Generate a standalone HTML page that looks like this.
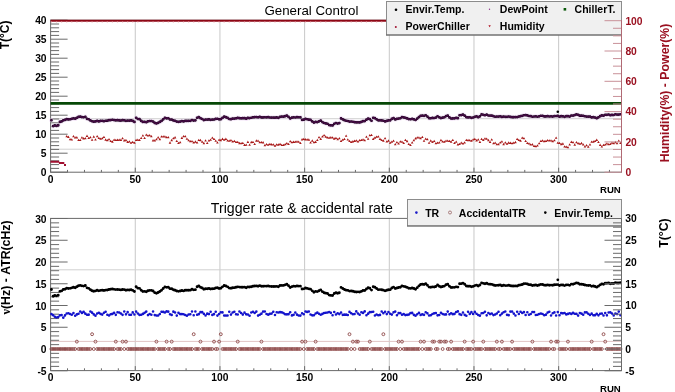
<!DOCTYPE html>
<html><head><meta charset="utf-8"><style>
html,body{margin:0;padding:0;background:#fff;width:675px;height:392px;overflow:hidden}
svg{display:block;will-change:transform}
</style></head><body>
<svg width="675" height="392" viewBox="0 0 675 392">
<rect width="675" height="392" fill="#fff"/>
<line x1="135.28" y1="20.2" x2="135.28" y2="172.2" stroke="#c8c8c8" stroke-width="1"/>
<line x1="219.95" y1="20.2" x2="219.95" y2="172.2" stroke="#c8c8c8" stroke-width="1"/>
<line x1="304.62" y1="20.2" x2="304.62" y2="172.2" stroke="#c8c8c8" stroke-width="1"/>
<line x1="389.3" y1="20.2" x2="389.3" y2="172.2" stroke="#c8c8c8" stroke-width="1"/>
<line x1="473.98" y1="20.2" x2="473.98" y2="172.2" stroke="#c8c8c8" stroke-width="1"/>
<line x1="558.65" y1="20.2" x2="558.65" y2="172.2" stroke="#c8c8c8" stroke-width="1"/>
<line x1="50.6" y1="118.7" x2="621.5" y2="118.7" stroke="#d0d0d0" stroke-width="1"/>
<line x1="50.6" y1="149.2" x2="621.5" y2="149.2" stroke="#d0d0d0" stroke-width="1"/>
<rect x="50.6" y="20.2" width="570.9" height="152" fill="none" stroke="#6a6a6a" stroke-width="1"/>
<path d="M50.6 172.2h17M50.6 168.4h8.5M50.6 164.6h8.5M50.6 160.8h8.5M50.6 157h8.5M50.6 153.2h17M50.6 149.4h8.5M50.6 145.6h8.5M50.6 141.8h8.5M50.6 138h8.5M50.6 134.2h17M50.6 130.4h8.5M50.6 126.6h8.5M50.6 122.8h8.5M50.6 119h8.5M50.6 115.2h17M50.6 111.4h8.5M50.6 107.6h8.5M50.6 103.8h8.5M50.6 100h8.5M50.6 96.2h17M50.6 92.4h8.5M50.6 88.6h8.5M50.6 84.8h8.5M50.6 81h8.5M50.6 77.2h17M50.6 73.4h8.5M50.6 69.6h8.5M50.6 65.8h8.5M50.6 62h8.5M50.6 58.2h17M50.6 54.4h8.5M50.6 50.6h8.5M50.6 46.8h8.5M50.6 43h8.5M50.6 39.2h17M50.6 35.4h8.5M50.6 31.6h8.5M50.6 27.8h8.5M50.6 24h8.5M50.6 20.2h17M50.6 172.2v-4.5M67.53 172.2v-2.3M84.47 172.2v-2.3M101.41 172.2v-2.3M118.34 172.2v-2.3M135.28 172.2v-4.5M152.21 172.2v-2.3M169.15 172.2v-2.3M186.08 172.2v-2.3M203.01 172.2v-2.3M219.95 172.2v-4.5M236.88 172.2v-2.3M253.82 172.2v-2.3M270.75 172.2v-2.3M287.69 172.2v-2.3M304.62 172.2v-4.5M321.56 172.2v-2.3M338.5 172.2v-2.3M355.43 172.2v-2.3M372.37 172.2v-2.3M389.3 172.2v-4.5M406.24 172.2v-2.3M423.17 172.2v-2.3M440.11 172.2v-2.3M457.04 172.2v-2.3M473.98 172.2v-4.5M490.91 172.2v-2.3M507.85 172.2v-2.3M524.78 172.2v-2.3M541.72 172.2v-2.3M558.65 172.2v-4.5M575.59 172.2v-2.3M592.52 172.2v-2.3M609.46 172.2v-2.3" stroke="#6a6a6a" stroke-width="1" fill="none"/>
<line x1="50.6" y1="103.4" x2="621.5" y2="103.4" stroke="#064806" stroke-width="2.8"/>
<line x1="50.6" y1="20.75" x2="621.5" y2="20.75" stroke="#8e0614" stroke-width="2.1"/>
<path d="M50.85 21.6h1.2v0.8h-1.2zM55.93 21.6h1.2v0.8h-1.2zM61.01 21.6h1.2v0.8h-1.2zM66.09 21.6h1.2v0.8h-1.2zM71.17 21.6h1.2v0.8h-1.2zM76.25 21.6h1.2v0.8h-1.2zM81.33 21.6h1.2v0.8h-1.2zM86.41 21.6h1.2v0.8h-1.2zM91.49 21.6h1.2v0.8h-1.2zM96.57 21.6h1.2v0.8h-1.2zM101.65 21.6h1.2v0.8h-1.2zM106.73 21.6h1.2v0.8h-1.2zM111.81 21.6h1.2v0.8h-1.2zM116.89 21.6h1.2v0.8h-1.2zM121.97 21.6h1.2v0.8h-1.2zM127.05 21.6h1.2v0.8h-1.2zM132.13 21.6h1.2v0.8h-1.2zM137.22 21.6h1.2v0.8h-1.2zM142.3 21.6h1.2v0.8h-1.2zM147.38 21.6h1.2v0.8h-1.2zM152.46 21.6h1.2v0.8h-1.2zM157.54 21.6h1.2v0.8h-1.2zM162.62 21.6h1.2v0.8h-1.2zM167.7 21.6h1.2v0.8h-1.2zM172.78 21.6h1.2v0.8h-1.2zM177.86 21.6h1.2v0.8h-1.2zM182.94 21.6h1.2v0.8h-1.2zM188.02 21.6h1.2v0.8h-1.2zM193.1 21.6h1.2v0.8h-1.2zM198.18 21.6h1.2v0.8h-1.2zM203.26 21.6h1.2v0.8h-1.2zM208.34 21.6h1.2v0.8h-1.2zM213.42 21.6h1.2v0.8h-1.2zM218.5 21.6h1.2v0.8h-1.2zM223.58 21.6h1.2v0.8h-1.2zM228.66 21.6h1.2v0.8h-1.2zM233.74 21.6h1.2v0.8h-1.2zM238.83 21.6h1.2v0.8h-1.2zM243.91 21.6h1.2v0.8h-1.2zM248.99 21.6h1.2v0.8h-1.2zM254.07 21.6h1.2v0.8h-1.2zM259.15 21.6h1.2v0.8h-1.2zM264.23 21.6h1.2v0.8h-1.2zM269.31 21.6h1.2v0.8h-1.2zM274.39 21.6h1.2v0.8h-1.2zM279.47 21.6h1.2v0.8h-1.2zM284.55 21.6h1.2v0.8h-1.2zM289.63 21.6h1.2v0.8h-1.2zM294.71 21.6h1.2v0.8h-1.2zM299.79 21.6h1.2v0.8h-1.2zM304.87 21.6h1.2v0.8h-1.2zM309.95 21.6h1.2v0.8h-1.2zM315.03 21.6h1.2v0.8h-1.2zM320.11 21.6h1.2v0.8h-1.2zM325.19 21.6h1.2v0.8h-1.2zM330.27 21.6h1.2v0.8h-1.2zM335.35 21.6h1.2v0.8h-1.2zM340.44 21.6h1.2v0.8h-1.2zM345.52 21.6h1.2v0.8h-1.2zM350.6 21.6h1.2v0.8h-1.2zM355.68 21.6h1.2v0.8h-1.2zM360.76 21.6h1.2v0.8h-1.2zM365.84 21.6h1.2v0.8h-1.2zM370.92 21.6h1.2v0.8h-1.2zM376 21.6h1.2v0.8h-1.2zM381.08 21.6h1.2v0.8h-1.2zM386.16 21.6h1.2v0.8h-1.2zM391.24 21.6h1.2v0.8h-1.2zM396.32 21.6h1.2v0.8h-1.2zM401.4 21.6h1.2v0.8h-1.2zM406.48 21.6h1.2v0.8h-1.2zM411.56 21.6h1.2v0.8h-1.2zM416.64 21.6h1.2v0.8h-1.2zM421.72 21.6h1.2v0.8h-1.2zM426.8 21.6h1.2v0.8h-1.2zM431.88 21.6h1.2v0.8h-1.2zM436.96 21.6h1.2v0.8h-1.2zM442.05 21.6h1.2v0.8h-1.2zM447.13 21.6h1.2v0.8h-1.2zM452.21 21.6h1.2v0.8h-1.2zM457.29 21.6h1.2v0.8h-1.2zM462.37 21.6h1.2v0.8h-1.2zM467.45 21.6h1.2v0.8h-1.2zM472.53 21.6h1.2v0.8h-1.2zM477.61 21.6h1.2v0.8h-1.2zM482.69 21.6h1.2v0.8h-1.2zM487.77 21.6h1.2v0.8h-1.2zM492.85 21.6h1.2v0.8h-1.2zM497.93 21.6h1.2v0.8h-1.2zM503.01 21.6h1.2v0.8h-1.2zM508.09 21.6h1.2v0.8h-1.2zM513.17 21.6h1.2v0.8h-1.2zM518.25 21.6h1.2v0.8h-1.2zM523.33 21.6h1.2v0.8h-1.2zM528.41 21.6h1.2v0.8h-1.2zM533.49 21.6h1.2v0.8h-1.2zM538.57 21.6h1.2v0.8h-1.2zM543.66 21.6h1.2v0.8h-1.2zM548.74 21.6h1.2v0.8h-1.2zM553.82 21.6h1.2v0.8h-1.2zM558.9 21.6h1.2v0.8h-1.2zM563.98 21.6h1.2v0.8h-1.2zM569.06 21.6h1.2v0.8h-1.2zM574.14 21.6h1.2v0.8h-1.2zM579.22 21.6h1.2v0.8h-1.2zM584.3 21.6h1.2v0.8h-1.2zM589.38 21.6h1.2v0.8h-1.2zM594.46 21.6h1.2v0.8h-1.2zM599.54 21.6h1.2v0.8h-1.2zM604.62 21.6h1.2v0.8h-1.2zM609.7 21.6h1.2v0.8h-1.2zM614.78 21.6h1.2v0.8h-1.2zM619.86 21.6h1.2v0.8h-1.2z" fill="#f0a0a8" opacity="0.9"/>
<path d="M50.45 160.7h2v2h-2zM52.14 160.7h2v2h-2zM53.83 160.7h2v2h-2zM55.53 160.7h2v2h-2zM57.22 160.7h2v2h-2zM58.91 162h2v2h-2zM60.61 162h2v2h-2zM62.3 162h2v2h-2zM63.99 164h2v2h-2z" fill="#a01030"/>
<path d="M65.39 137.27h2.6l-1.3-2.3zM67.08 137.9h2.6l-1.3-2.3zM68.78 140.31h2.6l-1.3-2.3zM70.47 140.59h2.6l-1.3-2.3zM72.16 137.28h2.6l-1.3-2.3zM73.86 138.59h2.6l-1.3-2.3zM75.55 138.38h2.6l-1.3-2.3zM77.24 140.98h2.6l-1.3-2.3zM78.94 141.08h2.6l-1.3-2.3zM80.63 138.54h2.6l-1.3-2.3zM82.32 139.39h2.6l-1.3-2.3zM84.02 139.29h2.6l-1.3-2.3zM85.71 136.88h2.6l-1.3-2.3zM87.4 138.96h2.6l-1.3-2.3zM89.1 138.19h2.6l-1.3-2.3zM90.79 140.77h2.6l-1.3-2.3zM92.48 137.67h2.6l-1.3-2.3zM94.18 140.46h2.6l-1.3-2.3zM95.87 137.21h2.6l-1.3-2.3zM97.56 138.94h2.6l-1.3-2.3zM99.26 139.85h2.6l-1.3-2.3zM100.95 139.35h2.6l-1.3-2.3zM102.65 138.04h2.6l-1.3-2.3zM104.34 140.66h2.6l-1.3-2.3zM106.03 141.3h2.6l-1.3-2.3zM107.73 140.35h2.6l-1.3-2.3zM109.42 142.02h2.6l-1.3-2.3zM111.11 142.66h2.6l-1.3-2.3zM112.81 140.7h2.6l-1.3-2.3zM114.5 141.03h2.6l-1.3-2.3zM116.19 140.88h2.6l-1.3-2.3zM117.89 140.72h2.6l-1.3-2.3zM119.58 140.92h2.6l-1.3-2.3zM121.27 139.37h2.6l-1.3-2.3zM122.97 141.38h2.6l-1.3-2.3zM124.66 141.13h2.6l-1.3-2.3zM126.35 142.89h2.6l-1.3-2.3zM128.05 142.58h2.6l-1.3-2.3zM129.74 143.83h2.6l-1.3-2.3zM131.43 142.95h2.6l-1.3-2.3zM133.13 143.84h2.6l-1.3-2.3zM134.82 141.04h2.6l-1.3-2.3zM136.52 140.71h2.6l-1.3-2.3zM138.21 141.06h2.6l-1.3-2.3zM139.9 138.95h2.6l-1.3-2.3zM141.6 136.55h2.6l-1.3-2.3zM143.29 139.06h2.6l-1.3-2.3zM144.98 135.72h2.6l-1.3-2.3zM146.68 136.55h2.6l-1.3-2.3zM148.37 136.33h2.6l-1.3-2.3zM150.06 137.37h2.6l-1.3-2.3zM151.76 141.38h2.6l-1.3-2.3zM153.45 141.59h2.6l-1.3-2.3zM155.14 140.22h2.6l-1.3-2.3zM156.84 138.41h2.6l-1.3-2.3zM158.53 140.16h2.6l-1.3-2.3zM160.22 137.61h2.6l-1.3-2.3zM161.92 137.55h2.6l-1.3-2.3zM163.61 137.6h2.6l-1.3-2.3zM165.3 138.26h2.6l-1.3-2.3zM167 138.26h2.6l-1.3-2.3zM168.69 143.66h2.6l-1.3-2.3zM170.39 141.16h2.6l-1.3-2.3zM172.08 139.31h2.6l-1.3-2.3zM173.77 138.42h2.6l-1.3-2.3zM175.47 141.93h2.6l-1.3-2.3zM177.16 143.94h2.6l-1.3-2.3zM178.85 143.24h2.6l-1.3-2.3zM180.55 138.91h2.6l-1.3-2.3zM182.24 137.35h2.6l-1.3-2.3zM183.93 137.19h2.6l-1.3-2.3zM185.63 139.87h2.6l-1.3-2.3zM187.32 141.22h2.6l-1.3-2.3zM189.01 142.23h2.6l-1.3-2.3zM190.71 142.25h2.6l-1.3-2.3zM192.4 143.56h2.6l-1.3-2.3zM194.09 142.64h2.6l-1.3-2.3zM195.79 143.51h2.6l-1.3-2.3zM197.48 141.02h2.6l-1.3-2.3zM199.17 141.14h2.6l-1.3-2.3zM200.87 142.87h2.6l-1.3-2.3zM202.56 144.14h2.6l-1.3-2.3zM204.26 141.52h2.6l-1.3-2.3zM205.95 143.93h2.6l-1.3-2.3zM207.64 141.57h2.6l-1.3-2.3zM209.34 140.74h2.6l-1.3-2.3zM211.03 138.78h2.6l-1.3-2.3zM212.72 140.12h2.6l-1.3-2.3zM214.42 141.71h2.6l-1.3-2.3zM216.11 143.56h2.6l-1.3-2.3zM217.8 140.83h2.6l-1.3-2.3zM219.5 141.15h2.6l-1.3-2.3zM221.19 139.88h2.6l-1.3-2.3zM222.88 140.81h2.6l-1.3-2.3zM224.58 139.9h2.6l-1.3-2.3zM226.27 141.53h2.6l-1.3-2.3zM227.96 141.87h2.6l-1.3-2.3zM229.66 141.33h2.6l-1.3-2.3zM231.35 142.45h2.6l-1.3-2.3zM233.04 141.97h2.6l-1.3-2.3zM234.74 143.04h2.6l-1.3-2.3zM236.43 143.06h2.6l-1.3-2.3zM238.13 144.16h2.6l-1.3-2.3zM239.82 144.26h2.6l-1.3-2.3zM241.51 143.96h2.6l-1.3-2.3zM243.21 145.89h2.6l-1.3-2.3zM244.9 145.76h2.6l-1.3-2.3zM246.59 142.89h2.6l-1.3-2.3zM248.29 145.69h2.6l-1.3-2.3zM249.98 143.14h2.6l-1.3-2.3zM251.67 143.08h2.6l-1.3-2.3zM253.37 144.99h2.6l-1.3-2.3zM255.06 141.64h2.6l-1.3-2.3zM256.75 141.84h2.6l-1.3-2.3zM258.45 143.26h2.6l-1.3-2.3zM260.14 143.27h2.6l-1.3-2.3zM261.83 143.39h2.6l-1.3-2.3zM263.53 146.36h2.6l-1.3-2.3zM265.22 145.31h2.6l-1.3-2.3zM266.91 145.8h2.6l-1.3-2.3zM268.61 144.96h2.6l-1.3-2.3zM270.3 145.41h2.6l-1.3-2.3zM272 145.62h2.6l-1.3-2.3zM273.69 146.83h2.6l-1.3-2.3zM275.38 145.5h2.6l-1.3-2.3zM277.08 145.63h2.6l-1.3-2.3zM278.77 144.93h2.6l-1.3-2.3zM280.46 146.02h2.6l-1.3-2.3zM282.16 146.11h2.6l-1.3-2.3zM283.85 145.18h2.6l-1.3-2.3zM285.54 144.23h2.6l-1.3-2.3zM287.24 145.12h2.6l-1.3-2.3zM288.93 142.26h2.6l-1.3-2.3zM290.62 143.23h2.6l-1.3-2.3zM292.32 142.89h2.6l-1.3-2.3zM294.01 142.81h2.6l-1.3-2.3zM295.7 142.52h2.6l-1.3-2.3zM297.4 142.74h2.6l-1.3-2.3zM299.09 144.01h2.6l-1.3-2.3zM300.78 140.42h2.6l-1.3-2.3zM302.48 140.04h2.6l-1.3-2.3zM304.17 140.4h2.6l-1.3-2.3zM305.87 140.47h2.6l-1.3-2.3zM307.56 140.64h2.6l-1.3-2.3zM309.25 143.54h2.6l-1.3-2.3zM310.95 141.64h2.6l-1.3-2.3zM312.64 143.35h2.6l-1.3-2.3zM314.33 142.9h2.6l-1.3-2.3zM316.03 141.04h2.6l-1.3-2.3zM317.72 138.33h2.6l-1.3-2.3zM319.41 139.91h2.6l-1.3-2.3zM321.11 137.48h2.6l-1.3-2.3zM322.8 136.18h2.6l-1.3-2.3zM324.49 137.65h2.6l-1.3-2.3zM326.19 138.57h2.6l-1.3-2.3zM327.88 138.7h2.6l-1.3-2.3zM329.57 138.41h2.6l-1.3-2.3zM331.27 138.59h2.6l-1.3-2.3zM332.96 139.66h2.6l-1.3-2.3zM334.65 138.99h2.6l-1.3-2.3zM336.35 140.31h2.6l-1.3-2.3zM338.04 139.21h2.6l-1.3-2.3zM339.74 142.07h2.6l-1.3-2.3zM341.43 140.83h2.6l-1.3-2.3zM343.12 140.11h2.6l-1.3-2.3zM344.82 136.76h2.6l-1.3-2.3zM346.51 140.56h2.6l-1.3-2.3zM348.2 142.07h2.6l-1.3-2.3zM349.9 142.97h2.6l-1.3-2.3zM351.59 142.4h2.6l-1.3-2.3zM353.28 141.9h2.6l-1.3-2.3zM354.98 141.54h2.6l-1.3-2.3zM356.67 142.58h2.6l-1.3-2.3zM358.36 141.3h2.6l-1.3-2.3zM360.06 141.02h2.6l-1.3-2.3zM361.75 140.45h2.6l-1.3-2.3zM363.44 141.21h2.6l-1.3-2.3zM365.14 137.71h2.6l-1.3-2.3zM366.83 139.79h2.6l-1.3-2.3zM368.52 136.27h2.6l-1.3-2.3zM370.22 136h2.6l-1.3-2.3zM371.91 139.9h2.6l-1.3-2.3zM373.61 138.64h2.6l-1.3-2.3zM375.3 137.68h2.6l-1.3-2.3zM376.99 137.53h2.6l-1.3-2.3zM378.69 139.92h2.6l-1.3-2.3zM380.38 141.02h2.6l-1.3-2.3zM382.07 141.66h2.6l-1.3-2.3zM383.77 139.28h2.6l-1.3-2.3zM385.46 142.54h2.6l-1.3-2.3zM387.15 141.63h2.6l-1.3-2.3zM388.85 143.81h2.6l-1.3-2.3zM390.54 142.85h2.6l-1.3-2.3zM392.23 141.72h2.6l-1.3-2.3zM393.93 145.31h2.6l-1.3-2.3zM395.62 143.18h2.6l-1.3-2.3zM397.31 144.48h2.6l-1.3-2.3zM399.01 142.53h2.6l-1.3-2.3zM400.7 142.71h2.6l-1.3-2.3zM402.39 143.99h2.6l-1.3-2.3zM404.09 140.95h2.6l-1.3-2.3zM405.78 142.16h2.6l-1.3-2.3zM407.48 144.96h2.6l-1.3-2.3zM409.17 146.08h2.6l-1.3-2.3zM410.86 143.5h2.6l-1.3-2.3zM412.56 141.24h2.6l-1.3-2.3zM414.25 139.39h2.6l-1.3-2.3zM415.94 138.58h2.6l-1.3-2.3zM417.64 138.49h2.6l-1.3-2.3zM419.33 139.27h2.6l-1.3-2.3zM421.02 137.96h2.6l-1.3-2.3zM422.72 141.82h2.6l-1.3-2.3zM424.41 139.76h2.6l-1.3-2.3zM426.1 140.28h2.6l-1.3-2.3zM427.8 143.87h2.6l-1.3-2.3zM429.49 141.67h2.6l-1.3-2.3zM431.18 142.93h2.6l-1.3-2.3zM432.88 142.07h2.6l-1.3-2.3zM434.57 144.25h2.6l-1.3-2.3zM436.26 143.8h2.6l-1.3-2.3zM437.96 143.57h2.6l-1.3-2.3zM439.65 141.13h2.6l-1.3-2.3zM441.35 142.47h2.6l-1.3-2.3zM443.04 142.7h2.6l-1.3-2.3zM444.73 141.81h2.6l-1.3-2.3zM446.43 141.76h2.6l-1.3-2.3zM448.12 141.98h2.6l-1.3-2.3zM449.81 142.67h2.6l-1.3-2.3zM451.51 140.96h2.6l-1.3-2.3zM453.2 144.12h2.6l-1.3-2.3zM454.89 142.72h2.6l-1.3-2.3zM456.59 145.41h2.6l-1.3-2.3zM458.28 145.01h2.6l-1.3-2.3zM459.97 143.73h2.6l-1.3-2.3zM461.67 144.61h2.6l-1.3-2.3zM463.36 143.57h2.6l-1.3-2.3zM465.05 141.08h2.6l-1.3-2.3zM466.75 141.15h2.6l-1.3-2.3zM468.44 141.22h2.6l-1.3-2.3zM470.13 141.7h2.6l-1.3-2.3zM471.83 140.43h2.6l-1.3-2.3zM473.52 140.12h2.6l-1.3-2.3zM475.22 141.4h2.6l-1.3-2.3zM476.91 140.55h2.6l-1.3-2.3zM478.6 142.9h2.6l-1.3-2.3zM480.3 140.1h2.6l-1.3-2.3zM481.99 140.96h2.6l-1.3-2.3zM483.68 139.61h2.6l-1.3-2.3zM485.38 139.82h2.6l-1.3-2.3zM487.07 141.15h2.6l-1.3-2.3zM488.76 142.91h2.6l-1.3-2.3zM490.46 140.43h2.6l-1.3-2.3zM492.15 144.32h2.6l-1.3-2.3zM493.84 143.87h2.6l-1.3-2.3zM495.54 145.21h2.6l-1.3-2.3zM497.23 145.36h2.6l-1.3-2.3zM498.92 143.56h2.6l-1.3-2.3zM500.62 142.53h2.6l-1.3-2.3zM502.31 145.13h2.6l-1.3-2.3zM504 143.5h2.6l-1.3-2.3zM505.7 144.73h2.6l-1.3-2.3zM507.39 143.63h2.6l-1.3-2.3zM509.09 143.92h2.6l-1.3-2.3zM510.78 144.29h2.6l-1.3-2.3zM512.47 143.83h2.6l-1.3-2.3zM514.17 143.16h2.6l-1.3-2.3zM515.86 140.02h2.6l-1.3-2.3zM517.55 141.09h2.6l-1.3-2.3zM519.25 141.65h2.6l-1.3-2.3zM520.94 138.8h2.6l-1.3-2.3zM522.63 139.2h2.6l-1.3-2.3zM524.33 142.02h2.6l-1.3-2.3zM526.02 143.94h2.6l-1.3-2.3zM527.71 144.47h2.6l-1.3-2.3zM529.41 145.6h2.6l-1.3-2.3zM531.1 145.39h2.6l-1.3-2.3zM532.79 147.08h2.6l-1.3-2.3zM534.49 147.25h2.6l-1.3-2.3zM536.18 146.46h2.6l-1.3-2.3zM537.87 144.23h2.6l-1.3-2.3zM539.57 141.97h2.6l-1.3-2.3zM541.26 141.45h2.6l-1.3-2.3zM542.96 142.18h2.6l-1.3-2.3zM544.65 141.93h2.6l-1.3-2.3zM546.34 141.27h2.6l-1.3-2.3zM548.04 141.58h2.6l-1.3-2.3zM549.73 141.49h2.6l-1.3-2.3zM551.42 142.29h2.6l-1.3-2.3zM553.12 141.23h2.6l-1.3-2.3zM554.81 138.84h2.6l-1.3-2.3zM556.5 143.76h2.6l-1.3-2.3zM558.2 144.06h2.6l-1.3-2.3zM559.89 145.15h2.6l-1.3-2.3zM561.58 144.67h2.6l-1.3-2.3zM563.28 147.54h2.6l-1.3-2.3zM564.97 147.73h2.6l-1.3-2.3zM566.66 148.22h2.6l-1.3-2.3zM568.36 145.46h2.6l-1.3-2.3zM570.05 142.88h2.6l-1.3-2.3zM571.74 143.37h2.6l-1.3-2.3zM573.44 145.65h2.6l-1.3-2.3zM575.13 143.26h2.6l-1.3-2.3zM576.83 144.2h2.6l-1.3-2.3zM578.52 144.71h2.6l-1.3-2.3zM580.21 144.16h2.6l-1.3-2.3zM581.91 145.47h2.6l-1.3-2.3zM583.6 147.47h2.6l-1.3-2.3zM585.29 146.31h2.6l-1.3-2.3zM586.99 147.81h2.6l-1.3-2.3zM588.68 145.59h2.6l-1.3-2.3zM590.37 142.87h2.6l-1.3-2.3zM592.07 142.66h2.6l-1.3-2.3zM593.76 141.94h2.6l-1.3-2.3zM595.45 140.89h2.6l-1.3-2.3zM597.15 143.12h2.6l-1.3-2.3zM598.84 145.89h2.6l-1.3-2.3zM600.53 147.51h2.6l-1.3-2.3zM602.23 146.12h2.6l-1.3-2.3zM603.92 145.51h2.6l-1.3-2.3zM605.61 144.52h2.6l-1.3-2.3zM607.31 145.36h2.6l-1.3-2.3zM609 144.99h2.6l-1.3-2.3zM610.7 143.81h2.6l-1.3-2.3zM612.39 144.24h2.6l-1.3-2.3zM614.08 143.15h2.6l-1.3-2.3zM615.78 144.36h2.6l-1.3-2.3zM617.47 141.73h2.6l-1.3-2.3zM619.16 144.03h2.6l-1.3-2.3z" fill="#a81818"/>
<path d="M49.15 120.26a2.3 2.3 0 1 0 4.6 0a2.3 2.3 0 1 0 -4.6 0zM50.84 126.12a2.3 2.3 0 1 0 4.6 0a2.3 2.3 0 1 0 -4.6 0zM52.53 125.46a2.3 2.3 0 1 0 4.6 0a2.3 2.3 0 1 0 -4.6 0zM54.23 125.79a2.3 2.3 0 1 0 4.6 0a2.3 2.3 0 1 0 -4.6 0zM55.92 125.17a2.3 2.3 0 1 0 4.6 0a2.3 2.3 0 1 0 -4.6 0zM57.61 121.89a2.3 2.3 0 1 0 4.6 0a2.3 2.3 0 1 0 -4.6 0zM59.31 121.43a2.3 2.3 0 1 0 4.6 0a2.3 2.3 0 1 0 -4.6 0zM61 120.28a2.3 2.3 0 1 0 4.6 0a2.3 2.3 0 1 0 -4.6 0zM62.69 119.97a2.3 2.3 0 1 0 4.6 0a2.3 2.3 0 1 0 -4.6 0zM64.39 119.19a2.3 2.3 0 1 0 4.6 0a2.3 2.3 0 1 0 -4.6 0zM66.08 119.39a2.3 2.3 0 1 0 4.6 0a2.3 2.3 0 1 0 -4.6 0zM67.78 119.24a2.3 2.3 0 1 0 4.6 0a2.3 2.3 0 1 0 -4.6 0zM69.47 118.8a2.3 2.3 0 1 0 4.6 0a2.3 2.3 0 1 0 -4.6 0zM71.16 118.3a2.3 2.3 0 1 0 4.6 0a2.3 2.3 0 1 0 -4.6 0zM72.86 118.65a2.3 2.3 0 1 0 4.6 0a2.3 2.3 0 1 0 -4.6 0zM74.55 117.83a2.3 2.3 0 1 0 4.6 0a2.3 2.3 0 1 0 -4.6 0zM76.24 116.89a2.3 2.3 0 1 0 4.6 0a2.3 2.3 0 1 0 -4.6 0zM77.94 116.65a2.3 2.3 0 1 0 4.6 0a2.3 2.3 0 1 0 -4.6 0zM79.63 117.03a2.3 2.3 0 1 0 4.6 0a2.3 2.3 0 1 0 -4.6 0zM81.32 117.25a2.3 2.3 0 1 0 4.6 0a2.3 2.3 0 1 0 -4.6 0zM83.02 116.78a2.3 2.3 0 1 0 4.6 0a2.3 2.3 0 1 0 -4.6 0zM84.71 118.8a2.3 2.3 0 1 0 4.6 0a2.3 2.3 0 1 0 -4.6 0zM86.4 119.24a2.3 2.3 0 1 0 4.6 0a2.3 2.3 0 1 0 -4.6 0zM88.1 120.47a2.3 2.3 0 1 0 4.6 0a2.3 2.3 0 1 0 -4.6 0zM89.79 121.26a2.3 2.3 0 1 0 4.6 0a2.3 2.3 0 1 0 -4.6 0zM91.48 121.72a2.3 2.3 0 1 0 4.6 0a2.3 2.3 0 1 0 -4.6 0zM93.18 121.47a2.3 2.3 0 1 0 4.6 0a2.3 2.3 0 1 0 -4.6 0zM94.87 120.92a2.3 2.3 0 1 0 4.6 0a2.3 2.3 0 1 0 -4.6 0zM96.56 121.41a2.3 2.3 0 1 0 4.6 0a2.3 2.3 0 1 0 -4.6 0zM98.26 120.96a2.3 2.3 0 1 0 4.6 0a2.3 2.3 0 1 0 -4.6 0zM99.95 120.87a2.3 2.3 0 1 0 4.6 0a2.3 2.3 0 1 0 -4.6 0zM101.65 121.12a2.3 2.3 0 1 0 4.6 0a2.3 2.3 0 1 0 -4.6 0zM103.34 120.77a2.3 2.3 0 1 0 4.6 0a2.3 2.3 0 1 0 -4.6 0zM105.03 120.71a2.3 2.3 0 1 0 4.6 0a2.3 2.3 0 1 0 -4.6 0zM106.73 120.21a2.3 2.3 0 1 0 4.6 0a2.3 2.3 0 1 0 -4.6 0zM108.42 120.06a2.3 2.3 0 1 0 4.6 0a2.3 2.3 0 1 0 -4.6 0zM110.11 119.74a2.3 2.3 0 1 0 4.6 0a2.3 2.3 0 1 0 -4.6 0zM111.81 120.08a2.3 2.3 0 1 0 4.6 0a2.3 2.3 0 1 0 -4.6 0zM113.5 120.3a2.3 2.3 0 1 0 4.6 0a2.3 2.3 0 1 0 -4.6 0zM115.19 120.17a2.3 2.3 0 1 0 4.6 0a2.3 2.3 0 1 0 -4.6 0zM116.89 120.38a2.3 2.3 0 1 0 4.6 0a2.3 2.3 0 1 0 -4.6 0zM118.58 120.58a2.3 2.3 0 1 0 4.6 0a2.3 2.3 0 1 0 -4.6 0zM120.27 120.19a2.3 2.3 0 1 0 4.6 0a2.3 2.3 0 1 0 -4.6 0zM121.97 120.34a2.3 2.3 0 1 0 4.6 0a2.3 2.3 0 1 0 -4.6 0zM123.66 120.82a2.3 2.3 0 1 0 4.6 0a2.3 2.3 0 1 0 -4.6 0zM125.35 120.58a2.3 2.3 0 1 0 4.6 0a2.3 2.3 0 1 0 -4.6 0zM127.05 120.69a2.3 2.3 0 1 0 4.6 0a2.3 2.3 0 1 0 -4.6 0zM128.74 120.43a2.3 2.3 0 1 0 4.6 0a2.3 2.3 0 1 0 -4.6 0zM130.43 120.96a2.3 2.3 0 1 0 4.6 0a2.3 2.3 0 1 0 -4.6 0zM132.13 121.96a2.3 2.3 0 1 0 4.6 0a2.3 2.3 0 1 0 -4.6 0zM133.82 117.77a2.3 2.3 0 1 0 4.6 0a2.3 2.3 0 1 0 -4.6 0zM135.52 119.02a2.3 2.3 0 1 0 4.6 0a2.3 2.3 0 1 0 -4.6 0zM137.21 119.22a2.3 2.3 0 1 0 4.6 0a2.3 2.3 0 1 0 -4.6 0zM138.9 120.91a2.3 2.3 0 1 0 4.6 0a2.3 2.3 0 1 0 -4.6 0zM140.6 121.93a2.3 2.3 0 1 0 4.6 0a2.3 2.3 0 1 0 -4.6 0zM142.29 121.85a2.3 2.3 0 1 0 4.6 0a2.3 2.3 0 1 0 -4.6 0zM143.98 122.13a2.3 2.3 0 1 0 4.6 0a2.3 2.3 0 1 0 -4.6 0zM145.68 121.31a2.3 2.3 0 1 0 4.6 0a2.3 2.3 0 1 0 -4.6 0zM147.37 120.98a2.3 2.3 0 1 0 4.6 0a2.3 2.3 0 1 0 -4.6 0zM149.06 121.02a2.3 2.3 0 1 0 4.6 0a2.3 2.3 0 1 0 -4.6 0zM150.76 121.59a2.3 2.3 0 1 0 4.6 0a2.3 2.3 0 1 0 -4.6 0zM152.45 122.94a2.3 2.3 0 1 0 4.6 0a2.3 2.3 0 1 0 -4.6 0zM154.14 123.44a2.3 2.3 0 1 0 4.6 0a2.3 2.3 0 1 0 -4.6 0zM155.84 122.82a2.3 2.3 0 1 0 4.6 0a2.3 2.3 0 1 0 -4.6 0zM157.53 121.97a2.3 2.3 0 1 0 4.6 0a2.3 2.3 0 1 0 -4.6 0zM159.22 120.89a2.3 2.3 0 1 0 4.6 0a2.3 2.3 0 1 0 -4.6 0zM160.92 119.3a2.3 2.3 0 1 0 4.6 0a2.3 2.3 0 1 0 -4.6 0zM162.61 117.96a2.3 2.3 0 1 0 4.6 0a2.3 2.3 0 1 0 -4.6 0zM164.3 118.32a2.3 2.3 0 1 0 4.6 0a2.3 2.3 0 1 0 -4.6 0zM166 118.27a2.3 2.3 0 1 0 4.6 0a2.3 2.3 0 1 0 -4.6 0zM167.69 119.48a2.3 2.3 0 1 0 4.6 0a2.3 2.3 0 1 0 -4.6 0zM169.39 119.56a2.3 2.3 0 1 0 4.6 0a2.3 2.3 0 1 0 -4.6 0zM171.08 120.38a2.3 2.3 0 1 0 4.6 0a2.3 2.3 0 1 0 -4.6 0zM172.77 120.84a2.3 2.3 0 1 0 4.6 0a2.3 2.3 0 1 0 -4.6 0zM174.47 121.56a2.3 2.3 0 1 0 4.6 0a2.3 2.3 0 1 0 -4.6 0zM176.16 121.84a2.3 2.3 0 1 0 4.6 0a2.3 2.3 0 1 0 -4.6 0zM177.85 121.53a2.3 2.3 0 1 0 4.6 0a2.3 2.3 0 1 0 -4.6 0zM179.55 121.06a2.3 2.3 0 1 0 4.6 0a2.3 2.3 0 1 0 -4.6 0zM181.24 121.43a2.3 2.3 0 1 0 4.6 0a2.3 2.3 0 1 0 -4.6 0zM182.93 120.82a2.3 2.3 0 1 0 4.6 0a2.3 2.3 0 1 0 -4.6 0zM184.63 120.89a2.3 2.3 0 1 0 4.6 0a2.3 2.3 0 1 0 -4.6 0zM186.32 120.84a2.3 2.3 0 1 0 4.6 0a2.3 2.3 0 1 0 -4.6 0zM188.01 120.8a2.3 2.3 0 1 0 4.6 0a2.3 2.3 0 1 0 -4.6 0zM189.71 120.06a2.3 2.3 0 1 0 4.6 0a2.3 2.3 0 1 0 -4.6 0zM191.4 120.54a2.3 2.3 0 1 0 4.6 0a2.3 2.3 0 1 0 -4.6 0zM193.09 120.34a2.3 2.3 0 1 0 4.6 0a2.3 2.3 0 1 0 -4.6 0zM194.79 117.75a2.3 2.3 0 1 0 4.6 0a2.3 2.3 0 1 0 -4.6 0zM196.48 117.21a2.3 2.3 0 1 0 4.6 0a2.3 2.3 0 1 0 -4.6 0zM198.17 118.21a2.3 2.3 0 1 0 4.6 0a2.3 2.3 0 1 0 -4.6 0zM199.87 118.98a2.3 2.3 0 1 0 4.6 0a2.3 2.3 0 1 0 -4.6 0zM201.56 120.04a2.3 2.3 0 1 0 4.6 0a2.3 2.3 0 1 0 -4.6 0zM203.26 119.61a2.3 2.3 0 1 0 4.6 0a2.3 2.3 0 1 0 -4.6 0zM204.95 119.55a2.3 2.3 0 1 0 4.6 0a2.3 2.3 0 1 0 -4.6 0zM206.64 119.38a2.3 2.3 0 1 0 4.6 0a2.3 2.3 0 1 0 -4.6 0zM208.34 119.79a2.3 2.3 0 1 0 4.6 0a2.3 2.3 0 1 0 -4.6 0zM210.03 119.55a2.3 2.3 0 1 0 4.6 0a2.3 2.3 0 1 0 -4.6 0zM211.72 119.49a2.3 2.3 0 1 0 4.6 0a2.3 2.3 0 1 0 -4.6 0zM213.42 118.91a2.3 2.3 0 1 0 4.6 0a2.3 2.3 0 1 0 -4.6 0zM215.11 118.74a2.3 2.3 0 1 0 4.6 0a2.3 2.3 0 1 0 -4.6 0zM216.8 119.37a2.3 2.3 0 1 0 4.6 0a2.3 2.3 0 1 0 -4.6 0zM218.5 119.15a2.3 2.3 0 1 0 4.6 0a2.3 2.3 0 1 0 -4.6 0zM220.19 117.91a2.3 2.3 0 1 0 4.6 0a2.3 2.3 0 1 0 -4.6 0zM221.88 116.72a2.3 2.3 0 1 0 4.6 0a2.3 2.3 0 1 0 -4.6 0zM223.58 117.19a2.3 2.3 0 1 0 4.6 0a2.3 2.3 0 1 0 -4.6 0zM225.27 117.92a2.3 2.3 0 1 0 4.6 0a2.3 2.3 0 1 0 -4.6 0zM226.96 119.01a2.3 2.3 0 1 0 4.6 0a2.3 2.3 0 1 0 -4.6 0zM228.66 119.14a2.3 2.3 0 1 0 4.6 0a2.3 2.3 0 1 0 -4.6 0zM230.35 118.66a2.3 2.3 0 1 0 4.6 0a2.3 2.3 0 1 0 -4.6 0zM232.04 118.6a2.3 2.3 0 1 0 4.6 0a2.3 2.3 0 1 0 -4.6 0zM233.74 118.31a2.3 2.3 0 1 0 4.6 0a2.3 2.3 0 1 0 -4.6 0zM235.43 117.89a2.3 2.3 0 1 0 4.6 0a2.3 2.3 0 1 0 -4.6 0zM237.13 118.13a2.3 2.3 0 1 0 4.6 0a2.3 2.3 0 1 0 -4.6 0zM238.82 118.29a2.3 2.3 0 1 0 4.6 0a2.3 2.3 0 1 0 -4.6 0zM240.51 118.19a2.3 2.3 0 1 0 4.6 0a2.3 2.3 0 1 0 -4.6 0zM242.21 118.14a2.3 2.3 0 1 0 4.6 0a2.3 2.3 0 1 0 -4.6 0zM243.9 118.71a2.3 2.3 0 1 0 4.6 0a2.3 2.3 0 1 0 -4.6 0zM245.59 117.94a2.3 2.3 0 1 0 4.6 0a2.3 2.3 0 1 0 -4.6 0zM247.29 118.04a2.3 2.3 0 1 0 4.6 0a2.3 2.3 0 1 0 -4.6 0zM248.98 117.76a2.3 2.3 0 1 0 4.6 0a2.3 2.3 0 1 0 -4.6 0zM250.67 117.33a2.3 2.3 0 1 0 4.6 0a2.3 2.3 0 1 0 -4.6 0zM252.37 117.2a2.3 2.3 0 1 0 4.6 0a2.3 2.3 0 1 0 -4.6 0zM254.06 117.09a2.3 2.3 0 1 0 4.6 0a2.3 2.3 0 1 0 -4.6 0zM255.75 117.36a2.3 2.3 0 1 0 4.6 0a2.3 2.3 0 1 0 -4.6 0zM257.45 116.88a2.3 2.3 0 1 0 4.6 0a2.3 2.3 0 1 0 -4.6 0zM259.14 117.4a2.3 2.3 0 1 0 4.6 0a2.3 2.3 0 1 0 -4.6 0zM260.83 117.39a2.3 2.3 0 1 0 4.6 0a2.3 2.3 0 1 0 -4.6 0zM262.53 117.27a2.3 2.3 0 1 0 4.6 0a2.3 2.3 0 1 0 -4.6 0zM264.22 117.31a2.3 2.3 0 1 0 4.6 0a2.3 2.3 0 1 0 -4.6 0zM265.91 117.15a2.3 2.3 0 1 0 4.6 0a2.3 2.3 0 1 0 -4.6 0zM267.61 117.48a2.3 2.3 0 1 0 4.6 0a2.3 2.3 0 1 0 -4.6 0zM269.3 117.6a2.3 2.3 0 1 0 4.6 0a2.3 2.3 0 1 0 -4.6 0zM271 117.54a2.3 2.3 0 1 0 4.6 0a2.3 2.3 0 1 0 -4.6 0zM272.69 117.66a2.3 2.3 0 1 0 4.6 0a2.3 2.3 0 1 0 -4.6 0zM274.38 117.47a2.3 2.3 0 1 0 4.6 0a2.3 2.3 0 1 0 -4.6 0zM276.08 117.82a2.3 2.3 0 1 0 4.6 0a2.3 2.3 0 1 0 -4.6 0zM277.77 116.78a2.3 2.3 0 1 0 4.6 0a2.3 2.3 0 1 0 -4.6 0zM279.46 116.62a2.3 2.3 0 1 0 4.6 0a2.3 2.3 0 1 0 -4.6 0zM281.16 116.64a2.3 2.3 0 1 0 4.6 0a2.3 2.3 0 1 0 -4.6 0zM282.85 116.14a2.3 2.3 0 1 0 4.6 0a2.3 2.3 0 1 0 -4.6 0zM284.54 115.65a2.3 2.3 0 1 0 4.6 0a2.3 2.3 0 1 0 -4.6 0zM286.24 116.93a2.3 2.3 0 1 0 4.6 0a2.3 2.3 0 1 0 -4.6 0zM287.93 118.51a2.3 2.3 0 1 0 4.6 0a2.3 2.3 0 1 0 -4.6 0zM289.62 117.72a2.3 2.3 0 1 0 4.6 0a2.3 2.3 0 1 0 -4.6 0zM291.32 117.29a2.3 2.3 0 1 0 4.6 0a2.3 2.3 0 1 0 -4.6 0zM293.01 117.48a2.3 2.3 0 1 0 4.6 0a2.3 2.3 0 1 0 -4.6 0zM294.7 117.17a2.3 2.3 0 1 0 4.6 0a2.3 2.3 0 1 0 -4.6 0zM296.4 117.24a2.3 2.3 0 1 0 4.6 0a2.3 2.3 0 1 0 -4.6 0zM298.09 117.29a2.3 2.3 0 1 0 4.6 0a2.3 2.3 0 1 0 -4.6 0zM299.78 119.83a2.3 2.3 0 1 0 4.6 0a2.3 2.3 0 1 0 -4.6 0zM301.48 119.66a2.3 2.3 0 1 0 4.6 0a2.3 2.3 0 1 0 -4.6 0zM303.17 118.9a2.3 2.3 0 1 0 4.6 0a2.3 2.3 0 1 0 -4.6 0zM304.87 119.26a2.3 2.3 0 1 0 4.6 0a2.3 2.3 0 1 0 -4.6 0zM306.56 119.66a2.3 2.3 0 1 0 4.6 0a2.3 2.3 0 1 0 -4.6 0zM308.25 119.91a2.3 2.3 0 1 0 4.6 0a2.3 2.3 0 1 0 -4.6 0zM309.95 121.4a2.3 2.3 0 1 0 4.6 0a2.3 2.3 0 1 0 -4.6 0zM311.64 122.56a2.3 2.3 0 1 0 4.6 0a2.3 2.3 0 1 0 -4.6 0zM313.33 121.89a2.3 2.3 0 1 0 4.6 0a2.3 2.3 0 1 0 -4.6 0zM315.03 122.05a2.3 2.3 0 1 0 4.6 0a2.3 2.3 0 1 0 -4.6 0zM316.72 121.28a2.3 2.3 0 1 0 4.6 0a2.3 2.3 0 1 0 -4.6 0zM318.41 120.57a2.3 2.3 0 1 0 4.6 0a2.3 2.3 0 1 0 -4.6 0zM320.11 122.11a2.3 2.3 0 1 0 4.6 0a2.3 2.3 0 1 0 -4.6 0zM321.8 123.02a2.3 2.3 0 1 0 4.6 0a2.3 2.3 0 1 0 -4.6 0zM323.49 123.42a2.3 2.3 0 1 0 4.6 0a2.3 2.3 0 1 0 -4.6 0zM325.19 123.74a2.3 2.3 0 1 0 4.6 0a2.3 2.3 0 1 0 -4.6 0zM326.88 125.12a2.3 2.3 0 1 0 4.6 0a2.3 2.3 0 1 0 -4.6 0zM328.57 125.36a2.3 2.3 0 1 0 4.6 0a2.3 2.3 0 1 0 -4.6 0zM330.27 125.47a2.3 2.3 0 1 0 4.6 0a2.3 2.3 0 1 0 -4.6 0zM331.96 123.78a2.3 2.3 0 1 0 4.6 0a2.3 2.3 0 1 0 -4.6 0zM333.65 123.02a2.3 2.3 0 1 0 4.6 0a2.3 2.3 0 1 0 -4.6 0zM335.35 123.55a2.3 2.3 0 1 0 4.6 0a2.3 2.3 0 1 0 -4.6 0zM337.04 123.03a2.3 2.3 0 1 0 4.6 0a2.3 2.3 0 1 0 -4.6 0zM338.74 118.38a2.3 2.3 0 1 0 4.6 0a2.3 2.3 0 1 0 -4.6 0zM340.43 119.34a2.3 2.3 0 1 0 4.6 0a2.3 2.3 0 1 0 -4.6 0zM342.12 120.23a2.3 2.3 0 1 0 4.6 0a2.3 2.3 0 1 0 -4.6 0zM343.82 120.77a2.3 2.3 0 1 0 4.6 0a2.3 2.3 0 1 0 -4.6 0zM345.51 120.99a2.3 2.3 0 1 0 4.6 0a2.3 2.3 0 1 0 -4.6 0zM347.2 121.6a2.3 2.3 0 1 0 4.6 0a2.3 2.3 0 1 0 -4.6 0zM348.9 121.48a2.3 2.3 0 1 0 4.6 0a2.3 2.3 0 1 0 -4.6 0zM350.59 121.77a2.3 2.3 0 1 0 4.6 0a2.3 2.3 0 1 0 -4.6 0zM352.28 122.21a2.3 2.3 0 1 0 4.6 0a2.3 2.3 0 1 0 -4.6 0zM353.98 122.36a2.3 2.3 0 1 0 4.6 0a2.3 2.3 0 1 0 -4.6 0zM355.67 122.28a2.3 2.3 0 1 0 4.6 0a2.3 2.3 0 1 0 -4.6 0zM357.36 122.44a2.3 2.3 0 1 0 4.6 0a2.3 2.3 0 1 0 -4.6 0zM359.06 121.9a2.3 2.3 0 1 0 4.6 0a2.3 2.3 0 1 0 -4.6 0zM360.75 121.16a2.3 2.3 0 1 0 4.6 0a2.3 2.3 0 1 0 -4.6 0zM362.44 121.12a2.3 2.3 0 1 0 4.6 0a2.3 2.3 0 1 0 -4.6 0zM364.14 119.72a2.3 2.3 0 1 0 4.6 0a2.3 2.3 0 1 0 -4.6 0zM365.83 118.64a2.3 2.3 0 1 0 4.6 0a2.3 2.3 0 1 0 -4.6 0zM367.52 119.15a2.3 2.3 0 1 0 4.6 0a2.3 2.3 0 1 0 -4.6 0zM369.22 120.76a2.3 2.3 0 1 0 4.6 0a2.3 2.3 0 1 0 -4.6 0zM370.91 117.83a2.3 2.3 0 1 0 4.6 0a2.3 2.3 0 1 0 -4.6 0zM372.61 118.2a2.3 2.3 0 1 0 4.6 0a2.3 2.3 0 1 0 -4.6 0zM374.3 119.3a2.3 2.3 0 1 0 4.6 0a2.3 2.3 0 1 0 -4.6 0zM375.99 120.36a2.3 2.3 0 1 0 4.6 0a2.3 2.3 0 1 0 -4.6 0zM377.69 120.31a2.3 2.3 0 1 0 4.6 0a2.3 2.3 0 1 0 -4.6 0zM379.38 120.39a2.3 2.3 0 1 0 4.6 0a2.3 2.3 0 1 0 -4.6 0zM381.07 120.77a2.3 2.3 0 1 0 4.6 0a2.3 2.3 0 1 0 -4.6 0zM382.77 121.41a2.3 2.3 0 1 0 4.6 0a2.3 2.3 0 1 0 -4.6 0zM384.46 120.9a2.3 2.3 0 1 0 4.6 0a2.3 2.3 0 1 0 -4.6 0zM386.15 120.42a2.3 2.3 0 1 0 4.6 0a2.3 2.3 0 1 0 -4.6 0zM387.85 120.33a2.3 2.3 0 1 0 4.6 0a2.3 2.3 0 1 0 -4.6 0zM389.54 118.92a2.3 2.3 0 1 0 4.6 0a2.3 2.3 0 1 0 -4.6 0zM391.23 118.11a2.3 2.3 0 1 0 4.6 0a2.3 2.3 0 1 0 -4.6 0zM392.93 119.4a2.3 2.3 0 1 0 4.6 0a2.3 2.3 0 1 0 -4.6 0zM394.62 118.86a2.3 2.3 0 1 0 4.6 0a2.3 2.3 0 1 0 -4.6 0zM396.31 118.53a2.3 2.3 0 1 0 4.6 0a2.3 2.3 0 1 0 -4.6 0zM398.01 118.24a2.3 2.3 0 1 0 4.6 0a2.3 2.3 0 1 0 -4.6 0zM399.7 117.11a2.3 2.3 0 1 0 4.6 0a2.3 2.3 0 1 0 -4.6 0zM401.39 117.45a2.3 2.3 0 1 0 4.6 0a2.3 2.3 0 1 0 -4.6 0zM403.09 117.87a2.3 2.3 0 1 0 4.6 0a2.3 2.3 0 1 0 -4.6 0zM404.78 118.41a2.3 2.3 0 1 0 4.6 0a2.3 2.3 0 1 0 -4.6 0zM406.48 119.1a2.3 2.3 0 1 0 4.6 0a2.3 2.3 0 1 0 -4.6 0zM408.17 119.27a2.3 2.3 0 1 0 4.6 0a2.3 2.3 0 1 0 -4.6 0zM409.86 118.94a2.3 2.3 0 1 0 4.6 0a2.3 2.3 0 1 0 -4.6 0zM411.56 119.32a2.3 2.3 0 1 0 4.6 0a2.3 2.3 0 1 0 -4.6 0zM413.25 120a2.3 2.3 0 1 0 4.6 0a2.3 2.3 0 1 0 -4.6 0zM414.94 118.59a2.3 2.3 0 1 0 4.6 0a2.3 2.3 0 1 0 -4.6 0zM416.64 117.06a2.3 2.3 0 1 0 4.6 0a2.3 2.3 0 1 0 -4.6 0zM418.33 115.89a2.3 2.3 0 1 0 4.6 0a2.3 2.3 0 1 0 -4.6 0zM420.02 115.59a2.3 2.3 0 1 0 4.6 0a2.3 2.3 0 1 0 -4.6 0zM421.72 115.81a2.3 2.3 0 1 0 4.6 0a2.3 2.3 0 1 0 -4.6 0zM423.41 115.26a2.3 2.3 0 1 0 4.6 0a2.3 2.3 0 1 0 -4.6 0zM425.1 116.57a2.3 2.3 0 1 0 4.6 0a2.3 2.3 0 1 0 -4.6 0zM426.8 118.14a2.3 2.3 0 1 0 4.6 0a2.3 2.3 0 1 0 -4.6 0zM428.49 118.26a2.3 2.3 0 1 0 4.6 0a2.3 2.3 0 1 0 -4.6 0zM430.18 117.93a2.3 2.3 0 1 0 4.6 0a2.3 2.3 0 1 0 -4.6 0zM431.88 117.98a2.3 2.3 0 1 0 4.6 0a2.3 2.3 0 1 0 -4.6 0zM433.57 117.6a2.3 2.3 0 1 0 4.6 0a2.3 2.3 0 1 0 -4.6 0zM435.26 116.24a2.3 2.3 0 1 0 4.6 0a2.3 2.3 0 1 0 -4.6 0zM436.96 117.33a2.3 2.3 0 1 0 4.6 0a2.3 2.3 0 1 0 -4.6 0zM438.65 118.06a2.3 2.3 0 1 0 4.6 0a2.3 2.3 0 1 0 -4.6 0zM440.35 117.64a2.3 2.3 0 1 0 4.6 0a2.3 2.3 0 1 0 -4.6 0zM442.04 117.26a2.3 2.3 0 1 0 4.6 0a2.3 2.3 0 1 0 -4.6 0zM443.73 116.03a2.3 2.3 0 1 0 4.6 0a2.3 2.3 0 1 0 -4.6 0zM445.43 115.64a2.3 2.3 0 1 0 4.6 0a2.3 2.3 0 1 0 -4.6 0zM447.12 117.42a2.3 2.3 0 1 0 4.6 0a2.3 2.3 0 1 0 -4.6 0zM448.81 118.52a2.3 2.3 0 1 0 4.6 0a2.3 2.3 0 1 0 -4.6 0zM450.51 118.39a2.3 2.3 0 1 0 4.6 0a2.3 2.3 0 1 0 -4.6 0zM452.2 118.34a2.3 2.3 0 1 0 4.6 0a2.3 2.3 0 1 0 -4.6 0zM453.89 117.93a2.3 2.3 0 1 0 4.6 0a2.3 2.3 0 1 0 -4.6 0zM455.59 118.13a2.3 2.3 0 1 0 4.6 0a2.3 2.3 0 1 0 -4.6 0zM457.28 115.26a2.3 2.3 0 1 0 4.6 0a2.3 2.3 0 1 0 -4.6 0zM458.97 115.12a2.3 2.3 0 1 0 4.6 0a2.3 2.3 0 1 0 -4.6 0zM460.67 114.64a2.3 2.3 0 1 0 4.6 0a2.3 2.3 0 1 0 -4.6 0zM462.36 115.68a2.3 2.3 0 1 0 4.6 0a2.3 2.3 0 1 0 -4.6 0zM464.05 117.2a2.3 2.3 0 1 0 4.6 0a2.3 2.3 0 1 0 -4.6 0zM465.75 117.43a2.3 2.3 0 1 0 4.6 0a2.3 2.3 0 1 0 -4.6 0zM467.44 117.27a2.3 2.3 0 1 0 4.6 0a2.3 2.3 0 1 0 -4.6 0zM469.13 117.84a2.3 2.3 0 1 0 4.6 0a2.3 2.3 0 1 0 -4.6 0zM470.83 117.51a2.3 2.3 0 1 0 4.6 0a2.3 2.3 0 1 0 -4.6 0zM472.52 116.82a2.3 2.3 0 1 0 4.6 0a2.3 2.3 0 1 0 -4.6 0zM474.22 116.37a2.3 2.3 0 1 0 4.6 0a2.3 2.3 0 1 0 -4.6 0zM475.91 117.19a2.3 2.3 0 1 0 4.6 0a2.3 2.3 0 1 0 -4.6 0zM477.6 116.29a2.3 2.3 0 1 0 4.6 0a2.3 2.3 0 1 0 -4.6 0zM479.3 114.4a2.3 2.3 0 1 0 4.6 0a2.3 2.3 0 1 0 -4.6 0zM480.99 114.85a2.3 2.3 0 1 0 4.6 0a2.3 2.3 0 1 0 -4.6 0zM482.68 115.23a2.3 2.3 0 1 0 4.6 0a2.3 2.3 0 1 0 -4.6 0zM484.38 114.72a2.3 2.3 0 1 0 4.6 0a2.3 2.3 0 1 0 -4.6 0zM486.07 115.51a2.3 2.3 0 1 0 4.6 0a2.3 2.3 0 1 0 -4.6 0zM487.76 115.59a2.3 2.3 0 1 0 4.6 0a2.3 2.3 0 1 0 -4.6 0zM489.46 115.72a2.3 2.3 0 1 0 4.6 0a2.3 2.3 0 1 0 -4.6 0zM491.15 116.22a2.3 2.3 0 1 0 4.6 0a2.3 2.3 0 1 0 -4.6 0zM492.84 116.76a2.3 2.3 0 1 0 4.6 0a2.3 2.3 0 1 0 -4.6 0zM494.54 116.58a2.3 2.3 0 1 0 4.6 0a2.3 2.3 0 1 0 -4.6 0zM496.23 116.55a2.3 2.3 0 1 0 4.6 0a2.3 2.3 0 1 0 -4.6 0zM497.92 116.34a2.3 2.3 0 1 0 4.6 0a2.3 2.3 0 1 0 -4.6 0zM499.62 116.96a2.3 2.3 0 1 0 4.6 0a2.3 2.3 0 1 0 -4.6 0zM501.31 116.55a2.3 2.3 0 1 0 4.6 0a2.3 2.3 0 1 0 -4.6 0zM503 116.83a2.3 2.3 0 1 0 4.6 0a2.3 2.3 0 1 0 -4.6 0zM504.7 116.8a2.3 2.3 0 1 0 4.6 0a2.3 2.3 0 1 0 -4.6 0zM506.39 116.48a2.3 2.3 0 1 0 4.6 0a2.3 2.3 0 1 0 -4.6 0zM508.09 116.96a2.3 2.3 0 1 0 4.6 0a2.3 2.3 0 1 0 -4.6 0zM509.78 117.15a2.3 2.3 0 1 0 4.6 0a2.3 2.3 0 1 0 -4.6 0zM511.47 117.2a2.3 2.3 0 1 0 4.6 0a2.3 2.3 0 1 0 -4.6 0zM513.17 117.09a2.3 2.3 0 1 0 4.6 0a2.3 2.3 0 1 0 -4.6 0zM514.86 117.1a2.3 2.3 0 1 0 4.6 0a2.3 2.3 0 1 0 -4.6 0zM516.55 116.54a2.3 2.3 0 1 0 4.6 0a2.3 2.3 0 1 0 -4.6 0zM518.25 116.22a2.3 2.3 0 1 0 4.6 0a2.3 2.3 0 1 0 -4.6 0zM519.94 115.81a2.3 2.3 0 1 0 4.6 0a2.3 2.3 0 1 0 -4.6 0zM521.63 115.23a2.3 2.3 0 1 0 4.6 0a2.3 2.3 0 1 0 -4.6 0zM523.33 115.05a2.3 2.3 0 1 0 4.6 0a2.3 2.3 0 1 0 -4.6 0zM525.02 115.45a2.3 2.3 0 1 0 4.6 0a2.3 2.3 0 1 0 -4.6 0zM526.71 115.98a2.3 2.3 0 1 0 4.6 0a2.3 2.3 0 1 0 -4.6 0zM528.41 116.04a2.3 2.3 0 1 0 4.6 0a2.3 2.3 0 1 0 -4.6 0zM530.1 116.73a2.3 2.3 0 1 0 4.6 0a2.3 2.3 0 1 0 -4.6 0zM531.79 116.52a2.3 2.3 0 1 0 4.6 0a2.3 2.3 0 1 0 -4.6 0zM533.49 116.28a2.3 2.3 0 1 0 4.6 0a2.3 2.3 0 1 0 -4.6 0zM535.18 116.74a2.3 2.3 0 1 0 4.6 0a2.3 2.3 0 1 0 -4.6 0zM536.87 116.29a2.3 2.3 0 1 0 4.6 0a2.3 2.3 0 1 0 -4.6 0zM538.57 115.77a2.3 2.3 0 1 0 4.6 0a2.3 2.3 0 1 0 -4.6 0zM540.26 115.79a2.3 2.3 0 1 0 4.6 0a2.3 2.3 0 1 0 -4.6 0zM541.96 116.43a2.3 2.3 0 1 0 4.6 0a2.3 2.3 0 1 0 -4.6 0zM543.65 116.45a2.3 2.3 0 1 0 4.6 0a2.3 2.3 0 1 0 -4.6 0zM545.34 116.15a2.3 2.3 0 1 0 4.6 0a2.3 2.3 0 1 0 -4.6 0zM547.04 116.49a2.3 2.3 0 1 0 4.6 0a2.3 2.3 0 1 0 -4.6 0zM548.73 116.36a2.3 2.3 0 1 0 4.6 0a2.3 2.3 0 1 0 -4.6 0zM550.42 116.56a2.3 2.3 0 1 0 4.6 0a2.3 2.3 0 1 0 -4.6 0zM552.12 116.06a2.3 2.3 0 1 0 4.6 0a2.3 2.3 0 1 0 -4.6 0zM553.81 116a2.3 2.3 0 1 0 4.6 0a2.3 2.3 0 1 0 -4.6 0zM555.5 115.95a2.3 2.3 0 1 0 4.6 0a2.3 2.3 0 1 0 -4.6 0zM557.2 116.67a2.3 2.3 0 1 0 4.6 0a2.3 2.3 0 1 0 -4.6 0zM558.89 116.2a2.3 2.3 0 1 0 4.6 0a2.3 2.3 0 1 0 -4.6 0zM560.58 116.3a2.3 2.3 0 1 0 4.6 0a2.3 2.3 0 1 0 -4.6 0zM562.28 116.82a2.3 2.3 0 1 0 4.6 0a2.3 2.3 0 1 0 -4.6 0zM563.97 116.19a2.3 2.3 0 1 0 4.6 0a2.3 2.3 0 1 0 -4.6 0zM565.66 116.15a2.3 2.3 0 1 0 4.6 0a2.3 2.3 0 1 0 -4.6 0zM567.36 116.61a2.3 2.3 0 1 0 4.6 0a2.3 2.3 0 1 0 -4.6 0zM569.05 115.52a2.3 2.3 0 1 0 4.6 0a2.3 2.3 0 1 0 -4.6 0zM570.74 115.59a2.3 2.3 0 1 0 4.6 0a2.3 2.3 0 1 0 -4.6 0zM572.44 115.08a2.3 2.3 0 1 0 4.6 0a2.3 2.3 0 1 0 -4.6 0zM574.13 114.44a2.3 2.3 0 1 0 4.6 0a2.3 2.3 0 1 0 -4.6 0zM575.83 114.82a2.3 2.3 0 1 0 4.6 0a2.3 2.3 0 1 0 -4.6 0zM577.52 115.67a2.3 2.3 0 1 0 4.6 0a2.3 2.3 0 1 0 -4.6 0zM579.21 115.67a2.3 2.3 0 1 0 4.6 0a2.3 2.3 0 1 0 -4.6 0zM580.91 115.83a2.3 2.3 0 1 0 4.6 0a2.3 2.3 0 1 0 -4.6 0zM582.6 116.23a2.3 2.3 0 1 0 4.6 0a2.3 2.3 0 1 0 -4.6 0zM584.29 116.6a2.3 2.3 0 1 0 4.6 0a2.3 2.3 0 1 0 -4.6 0zM585.99 116.72a2.3 2.3 0 1 0 4.6 0a2.3 2.3 0 1 0 -4.6 0zM587.68 116.59a2.3 2.3 0 1 0 4.6 0a2.3 2.3 0 1 0 -4.6 0zM589.37 117.47a2.3 2.3 0 1 0 4.6 0a2.3 2.3 0 1 0 -4.6 0zM591.07 117.22a2.3 2.3 0 1 0 4.6 0a2.3 2.3 0 1 0 -4.6 0zM592.76 117.57a2.3 2.3 0 1 0 4.6 0a2.3 2.3 0 1 0 -4.6 0zM594.45 118.19a2.3 2.3 0 1 0 4.6 0a2.3 2.3 0 1 0 -4.6 0zM596.15 117.28a2.3 2.3 0 1 0 4.6 0a2.3 2.3 0 1 0 -4.6 0zM597.84 116.17a2.3 2.3 0 1 0 4.6 0a2.3 2.3 0 1 0 -4.6 0zM599.53 115.42a2.3 2.3 0 1 0 4.6 0a2.3 2.3 0 1 0 -4.6 0zM601.23 115.69a2.3 2.3 0 1 0 4.6 0a2.3 2.3 0 1 0 -4.6 0zM602.92 114.73a2.3 2.3 0 1 0 4.6 0a2.3 2.3 0 1 0 -4.6 0zM604.61 114.8a2.3 2.3 0 1 0 4.6 0a2.3 2.3 0 1 0 -4.6 0zM606.31 114.52a2.3 2.3 0 1 0 4.6 0a2.3 2.3 0 1 0 -4.6 0zM608 115.19a2.3 2.3 0 1 0 4.6 0a2.3 2.3 0 1 0 -4.6 0zM609.7 114.93a2.3 2.3 0 1 0 4.6 0a2.3 2.3 0 1 0 -4.6 0zM611.39 115.02a2.3 2.3 0 1 0 4.6 0a2.3 2.3 0 1 0 -4.6 0zM613.08 114.23a2.3 2.3 0 1 0 4.6 0a2.3 2.3 0 1 0 -4.6 0zM614.78 114.58a2.3 2.3 0 1 0 4.6 0a2.3 2.3 0 1 0 -4.6 0zM616.47 114.59a2.3 2.3 0 1 0 4.6 0a2.3 2.3 0 1 0 -4.6 0zM618.16 114.27a2.3 2.3 0 1 0 4.6 0a2.3 2.3 0 1 0 -4.6 0z" fill="#e8c8f0" opacity="0.5"/>
<path d="M50.1 120.26a1.35 1.35 0 1 0 2.7 0a1.35 1.35 0 1 0 -2.7 0zM51.79 126.12a1.35 1.35 0 1 0 2.7 0a1.35 1.35 0 1 0 -2.7 0zM53.48 125.46a1.35 1.35 0 1 0 2.7 0a1.35 1.35 0 1 0 -2.7 0zM55.18 125.79a1.35 1.35 0 1 0 2.7 0a1.35 1.35 0 1 0 -2.7 0zM56.87 125.17a1.35 1.35 0 1 0 2.7 0a1.35 1.35 0 1 0 -2.7 0zM58.56 121.89a1.35 1.35 0 1 0 2.7 0a1.35 1.35 0 1 0 -2.7 0zM60.26 121.43a1.35 1.35 0 1 0 2.7 0a1.35 1.35 0 1 0 -2.7 0zM61.95 120.28a1.35 1.35 0 1 0 2.7 0a1.35 1.35 0 1 0 -2.7 0zM63.64 119.97a1.35 1.35 0 1 0 2.7 0a1.35 1.35 0 1 0 -2.7 0zM65.34 119.19a1.35 1.35 0 1 0 2.7 0a1.35 1.35 0 1 0 -2.7 0zM67.03 119.39a1.35 1.35 0 1 0 2.7 0a1.35 1.35 0 1 0 -2.7 0zM68.73 119.24a1.35 1.35 0 1 0 2.7 0a1.35 1.35 0 1 0 -2.7 0zM70.42 118.8a1.35 1.35 0 1 0 2.7 0a1.35 1.35 0 1 0 -2.7 0zM72.11 118.3a1.35 1.35 0 1 0 2.7 0a1.35 1.35 0 1 0 -2.7 0zM73.81 118.65a1.35 1.35 0 1 0 2.7 0a1.35 1.35 0 1 0 -2.7 0zM75.5 117.83a1.35 1.35 0 1 0 2.7 0a1.35 1.35 0 1 0 -2.7 0zM77.19 116.89a1.35 1.35 0 1 0 2.7 0a1.35 1.35 0 1 0 -2.7 0zM78.89 116.65a1.35 1.35 0 1 0 2.7 0a1.35 1.35 0 1 0 -2.7 0zM80.58 117.03a1.35 1.35 0 1 0 2.7 0a1.35 1.35 0 1 0 -2.7 0zM82.27 117.25a1.35 1.35 0 1 0 2.7 0a1.35 1.35 0 1 0 -2.7 0zM83.97 116.78a1.35 1.35 0 1 0 2.7 0a1.35 1.35 0 1 0 -2.7 0zM85.66 118.8a1.35 1.35 0 1 0 2.7 0a1.35 1.35 0 1 0 -2.7 0zM87.35 119.24a1.35 1.35 0 1 0 2.7 0a1.35 1.35 0 1 0 -2.7 0zM89.05 120.47a1.35 1.35 0 1 0 2.7 0a1.35 1.35 0 1 0 -2.7 0zM90.74 121.26a1.35 1.35 0 1 0 2.7 0a1.35 1.35 0 1 0 -2.7 0zM92.43 121.72a1.35 1.35 0 1 0 2.7 0a1.35 1.35 0 1 0 -2.7 0zM94.13 121.47a1.35 1.35 0 1 0 2.7 0a1.35 1.35 0 1 0 -2.7 0zM95.82 120.92a1.35 1.35 0 1 0 2.7 0a1.35 1.35 0 1 0 -2.7 0zM97.51 121.41a1.35 1.35 0 1 0 2.7 0a1.35 1.35 0 1 0 -2.7 0zM99.21 120.96a1.35 1.35 0 1 0 2.7 0a1.35 1.35 0 1 0 -2.7 0zM100.9 120.87a1.35 1.35 0 1 0 2.7 0a1.35 1.35 0 1 0 -2.7 0zM102.6 121.12a1.35 1.35 0 1 0 2.7 0a1.35 1.35 0 1 0 -2.7 0zM104.29 120.77a1.35 1.35 0 1 0 2.7 0a1.35 1.35 0 1 0 -2.7 0zM105.98 120.71a1.35 1.35 0 1 0 2.7 0a1.35 1.35 0 1 0 -2.7 0zM107.68 120.21a1.35 1.35 0 1 0 2.7 0a1.35 1.35 0 1 0 -2.7 0zM109.37 120.06a1.35 1.35 0 1 0 2.7 0a1.35 1.35 0 1 0 -2.7 0zM111.06 119.74a1.35 1.35 0 1 0 2.7 0a1.35 1.35 0 1 0 -2.7 0zM112.76 120.08a1.35 1.35 0 1 0 2.7 0a1.35 1.35 0 1 0 -2.7 0zM114.45 120.3a1.35 1.35 0 1 0 2.7 0a1.35 1.35 0 1 0 -2.7 0zM116.14 120.17a1.35 1.35 0 1 0 2.7 0a1.35 1.35 0 1 0 -2.7 0zM117.84 120.38a1.35 1.35 0 1 0 2.7 0a1.35 1.35 0 1 0 -2.7 0zM119.53 120.58a1.35 1.35 0 1 0 2.7 0a1.35 1.35 0 1 0 -2.7 0zM121.22 120.19a1.35 1.35 0 1 0 2.7 0a1.35 1.35 0 1 0 -2.7 0zM122.92 120.34a1.35 1.35 0 1 0 2.7 0a1.35 1.35 0 1 0 -2.7 0zM124.61 120.82a1.35 1.35 0 1 0 2.7 0a1.35 1.35 0 1 0 -2.7 0zM126.3 120.58a1.35 1.35 0 1 0 2.7 0a1.35 1.35 0 1 0 -2.7 0zM128 120.69a1.35 1.35 0 1 0 2.7 0a1.35 1.35 0 1 0 -2.7 0zM129.69 120.43a1.35 1.35 0 1 0 2.7 0a1.35 1.35 0 1 0 -2.7 0zM131.38 120.96a1.35 1.35 0 1 0 2.7 0a1.35 1.35 0 1 0 -2.7 0zM133.08 121.96a1.35 1.35 0 1 0 2.7 0a1.35 1.35 0 1 0 -2.7 0zM134.77 117.77a1.35 1.35 0 1 0 2.7 0a1.35 1.35 0 1 0 -2.7 0zM136.47 119.02a1.35 1.35 0 1 0 2.7 0a1.35 1.35 0 1 0 -2.7 0zM138.16 119.22a1.35 1.35 0 1 0 2.7 0a1.35 1.35 0 1 0 -2.7 0zM139.85 120.91a1.35 1.35 0 1 0 2.7 0a1.35 1.35 0 1 0 -2.7 0zM141.55 121.93a1.35 1.35 0 1 0 2.7 0a1.35 1.35 0 1 0 -2.7 0zM143.24 121.85a1.35 1.35 0 1 0 2.7 0a1.35 1.35 0 1 0 -2.7 0zM144.93 122.13a1.35 1.35 0 1 0 2.7 0a1.35 1.35 0 1 0 -2.7 0zM146.63 121.31a1.35 1.35 0 1 0 2.7 0a1.35 1.35 0 1 0 -2.7 0zM148.32 120.98a1.35 1.35 0 1 0 2.7 0a1.35 1.35 0 1 0 -2.7 0zM150.01 121.02a1.35 1.35 0 1 0 2.7 0a1.35 1.35 0 1 0 -2.7 0zM151.71 121.59a1.35 1.35 0 1 0 2.7 0a1.35 1.35 0 1 0 -2.7 0zM153.4 122.94a1.35 1.35 0 1 0 2.7 0a1.35 1.35 0 1 0 -2.7 0zM155.09 123.44a1.35 1.35 0 1 0 2.7 0a1.35 1.35 0 1 0 -2.7 0zM156.79 122.82a1.35 1.35 0 1 0 2.7 0a1.35 1.35 0 1 0 -2.7 0zM158.48 121.97a1.35 1.35 0 1 0 2.7 0a1.35 1.35 0 1 0 -2.7 0zM160.17 120.89a1.35 1.35 0 1 0 2.7 0a1.35 1.35 0 1 0 -2.7 0zM161.87 119.3a1.35 1.35 0 1 0 2.7 0a1.35 1.35 0 1 0 -2.7 0zM163.56 117.96a1.35 1.35 0 1 0 2.7 0a1.35 1.35 0 1 0 -2.7 0zM165.25 118.32a1.35 1.35 0 1 0 2.7 0a1.35 1.35 0 1 0 -2.7 0zM166.95 118.27a1.35 1.35 0 1 0 2.7 0a1.35 1.35 0 1 0 -2.7 0zM168.64 119.48a1.35 1.35 0 1 0 2.7 0a1.35 1.35 0 1 0 -2.7 0zM170.34 119.56a1.35 1.35 0 1 0 2.7 0a1.35 1.35 0 1 0 -2.7 0zM172.03 120.38a1.35 1.35 0 1 0 2.7 0a1.35 1.35 0 1 0 -2.7 0zM173.72 120.84a1.35 1.35 0 1 0 2.7 0a1.35 1.35 0 1 0 -2.7 0zM175.42 121.56a1.35 1.35 0 1 0 2.7 0a1.35 1.35 0 1 0 -2.7 0zM177.11 121.84a1.35 1.35 0 1 0 2.7 0a1.35 1.35 0 1 0 -2.7 0zM178.8 121.53a1.35 1.35 0 1 0 2.7 0a1.35 1.35 0 1 0 -2.7 0zM180.5 121.06a1.35 1.35 0 1 0 2.7 0a1.35 1.35 0 1 0 -2.7 0zM182.19 121.43a1.35 1.35 0 1 0 2.7 0a1.35 1.35 0 1 0 -2.7 0zM183.88 120.82a1.35 1.35 0 1 0 2.7 0a1.35 1.35 0 1 0 -2.7 0zM185.58 120.89a1.35 1.35 0 1 0 2.7 0a1.35 1.35 0 1 0 -2.7 0zM187.27 120.84a1.35 1.35 0 1 0 2.7 0a1.35 1.35 0 1 0 -2.7 0zM188.96 120.8a1.35 1.35 0 1 0 2.7 0a1.35 1.35 0 1 0 -2.7 0zM190.66 120.06a1.35 1.35 0 1 0 2.7 0a1.35 1.35 0 1 0 -2.7 0zM192.35 120.54a1.35 1.35 0 1 0 2.7 0a1.35 1.35 0 1 0 -2.7 0zM194.04 120.34a1.35 1.35 0 1 0 2.7 0a1.35 1.35 0 1 0 -2.7 0zM195.74 117.75a1.35 1.35 0 1 0 2.7 0a1.35 1.35 0 1 0 -2.7 0zM197.43 117.21a1.35 1.35 0 1 0 2.7 0a1.35 1.35 0 1 0 -2.7 0zM199.12 118.21a1.35 1.35 0 1 0 2.7 0a1.35 1.35 0 1 0 -2.7 0zM200.82 118.98a1.35 1.35 0 1 0 2.7 0a1.35 1.35 0 1 0 -2.7 0zM202.51 120.04a1.35 1.35 0 1 0 2.7 0a1.35 1.35 0 1 0 -2.7 0zM204.21 119.61a1.35 1.35 0 1 0 2.7 0a1.35 1.35 0 1 0 -2.7 0zM205.9 119.55a1.35 1.35 0 1 0 2.7 0a1.35 1.35 0 1 0 -2.7 0zM207.59 119.38a1.35 1.35 0 1 0 2.7 0a1.35 1.35 0 1 0 -2.7 0zM209.29 119.79a1.35 1.35 0 1 0 2.7 0a1.35 1.35 0 1 0 -2.7 0zM210.98 119.55a1.35 1.35 0 1 0 2.7 0a1.35 1.35 0 1 0 -2.7 0zM212.67 119.49a1.35 1.35 0 1 0 2.7 0a1.35 1.35 0 1 0 -2.7 0zM214.37 118.91a1.35 1.35 0 1 0 2.7 0a1.35 1.35 0 1 0 -2.7 0zM216.06 118.74a1.35 1.35 0 1 0 2.7 0a1.35 1.35 0 1 0 -2.7 0zM217.75 119.37a1.35 1.35 0 1 0 2.7 0a1.35 1.35 0 1 0 -2.7 0zM219.45 119.15a1.35 1.35 0 1 0 2.7 0a1.35 1.35 0 1 0 -2.7 0zM221.14 117.91a1.35 1.35 0 1 0 2.7 0a1.35 1.35 0 1 0 -2.7 0zM222.83 116.72a1.35 1.35 0 1 0 2.7 0a1.35 1.35 0 1 0 -2.7 0zM224.53 117.19a1.35 1.35 0 1 0 2.7 0a1.35 1.35 0 1 0 -2.7 0zM226.22 117.92a1.35 1.35 0 1 0 2.7 0a1.35 1.35 0 1 0 -2.7 0zM227.91 119.01a1.35 1.35 0 1 0 2.7 0a1.35 1.35 0 1 0 -2.7 0zM229.61 119.14a1.35 1.35 0 1 0 2.7 0a1.35 1.35 0 1 0 -2.7 0zM231.3 118.66a1.35 1.35 0 1 0 2.7 0a1.35 1.35 0 1 0 -2.7 0zM232.99 118.6a1.35 1.35 0 1 0 2.7 0a1.35 1.35 0 1 0 -2.7 0zM234.69 118.31a1.35 1.35 0 1 0 2.7 0a1.35 1.35 0 1 0 -2.7 0zM236.38 117.89a1.35 1.35 0 1 0 2.7 0a1.35 1.35 0 1 0 -2.7 0zM238.08 118.13a1.35 1.35 0 1 0 2.7 0a1.35 1.35 0 1 0 -2.7 0zM239.77 118.29a1.35 1.35 0 1 0 2.7 0a1.35 1.35 0 1 0 -2.7 0zM241.46 118.19a1.35 1.35 0 1 0 2.7 0a1.35 1.35 0 1 0 -2.7 0zM243.16 118.14a1.35 1.35 0 1 0 2.7 0a1.35 1.35 0 1 0 -2.7 0zM244.85 118.71a1.35 1.35 0 1 0 2.7 0a1.35 1.35 0 1 0 -2.7 0zM246.54 117.94a1.35 1.35 0 1 0 2.7 0a1.35 1.35 0 1 0 -2.7 0zM248.24 118.04a1.35 1.35 0 1 0 2.7 0a1.35 1.35 0 1 0 -2.7 0zM249.93 117.76a1.35 1.35 0 1 0 2.7 0a1.35 1.35 0 1 0 -2.7 0zM251.62 117.33a1.35 1.35 0 1 0 2.7 0a1.35 1.35 0 1 0 -2.7 0zM253.32 117.2a1.35 1.35 0 1 0 2.7 0a1.35 1.35 0 1 0 -2.7 0zM255.01 117.09a1.35 1.35 0 1 0 2.7 0a1.35 1.35 0 1 0 -2.7 0zM256.7 117.36a1.35 1.35 0 1 0 2.7 0a1.35 1.35 0 1 0 -2.7 0zM258.4 116.88a1.35 1.35 0 1 0 2.7 0a1.35 1.35 0 1 0 -2.7 0zM260.09 117.4a1.35 1.35 0 1 0 2.7 0a1.35 1.35 0 1 0 -2.7 0zM261.78 117.39a1.35 1.35 0 1 0 2.7 0a1.35 1.35 0 1 0 -2.7 0zM263.48 117.27a1.35 1.35 0 1 0 2.7 0a1.35 1.35 0 1 0 -2.7 0zM265.17 117.31a1.35 1.35 0 1 0 2.7 0a1.35 1.35 0 1 0 -2.7 0zM266.86 117.15a1.35 1.35 0 1 0 2.7 0a1.35 1.35 0 1 0 -2.7 0zM268.56 117.48a1.35 1.35 0 1 0 2.7 0a1.35 1.35 0 1 0 -2.7 0zM270.25 117.6a1.35 1.35 0 1 0 2.7 0a1.35 1.35 0 1 0 -2.7 0zM271.95 117.54a1.35 1.35 0 1 0 2.7 0a1.35 1.35 0 1 0 -2.7 0zM273.64 117.66a1.35 1.35 0 1 0 2.7 0a1.35 1.35 0 1 0 -2.7 0zM275.33 117.47a1.35 1.35 0 1 0 2.7 0a1.35 1.35 0 1 0 -2.7 0zM277.03 117.82a1.35 1.35 0 1 0 2.7 0a1.35 1.35 0 1 0 -2.7 0zM278.72 116.78a1.35 1.35 0 1 0 2.7 0a1.35 1.35 0 1 0 -2.7 0zM280.41 116.62a1.35 1.35 0 1 0 2.7 0a1.35 1.35 0 1 0 -2.7 0zM282.11 116.64a1.35 1.35 0 1 0 2.7 0a1.35 1.35 0 1 0 -2.7 0zM283.8 116.14a1.35 1.35 0 1 0 2.7 0a1.35 1.35 0 1 0 -2.7 0zM285.49 115.65a1.35 1.35 0 1 0 2.7 0a1.35 1.35 0 1 0 -2.7 0zM287.19 116.93a1.35 1.35 0 1 0 2.7 0a1.35 1.35 0 1 0 -2.7 0zM288.88 118.51a1.35 1.35 0 1 0 2.7 0a1.35 1.35 0 1 0 -2.7 0zM290.57 117.72a1.35 1.35 0 1 0 2.7 0a1.35 1.35 0 1 0 -2.7 0zM292.27 117.29a1.35 1.35 0 1 0 2.7 0a1.35 1.35 0 1 0 -2.7 0zM293.96 117.48a1.35 1.35 0 1 0 2.7 0a1.35 1.35 0 1 0 -2.7 0zM295.65 117.17a1.35 1.35 0 1 0 2.7 0a1.35 1.35 0 1 0 -2.7 0zM297.35 117.24a1.35 1.35 0 1 0 2.7 0a1.35 1.35 0 1 0 -2.7 0zM299.04 117.29a1.35 1.35 0 1 0 2.7 0a1.35 1.35 0 1 0 -2.7 0zM300.73 119.83a1.35 1.35 0 1 0 2.7 0a1.35 1.35 0 1 0 -2.7 0zM302.43 119.66a1.35 1.35 0 1 0 2.7 0a1.35 1.35 0 1 0 -2.7 0zM304.12 118.9a1.35 1.35 0 1 0 2.7 0a1.35 1.35 0 1 0 -2.7 0zM305.82 119.26a1.35 1.35 0 1 0 2.7 0a1.35 1.35 0 1 0 -2.7 0zM307.51 119.66a1.35 1.35 0 1 0 2.7 0a1.35 1.35 0 1 0 -2.7 0zM309.2 119.91a1.35 1.35 0 1 0 2.7 0a1.35 1.35 0 1 0 -2.7 0zM310.9 121.4a1.35 1.35 0 1 0 2.7 0a1.35 1.35 0 1 0 -2.7 0zM312.59 122.56a1.35 1.35 0 1 0 2.7 0a1.35 1.35 0 1 0 -2.7 0zM314.28 121.89a1.35 1.35 0 1 0 2.7 0a1.35 1.35 0 1 0 -2.7 0zM315.98 122.05a1.35 1.35 0 1 0 2.7 0a1.35 1.35 0 1 0 -2.7 0zM317.67 121.28a1.35 1.35 0 1 0 2.7 0a1.35 1.35 0 1 0 -2.7 0zM319.36 120.57a1.35 1.35 0 1 0 2.7 0a1.35 1.35 0 1 0 -2.7 0zM321.06 122.11a1.35 1.35 0 1 0 2.7 0a1.35 1.35 0 1 0 -2.7 0zM322.75 123.02a1.35 1.35 0 1 0 2.7 0a1.35 1.35 0 1 0 -2.7 0zM324.44 123.42a1.35 1.35 0 1 0 2.7 0a1.35 1.35 0 1 0 -2.7 0zM326.14 123.74a1.35 1.35 0 1 0 2.7 0a1.35 1.35 0 1 0 -2.7 0zM327.83 125.12a1.35 1.35 0 1 0 2.7 0a1.35 1.35 0 1 0 -2.7 0zM329.52 125.36a1.35 1.35 0 1 0 2.7 0a1.35 1.35 0 1 0 -2.7 0zM331.22 125.47a1.35 1.35 0 1 0 2.7 0a1.35 1.35 0 1 0 -2.7 0zM332.91 123.78a1.35 1.35 0 1 0 2.7 0a1.35 1.35 0 1 0 -2.7 0zM334.6 123.02a1.35 1.35 0 1 0 2.7 0a1.35 1.35 0 1 0 -2.7 0zM336.3 123.55a1.35 1.35 0 1 0 2.7 0a1.35 1.35 0 1 0 -2.7 0zM337.99 123.03a1.35 1.35 0 1 0 2.7 0a1.35 1.35 0 1 0 -2.7 0zM339.69 118.38a1.35 1.35 0 1 0 2.7 0a1.35 1.35 0 1 0 -2.7 0zM341.38 119.34a1.35 1.35 0 1 0 2.7 0a1.35 1.35 0 1 0 -2.7 0zM343.07 120.23a1.35 1.35 0 1 0 2.7 0a1.35 1.35 0 1 0 -2.7 0zM344.77 120.77a1.35 1.35 0 1 0 2.7 0a1.35 1.35 0 1 0 -2.7 0zM346.46 120.99a1.35 1.35 0 1 0 2.7 0a1.35 1.35 0 1 0 -2.7 0zM348.15 121.6a1.35 1.35 0 1 0 2.7 0a1.35 1.35 0 1 0 -2.7 0zM349.85 121.48a1.35 1.35 0 1 0 2.7 0a1.35 1.35 0 1 0 -2.7 0zM351.54 121.77a1.35 1.35 0 1 0 2.7 0a1.35 1.35 0 1 0 -2.7 0zM353.23 122.21a1.35 1.35 0 1 0 2.7 0a1.35 1.35 0 1 0 -2.7 0zM354.93 122.36a1.35 1.35 0 1 0 2.7 0a1.35 1.35 0 1 0 -2.7 0zM356.62 122.28a1.35 1.35 0 1 0 2.7 0a1.35 1.35 0 1 0 -2.7 0zM358.31 122.44a1.35 1.35 0 1 0 2.7 0a1.35 1.35 0 1 0 -2.7 0zM360.01 121.9a1.35 1.35 0 1 0 2.7 0a1.35 1.35 0 1 0 -2.7 0zM361.7 121.16a1.35 1.35 0 1 0 2.7 0a1.35 1.35 0 1 0 -2.7 0zM363.39 121.12a1.35 1.35 0 1 0 2.7 0a1.35 1.35 0 1 0 -2.7 0zM365.09 119.72a1.35 1.35 0 1 0 2.7 0a1.35 1.35 0 1 0 -2.7 0zM366.78 118.64a1.35 1.35 0 1 0 2.7 0a1.35 1.35 0 1 0 -2.7 0zM368.47 119.15a1.35 1.35 0 1 0 2.7 0a1.35 1.35 0 1 0 -2.7 0zM370.17 120.76a1.35 1.35 0 1 0 2.7 0a1.35 1.35 0 1 0 -2.7 0zM371.86 117.83a1.35 1.35 0 1 0 2.7 0a1.35 1.35 0 1 0 -2.7 0zM373.56 118.2a1.35 1.35 0 1 0 2.7 0a1.35 1.35 0 1 0 -2.7 0zM375.25 119.3a1.35 1.35 0 1 0 2.7 0a1.35 1.35 0 1 0 -2.7 0zM376.94 120.36a1.35 1.35 0 1 0 2.7 0a1.35 1.35 0 1 0 -2.7 0zM378.64 120.31a1.35 1.35 0 1 0 2.7 0a1.35 1.35 0 1 0 -2.7 0zM380.33 120.39a1.35 1.35 0 1 0 2.7 0a1.35 1.35 0 1 0 -2.7 0zM382.02 120.77a1.35 1.35 0 1 0 2.7 0a1.35 1.35 0 1 0 -2.7 0zM383.72 121.41a1.35 1.35 0 1 0 2.7 0a1.35 1.35 0 1 0 -2.7 0zM385.41 120.9a1.35 1.35 0 1 0 2.7 0a1.35 1.35 0 1 0 -2.7 0zM387.1 120.42a1.35 1.35 0 1 0 2.7 0a1.35 1.35 0 1 0 -2.7 0zM388.8 120.33a1.35 1.35 0 1 0 2.7 0a1.35 1.35 0 1 0 -2.7 0zM390.49 118.92a1.35 1.35 0 1 0 2.7 0a1.35 1.35 0 1 0 -2.7 0zM392.18 118.11a1.35 1.35 0 1 0 2.7 0a1.35 1.35 0 1 0 -2.7 0zM393.88 119.4a1.35 1.35 0 1 0 2.7 0a1.35 1.35 0 1 0 -2.7 0zM395.57 118.86a1.35 1.35 0 1 0 2.7 0a1.35 1.35 0 1 0 -2.7 0zM397.26 118.53a1.35 1.35 0 1 0 2.7 0a1.35 1.35 0 1 0 -2.7 0zM398.96 118.24a1.35 1.35 0 1 0 2.7 0a1.35 1.35 0 1 0 -2.7 0zM400.65 117.11a1.35 1.35 0 1 0 2.7 0a1.35 1.35 0 1 0 -2.7 0zM402.34 117.45a1.35 1.35 0 1 0 2.7 0a1.35 1.35 0 1 0 -2.7 0zM404.04 117.87a1.35 1.35 0 1 0 2.7 0a1.35 1.35 0 1 0 -2.7 0zM405.73 118.41a1.35 1.35 0 1 0 2.7 0a1.35 1.35 0 1 0 -2.7 0zM407.43 119.1a1.35 1.35 0 1 0 2.7 0a1.35 1.35 0 1 0 -2.7 0zM409.12 119.27a1.35 1.35 0 1 0 2.7 0a1.35 1.35 0 1 0 -2.7 0zM410.81 118.94a1.35 1.35 0 1 0 2.7 0a1.35 1.35 0 1 0 -2.7 0zM412.51 119.32a1.35 1.35 0 1 0 2.7 0a1.35 1.35 0 1 0 -2.7 0zM414.2 120a1.35 1.35 0 1 0 2.7 0a1.35 1.35 0 1 0 -2.7 0zM415.89 118.59a1.35 1.35 0 1 0 2.7 0a1.35 1.35 0 1 0 -2.7 0zM417.59 117.06a1.35 1.35 0 1 0 2.7 0a1.35 1.35 0 1 0 -2.7 0zM419.28 115.89a1.35 1.35 0 1 0 2.7 0a1.35 1.35 0 1 0 -2.7 0zM420.97 115.59a1.35 1.35 0 1 0 2.7 0a1.35 1.35 0 1 0 -2.7 0zM422.67 115.81a1.35 1.35 0 1 0 2.7 0a1.35 1.35 0 1 0 -2.7 0zM424.36 115.26a1.35 1.35 0 1 0 2.7 0a1.35 1.35 0 1 0 -2.7 0zM426.05 116.57a1.35 1.35 0 1 0 2.7 0a1.35 1.35 0 1 0 -2.7 0zM427.75 118.14a1.35 1.35 0 1 0 2.7 0a1.35 1.35 0 1 0 -2.7 0zM429.44 118.26a1.35 1.35 0 1 0 2.7 0a1.35 1.35 0 1 0 -2.7 0zM431.13 117.93a1.35 1.35 0 1 0 2.7 0a1.35 1.35 0 1 0 -2.7 0zM432.83 117.98a1.35 1.35 0 1 0 2.7 0a1.35 1.35 0 1 0 -2.7 0zM434.52 117.6a1.35 1.35 0 1 0 2.7 0a1.35 1.35 0 1 0 -2.7 0zM436.21 116.24a1.35 1.35 0 1 0 2.7 0a1.35 1.35 0 1 0 -2.7 0zM437.91 117.33a1.35 1.35 0 1 0 2.7 0a1.35 1.35 0 1 0 -2.7 0zM439.6 118.06a1.35 1.35 0 1 0 2.7 0a1.35 1.35 0 1 0 -2.7 0zM441.3 117.64a1.35 1.35 0 1 0 2.7 0a1.35 1.35 0 1 0 -2.7 0zM442.99 117.26a1.35 1.35 0 1 0 2.7 0a1.35 1.35 0 1 0 -2.7 0zM444.68 116.03a1.35 1.35 0 1 0 2.7 0a1.35 1.35 0 1 0 -2.7 0zM446.38 115.64a1.35 1.35 0 1 0 2.7 0a1.35 1.35 0 1 0 -2.7 0zM448.07 117.42a1.35 1.35 0 1 0 2.7 0a1.35 1.35 0 1 0 -2.7 0zM449.76 118.52a1.35 1.35 0 1 0 2.7 0a1.35 1.35 0 1 0 -2.7 0zM451.46 118.39a1.35 1.35 0 1 0 2.7 0a1.35 1.35 0 1 0 -2.7 0zM453.15 118.34a1.35 1.35 0 1 0 2.7 0a1.35 1.35 0 1 0 -2.7 0zM454.84 117.93a1.35 1.35 0 1 0 2.7 0a1.35 1.35 0 1 0 -2.7 0zM456.54 118.13a1.35 1.35 0 1 0 2.7 0a1.35 1.35 0 1 0 -2.7 0zM458.23 115.26a1.35 1.35 0 1 0 2.7 0a1.35 1.35 0 1 0 -2.7 0zM459.92 115.12a1.35 1.35 0 1 0 2.7 0a1.35 1.35 0 1 0 -2.7 0zM461.62 114.64a1.35 1.35 0 1 0 2.7 0a1.35 1.35 0 1 0 -2.7 0zM463.31 115.68a1.35 1.35 0 1 0 2.7 0a1.35 1.35 0 1 0 -2.7 0zM465 117.2a1.35 1.35 0 1 0 2.7 0a1.35 1.35 0 1 0 -2.7 0zM466.7 117.43a1.35 1.35 0 1 0 2.7 0a1.35 1.35 0 1 0 -2.7 0zM468.39 117.27a1.35 1.35 0 1 0 2.7 0a1.35 1.35 0 1 0 -2.7 0zM470.08 117.84a1.35 1.35 0 1 0 2.7 0a1.35 1.35 0 1 0 -2.7 0zM471.78 117.51a1.35 1.35 0 1 0 2.7 0a1.35 1.35 0 1 0 -2.7 0zM473.47 116.82a1.35 1.35 0 1 0 2.7 0a1.35 1.35 0 1 0 -2.7 0zM475.17 116.37a1.35 1.35 0 1 0 2.7 0a1.35 1.35 0 1 0 -2.7 0zM476.86 117.19a1.35 1.35 0 1 0 2.7 0a1.35 1.35 0 1 0 -2.7 0zM478.55 116.29a1.35 1.35 0 1 0 2.7 0a1.35 1.35 0 1 0 -2.7 0zM480.25 114.4a1.35 1.35 0 1 0 2.7 0a1.35 1.35 0 1 0 -2.7 0zM481.94 114.85a1.35 1.35 0 1 0 2.7 0a1.35 1.35 0 1 0 -2.7 0zM483.63 115.23a1.35 1.35 0 1 0 2.7 0a1.35 1.35 0 1 0 -2.7 0zM485.33 114.72a1.35 1.35 0 1 0 2.7 0a1.35 1.35 0 1 0 -2.7 0zM487.02 115.51a1.35 1.35 0 1 0 2.7 0a1.35 1.35 0 1 0 -2.7 0zM488.71 115.59a1.35 1.35 0 1 0 2.7 0a1.35 1.35 0 1 0 -2.7 0zM490.41 115.72a1.35 1.35 0 1 0 2.7 0a1.35 1.35 0 1 0 -2.7 0zM492.1 116.22a1.35 1.35 0 1 0 2.7 0a1.35 1.35 0 1 0 -2.7 0zM493.79 116.76a1.35 1.35 0 1 0 2.7 0a1.35 1.35 0 1 0 -2.7 0zM495.49 116.58a1.35 1.35 0 1 0 2.7 0a1.35 1.35 0 1 0 -2.7 0zM497.18 116.55a1.35 1.35 0 1 0 2.7 0a1.35 1.35 0 1 0 -2.7 0zM498.87 116.34a1.35 1.35 0 1 0 2.7 0a1.35 1.35 0 1 0 -2.7 0zM500.57 116.96a1.35 1.35 0 1 0 2.7 0a1.35 1.35 0 1 0 -2.7 0zM502.26 116.55a1.35 1.35 0 1 0 2.7 0a1.35 1.35 0 1 0 -2.7 0zM503.95 116.83a1.35 1.35 0 1 0 2.7 0a1.35 1.35 0 1 0 -2.7 0zM505.65 116.8a1.35 1.35 0 1 0 2.7 0a1.35 1.35 0 1 0 -2.7 0zM507.34 116.48a1.35 1.35 0 1 0 2.7 0a1.35 1.35 0 1 0 -2.7 0zM509.04 116.96a1.35 1.35 0 1 0 2.7 0a1.35 1.35 0 1 0 -2.7 0zM510.73 117.15a1.35 1.35 0 1 0 2.7 0a1.35 1.35 0 1 0 -2.7 0zM512.42 117.2a1.35 1.35 0 1 0 2.7 0a1.35 1.35 0 1 0 -2.7 0zM514.12 117.09a1.35 1.35 0 1 0 2.7 0a1.35 1.35 0 1 0 -2.7 0zM515.81 117.1a1.35 1.35 0 1 0 2.7 0a1.35 1.35 0 1 0 -2.7 0zM517.5 116.54a1.35 1.35 0 1 0 2.7 0a1.35 1.35 0 1 0 -2.7 0zM519.2 116.22a1.35 1.35 0 1 0 2.7 0a1.35 1.35 0 1 0 -2.7 0zM520.89 115.81a1.35 1.35 0 1 0 2.7 0a1.35 1.35 0 1 0 -2.7 0zM522.58 115.23a1.35 1.35 0 1 0 2.7 0a1.35 1.35 0 1 0 -2.7 0zM524.28 115.05a1.35 1.35 0 1 0 2.7 0a1.35 1.35 0 1 0 -2.7 0zM525.97 115.45a1.35 1.35 0 1 0 2.7 0a1.35 1.35 0 1 0 -2.7 0zM527.66 115.98a1.35 1.35 0 1 0 2.7 0a1.35 1.35 0 1 0 -2.7 0zM529.36 116.04a1.35 1.35 0 1 0 2.7 0a1.35 1.35 0 1 0 -2.7 0zM531.05 116.73a1.35 1.35 0 1 0 2.7 0a1.35 1.35 0 1 0 -2.7 0zM532.74 116.52a1.35 1.35 0 1 0 2.7 0a1.35 1.35 0 1 0 -2.7 0zM534.44 116.28a1.35 1.35 0 1 0 2.7 0a1.35 1.35 0 1 0 -2.7 0zM536.13 116.74a1.35 1.35 0 1 0 2.7 0a1.35 1.35 0 1 0 -2.7 0zM537.82 116.29a1.35 1.35 0 1 0 2.7 0a1.35 1.35 0 1 0 -2.7 0zM539.52 115.77a1.35 1.35 0 1 0 2.7 0a1.35 1.35 0 1 0 -2.7 0zM541.21 115.79a1.35 1.35 0 1 0 2.7 0a1.35 1.35 0 1 0 -2.7 0zM542.91 116.43a1.35 1.35 0 1 0 2.7 0a1.35 1.35 0 1 0 -2.7 0zM544.6 116.45a1.35 1.35 0 1 0 2.7 0a1.35 1.35 0 1 0 -2.7 0zM546.29 116.15a1.35 1.35 0 1 0 2.7 0a1.35 1.35 0 1 0 -2.7 0zM547.99 116.49a1.35 1.35 0 1 0 2.7 0a1.35 1.35 0 1 0 -2.7 0zM549.68 116.36a1.35 1.35 0 1 0 2.7 0a1.35 1.35 0 1 0 -2.7 0zM551.37 116.56a1.35 1.35 0 1 0 2.7 0a1.35 1.35 0 1 0 -2.7 0zM553.07 116.06a1.35 1.35 0 1 0 2.7 0a1.35 1.35 0 1 0 -2.7 0zM554.76 116a1.35 1.35 0 1 0 2.7 0a1.35 1.35 0 1 0 -2.7 0zM556.45 115.95a1.35 1.35 0 1 0 2.7 0a1.35 1.35 0 1 0 -2.7 0zM558.15 116.67a1.35 1.35 0 1 0 2.7 0a1.35 1.35 0 1 0 -2.7 0zM559.84 116.2a1.35 1.35 0 1 0 2.7 0a1.35 1.35 0 1 0 -2.7 0zM561.53 116.3a1.35 1.35 0 1 0 2.7 0a1.35 1.35 0 1 0 -2.7 0zM563.23 116.82a1.35 1.35 0 1 0 2.7 0a1.35 1.35 0 1 0 -2.7 0zM564.92 116.19a1.35 1.35 0 1 0 2.7 0a1.35 1.35 0 1 0 -2.7 0zM566.61 116.15a1.35 1.35 0 1 0 2.7 0a1.35 1.35 0 1 0 -2.7 0zM568.31 116.61a1.35 1.35 0 1 0 2.7 0a1.35 1.35 0 1 0 -2.7 0zM570 115.52a1.35 1.35 0 1 0 2.7 0a1.35 1.35 0 1 0 -2.7 0zM571.69 115.59a1.35 1.35 0 1 0 2.7 0a1.35 1.35 0 1 0 -2.7 0zM573.39 115.08a1.35 1.35 0 1 0 2.7 0a1.35 1.35 0 1 0 -2.7 0zM575.08 114.44a1.35 1.35 0 1 0 2.7 0a1.35 1.35 0 1 0 -2.7 0zM576.78 114.82a1.35 1.35 0 1 0 2.7 0a1.35 1.35 0 1 0 -2.7 0zM578.47 115.67a1.35 1.35 0 1 0 2.7 0a1.35 1.35 0 1 0 -2.7 0zM580.16 115.67a1.35 1.35 0 1 0 2.7 0a1.35 1.35 0 1 0 -2.7 0zM581.86 115.83a1.35 1.35 0 1 0 2.7 0a1.35 1.35 0 1 0 -2.7 0zM583.55 116.23a1.35 1.35 0 1 0 2.7 0a1.35 1.35 0 1 0 -2.7 0zM585.24 116.6a1.35 1.35 0 1 0 2.7 0a1.35 1.35 0 1 0 -2.7 0zM586.94 116.72a1.35 1.35 0 1 0 2.7 0a1.35 1.35 0 1 0 -2.7 0zM588.63 116.59a1.35 1.35 0 1 0 2.7 0a1.35 1.35 0 1 0 -2.7 0zM590.32 117.47a1.35 1.35 0 1 0 2.7 0a1.35 1.35 0 1 0 -2.7 0zM592.02 117.22a1.35 1.35 0 1 0 2.7 0a1.35 1.35 0 1 0 -2.7 0zM593.71 117.57a1.35 1.35 0 1 0 2.7 0a1.35 1.35 0 1 0 -2.7 0zM595.4 118.19a1.35 1.35 0 1 0 2.7 0a1.35 1.35 0 1 0 -2.7 0zM597.1 117.28a1.35 1.35 0 1 0 2.7 0a1.35 1.35 0 1 0 -2.7 0zM598.79 116.17a1.35 1.35 0 1 0 2.7 0a1.35 1.35 0 1 0 -2.7 0zM600.48 115.42a1.35 1.35 0 1 0 2.7 0a1.35 1.35 0 1 0 -2.7 0zM602.18 115.69a1.35 1.35 0 1 0 2.7 0a1.35 1.35 0 1 0 -2.7 0zM603.87 114.73a1.35 1.35 0 1 0 2.7 0a1.35 1.35 0 1 0 -2.7 0zM605.56 114.8a1.35 1.35 0 1 0 2.7 0a1.35 1.35 0 1 0 -2.7 0zM607.26 114.52a1.35 1.35 0 1 0 2.7 0a1.35 1.35 0 1 0 -2.7 0zM608.95 115.19a1.35 1.35 0 1 0 2.7 0a1.35 1.35 0 1 0 -2.7 0zM610.65 114.93a1.35 1.35 0 1 0 2.7 0a1.35 1.35 0 1 0 -2.7 0zM612.34 115.02a1.35 1.35 0 1 0 2.7 0a1.35 1.35 0 1 0 -2.7 0zM614.03 114.23a1.35 1.35 0 1 0 2.7 0a1.35 1.35 0 1 0 -2.7 0zM615.73 114.58a1.35 1.35 0 1 0 2.7 0a1.35 1.35 0 1 0 -2.7 0zM617.42 114.59a1.35 1.35 0 1 0 2.7 0a1.35 1.35 0 1 0 -2.7 0zM619.11 114.27a1.35 1.35 0 1 0 2.7 0a1.35 1.35 0 1 0 -2.7 0z" fill="#000"/>
<path d="M50.35 120.26a1.1 1.1 0 1 0 2.2 0a1.1 1.1 0 1 0 -2.2 0zM52.04 126.12a1.1 1.1 0 1 0 2.2 0a1.1 1.1 0 1 0 -2.2 0zM53.73 125.46a1.1 1.1 0 1 0 2.2 0a1.1 1.1 0 1 0 -2.2 0zM55.43 125.79a1.1 1.1 0 1 0 2.2 0a1.1 1.1 0 1 0 -2.2 0zM57.12 125.17a1.1 1.1 0 1 0 2.2 0a1.1 1.1 0 1 0 -2.2 0zM58.81 121.89a1.1 1.1 0 1 0 2.2 0a1.1 1.1 0 1 0 -2.2 0zM60.51 121.43a1.1 1.1 0 1 0 2.2 0a1.1 1.1 0 1 0 -2.2 0zM62.2 120.28a1.1 1.1 0 1 0 2.2 0a1.1 1.1 0 1 0 -2.2 0zM63.89 119.97a1.1 1.1 0 1 0 2.2 0a1.1 1.1 0 1 0 -2.2 0zM65.59 119.19a1.1 1.1 0 1 0 2.2 0a1.1 1.1 0 1 0 -2.2 0zM67.28 119.39a1.1 1.1 0 1 0 2.2 0a1.1 1.1 0 1 0 -2.2 0zM68.98 119.24a1.1 1.1 0 1 0 2.2 0a1.1 1.1 0 1 0 -2.2 0zM70.67 118.8a1.1 1.1 0 1 0 2.2 0a1.1 1.1 0 1 0 -2.2 0zM72.36 118.3a1.1 1.1 0 1 0 2.2 0a1.1 1.1 0 1 0 -2.2 0zM74.06 118.65a1.1 1.1 0 1 0 2.2 0a1.1 1.1 0 1 0 -2.2 0zM75.75 117.83a1.1 1.1 0 1 0 2.2 0a1.1 1.1 0 1 0 -2.2 0zM77.44 116.89a1.1 1.1 0 1 0 2.2 0a1.1 1.1 0 1 0 -2.2 0zM79.14 116.65a1.1 1.1 0 1 0 2.2 0a1.1 1.1 0 1 0 -2.2 0zM80.83 117.03a1.1 1.1 0 1 0 2.2 0a1.1 1.1 0 1 0 -2.2 0zM82.52 117.25a1.1 1.1 0 1 0 2.2 0a1.1 1.1 0 1 0 -2.2 0zM84.22 116.78a1.1 1.1 0 1 0 2.2 0a1.1 1.1 0 1 0 -2.2 0zM85.91 118.8a1.1 1.1 0 1 0 2.2 0a1.1 1.1 0 1 0 -2.2 0zM87.6 119.24a1.1 1.1 0 1 0 2.2 0a1.1 1.1 0 1 0 -2.2 0zM89.3 120.47a1.1 1.1 0 1 0 2.2 0a1.1 1.1 0 1 0 -2.2 0zM90.99 121.26a1.1 1.1 0 1 0 2.2 0a1.1 1.1 0 1 0 -2.2 0zM92.68 121.72a1.1 1.1 0 1 0 2.2 0a1.1 1.1 0 1 0 -2.2 0zM94.38 121.47a1.1 1.1 0 1 0 2.2 0a1.1 1.1 0 1 0 -2.2 0zM96.07 120.92a1.1 1.1 0 1 0 2.2 0a1.1 1.1 0 1 0 -2.2 0zM97.76 121.41a1.1 1.1 0 1 0 2.2 0a1.1 1.1 0 1 0 -2.2 0zM99.46 120.96a1.1 1.1 0 1 0 2.2 0a1.1 1.1 0 1 0 -2.2 0zM101.15 120.87a1.1 1.1 0 1 0 2.2 0a1.1 1.1 0 1 0 -2.2 0zM102.85 121.12a1.1 1.1 0 1 0 2.2 0a1.1 1.1 0 1 0 -2.2 0zM104.54 120.77a1.1 1.1 0 1 0 2.2 0a1.1 1.1 0 1 0 -2.2 0zM106.23 120.71a1.1 1.1 0 1 0 2.2 0a1.1 1.1 0 1 0 -2.2 0zM107.93 120.21a1.1 1.1 0 1 0 2.2 0a1.1 1.1 0 1 0 -2.2 0zM109.62 120.06a1.1 1.1 0 1 0 2.2 0a1.1 1.1 0 1 0 -2.2 0zM111.31 119.74a1.1 1.1 0 1 0 2.2 0a1.1 1.1 0 1 0 -2.2 0zM113.01 120.08a1.1 1.1 0 1 0 2.2 0a1.1 1.1 0 1 0 -2.2 0zM114.7 120.3a1.1 1.1 0 1 0 2.2 0a1.1 1.1 0 1 0 -2.2 0zM116.39 120.17a1.1 1.1 0 1 0 2.2 0a1.1 1.1 0 1 0 -2.2 0zM118.09 120.38a1.1 1.1 0 1 0 2.2 0a1.1 1.1 0 1 0 -2.2 0zM119.78 120.58a1.1 1.1 0 1 0 2.2 0a1.1 1.1 0 1 0 -2.2 0zM121.47 120.19a1.1 1.1 0 1 0 2.2 0a1.1 1.1 0 1 0 -2.2 0zM123.17 120.34a1.1 1.1 0 1 0 2.2 0a1.1 1.1 0 1 0 -2.2 0zM124.86 120.82a1.1 1.1 0 1 0 2.2 0a1.1 1.1 0 1 0 -2.2 0zM126.55 120.58a1.1 1.1 0 1 0 2.2 0a1.1 1.1 0 1 0 -2.2 0zM128.25 120.69a1.1 1.1 0 1 0 2.2 0a1.1 1.1 0 1 0 -2.2 0zM129.94 120.43a1.1 1.1 0 1 0 2.2 0a1.1 1.1 0 1 0 -2.2 0zM131.63 120.96a1.1 1.1 0 1 0 2.2 0a1.1 1.1 0 1 0 -2.2 0zM133.33 121.96a1.1 1.1 0 1 0 2.2 0a1.1 1.1 0 1 0 -2.2 0zM135.02 117.77a1.1 1.1 0 1 0 2.2 0a1.1 1.1 0 1 0 -2.2 0zM136.72 119.02a1.1 1.1 0 1 0 2.2 0a1.1 1.1 0 1 0 -2.2 0zM138.41 119.22a1.1 1.1 0 1 0 2.2 0a1.1 1.1 0 1 0 -2.2 0zM140.1 120.91a1.1 1.1 0 1 0 2.2 0a1.1 1.1 0 1 0 -2.2 0zM141.8 121.93a1.1 1.1 0 1 0 2.2 0a1.1 1.1 0 1 0 -2.2 0zM143.49 121.85a1.1 1.1 0 1 0 2.2 0a1.1 1.1 0 1 0 -2.2 0zM145.18 122.13a1.1 1.1 0 1 0 2.2 0a1.1 1.1 0 1 0 -2.2 0zM146.88 121.31a1.1 1.1 0 1 0 2.2 0a1.1 1.1 0 1 0 -2.2 0zM148.57 120.98a1.1 1.1 0 1 0 2.2 0a1.1 1.1 0 1 0 -2.2 0zM150.26 121.02a1.1 1.1 0 1 0 2.2 0a1.1 1.1 0 1 0 -2.2 0zM151.96 121.59a1.1 1.1 0 1 0 2.2 0a1.1 1.1 0 1 0 -2.2 0zM153.65 122.94a1.1 1.1 0 1 0 2.2 0a1.1 1.1 0 1 0 -2.2 0zM155.34 123.44a1.1 1.1 0 1 0 2.2 0a1.1 1.1 0 1 0 -2.2 0zM157.04 122.82a1.1 1.1 0 1 0 2.2 0a1.1 1.1 0 1 0 -2.2 0zM158.73 121.97a1.1 1.1 0 1 0 2.2 0a1.1 1.1 0 1 0 -2.2 0zM160.42 120.89a1.1 1.1 0 1 0 2.2 0a1.1 1.1 0 1 0 -2.2 0zM162.12 119.3a1.1 1.1 0 1 0 2.2 0a1.1 1.1 0 1 0 -2.2 0zM163.81 117.96a1.1 1.1 0 1 0 2.2 0a1.1 1.1 0 1 0 -2.2 0zM165.5 118.32a1.1 1.1 0 1 0 2.2 0a1.1 1.1 0 1 0 -2.2 0zM167.2 118.27a1.1 1.1 0 1 0 2.2 0a1.1 1.1 0 1 0 -2.2 0zM168.89 119.48a1.1 1.1 0 1 0 2.2 0a1.1 1.1 0 1 0 -2.2 0zM170.59 119.56a1.1 1.1 0 1 0 2.2 0a1.1 1.1 0 1 0 -2.2 0zM172.28 120.38a1.1 1.1 0 1 0 2.2 0a1.1 1.1 0 1 0 -2.2 0zM173.97 120.84a1.1 1.1 0 1 0 2.2 0a1.1 1.1 0 1 0 -2.2 0zM175.67 121.56a1.1 1.1 0 1 0 2.2 0a1.1 1.1 0 1 0 -2.2 0zM177.36 121.84a1.1 1.1 0 1 0 2.2 0a1.1 1.1 0 1 0 -2.2 0zM179.05 121.53a1.1 1.1 0 1 0 2.2 0a1.1 1.1 0 1 0 -2.2 0zM180.75 121.06a1.1 1.1 0 1 0 2.2 0a1.1 1.1 0 1 0 -2.2 0zM182.44 121.43a1.1 1.1 0 1 0 2.2 0a1.1 1.1 0 1 0 -2.2 0zM184.13 120.82a1.1 1.1 0 1 0 2.2 0a1.1 1.1 0 1 0 -2.2 0zM185.83 120.89a1.1 1.1 0 1 0 2.2 0a1.1 1.1 0 1 0 -2.2 0zM187.52 120.84a1.1 1.1 0 1 0 2.2 0a1.1 1.1 0 1 0 -2.2 0zM189.21 120.8a1.1 1.1 0 1 0 2.2 0a1.1 1.1 0 1 0 -2.2 0zM190.91 120.06a1.1 1.1 0 1 0 2.2 0a1.1 1.1 0 1 0 -2.2 0zM192.6 120.54a1.1 1.1 0 1 0 2.2 0a1.1 1.1 0 1 0 -2.2 0zM194.29 120.34a1.1 1.1 0 1 0 2.2 0a1.1 1.1 0 1 0 -2.2 0zM195.99 117.75a1.1 1.1 0 1 0 2.2 0a1.1 1.1 0 1 0 -2.2 0zM197.68 117.21a1.1 1.1 0 1 0 2.2 0a1.1 1.1 0 1 0 -2.2 0zM199.37 118.21a1.1 1.1 0 1 0 2.2 0a1.1 1.1 0 1 0 -2.2 0zM201.07 118.98a1.1 1.1 0 1 0 2.2 0a1.1 1.1 0 1 0 -2.2 0zM202.76 120.04a1.1 1.1 0 1 0 2.2 0a1.1 1.1 0 1 0 -2.2 0zM204.46 119.61a1.1 1.1 0 1 0 2.2 0a1.1 1.1 0 1 0 -2.2 0zM206.15 119.55a1.1 1.1 0 1 0 2.2 0a1.1 1.1 0 1 0 -2.2 0zM207.84 119.38a1.1 1.1 0 1 0 2.2 0a1.1 1.1 0 1 0 -2.2 0zM209.54 119.79a1.1 1.1 0 1 0 2.2 0a1.1 1.1 0 1 0 -2.2 0zM211.23 119.55a1.1 1.1 0 1 0 2.2 0a1.1 1.1 0 1 0 -2.2 0zM212.92 119.49a1.1 1.1 0 1 0 2.2 0a1.1 1.1 0 1 0 -2.2 0zM214.62 118.91a1.1 1.1 0 1 0 2.2 0a1.1 1.1 0 1 0 -2.2 0zM216.31 118.74a1.1 1.1 0 1 0 2.2 0a1.1 1.1 0 1 0 -2.2 0zM218 119.37a1.1 1.1 0 1 0 2.2 0a1.1 1.1 0 1 0 -2.2 0zM219.7 119.15a1.1 1.1 0 1 0 2.2 0a1.1 1.1 0 1 0 -2.2 0zM221.39 117.91a1.1 1.1 0 1 0 2.2 0a1.1 1.1 0 1 0 -2.2 0zM223.08 116.72a1.1 1.1 0 1 0 2.2 0a1.1 1.1 0 1 0 -2.2 0zM224.78 117.19a1.1 1.1 0 1 0 2.2 0a1.1 1.1 0 1 0 -2.2 0zM226.47 117.92a1.1 1.1 0 1 0 2.2 0a1.1 1.1 0 1 0 -2.2 0zM228.16 119.01a1.1 1.1 0 1 0 2.2 0a1.1 1.1 0 1 0 -2.2 0zM229.86 119.14a1.1 1.1 0 1 0 2.2 0a1.1 1.1 0 1 0 -2.2 0zM231.55 118.66a1.1 1.1 0 1 0 2.2 0a1.1 1.1 0 1 0 -2.2 0zM233.24 118.6a1.1 1.1 0 1 0 2.2 0a1.1 1.1 0 1 0 -2.2 0zM234.94 118.31a1.1 1.1 0 1 0 2.2 0a1.1 1.1 0 1 0 -2.2 0zM236.63 117.89a1.1 1.1 0 1 0 2.2 0a1.1 1.1 0 1 0 -2.2 0zM238.33 118.13a1.1 1.1 0 1 0 2.2 0a1.1 1.1 0 1 0 -2.2 0zM240.02 118.29a1.1 1.1 0 1 0 2.2 0a1.1 1.1 0 1 0 -2.2 0zM241.71 118.19a1.1 1.1 0 1 0 2.2 0a1.1 1.1 0 1 0 -2.2 0zM243.41 118.14a1.1 1.1 0 1 0 2.2 0a1.1 1.1 0 1 0 -2.2 0zM245.1 118.71a1.1 1.1 0 1 0 2.2 0a1.1 1.1 0 1 0 -2.2 0zM246.79 117.94a1.1 1.1 0 1 0 2.2 0a1.1 1.1 0 1 0 -2.2 0zM248.49 118.04a1.1 1.1 0 1 0 2.2 0a1.1 1.1 0 1 0 -2.2 0zM250.18 117.76a1.1 1.1 0 1 0 2.2 0a1.1 1.1 0 1 0 -2.2 0zM251.87 117.33a1.1 1.1 0 1 0 2.2 0a1.1 1.1 0 1 0 -2.2 0zM253.57 117.2a1.1 1.1 0 1 0 2.2 0a1.1 1.1 0 1 0 -2.2 0zM255.26 117.09a1.1 1.1 0 1 0 2.2 0a1.1 1.1 0 1 0 -2.2 0zM256.95 117.36a1.1 1.1 0 1 0 2.2 0a1.1 1.1 0 1 0 -2.2 0zM258.65 116.88a1.1 1.1 0 1 0 2.2 0a1.1 1.1 0 1 0 -2.2 0zM260.34 117.4a1.1 1.1 0 1 0 2.2 0a1.1 1.1 0 1 0 -2.2 0zM262.03 117.39a1.1 1.1 0 1 0 2.2 0a1.1 1.1 0 1 0 -2.2 0zM263.73 117.27a1.1 1.1 0 1 0 2.2 0a1.1 1.1 0 1 0 -2.2 0zM265.42 117.31a1.1 1.1 0 1 0 2.2 0a1.1 1.1 0 1 0 -2.2 0zM267.11 117.15a1.1 1.1 0 1 0 2.2 0a1.1 1.1 0 1 0 -2.2 0zM268.81 117.48a1.1 1.1 0 1 0 2.2 0a1.1 1.1 0 1 0 -2.2 0zM270.5 117.6a1.1 1.1 0 1 0 2.2 0a1.1 1.1 0 1 0 -2.2 0zM272.2 117.54a1.1 1.1 0 1 0 2.2 0a1.1 1.1 0 1 0 -2.2 0zM273.89 117.66a1.1 1.1 0 1 0 2.2 0a1.1 1.1 0 1 0 -2.2 0zM275.58 117.47a1.1 1.1 0 1 0 2.2 0a1.1 1.1 0 1 0 -2.2 0zM277.28 117.82a1.1 1.1 0 1 0 2.2 0a1.1 1.1 0 1 0 -2.2 0zM278.97 116.78a1.1 1.1 0 1 0 2.2 0a1.1 1.1 0 1 0 -2.2 0zM280.66 116.62a1.1 1.1 0 1 0 2.2 0a1.1 1.1 0 1 0 -2.2 0zM282.36 116.64a1.1 1.1 0 1 0 2.2 0a1.1 1.1 0 1 0 -2.2 0zM284.05 116.14a1.1 1.1 0 1 0 2.2 0a1.1 1.1 0 1 0 -2.2 0zM285.74 115.65a1.1 1.1 0 1 0 2.2 0a1.1 1.1 0 1 0 -2.2 0zM287.44 116.93a1.1 1.1 0 1 0 2.2 0a1.1 1.1 0 1 0 -2.2 0zM289.13 118.51a1.1 1.1 0 1 0 2.2 0a1.1 1.1 0 1 0 -2.2 0zM290.82 117.72a1.1 1.1 0 1 0 2.2 0a1.1 1.1 0 1 0 -2.2 0zM292.52 117.29a1.1 1.1 0 1 0 2.2 0a1.1 1.1 0 1 0 -2.2 0zM294.21 117.48a1.1 1.1 0 1 0 2.2 0a1.1 1.1 0 1 0 -2.2 0zM295.9 117.17a1.1 1.1 0 1 0 2.2 0a1.1 1.1 0 1 0 -2.2 0zM297.6 117.24a1.1 1.1 0 1 0 2.2 0a1.1 1.1 0 1 0 -2.2 0zM299.29 117.29a1.1 1.1 0 1 0 2.2 0a1.1 1.1 0 1 0 -2.2 0zM300.98 119.83a1.1 1.1 0 1 0 2.2 0a1.1 1.1 0 1 0 -2.2 0zM302.68 119.66a1.1 1.1 0 1 0 2.2 0a1.1 1.1 0 1 0 -2.2 0zM304.37 118.9a1.1 1.1 0 1 0 2.2 0a1.1 1.1 0 1 0 -2.2 0zM306.07 119.26a1.1 1.1 0 1 0 2.2 0a1.1 1.1 0 1 0 -2.2 0zM307.76 119.66a1.1 1.1 0 1 0 2.2 0a1.1 1.1 0 1 0 -2.2 0zM309.45 119.91a1.1 1.1 0 1 0 2.2 0a1.1 1.1 0 1 0 -2.2 0zM311.15 121.4a1.1 1.1 0 1 0 2.2 0a1.1 1.1 0 1 0 -2.2 0zM312.84 122.56a1.1 1.1 0 1 0 2.2 0a1.1 1.1 0 1 0 -2.2 0zM314.53 121.89a1.1 1.1 0 1 0 2.2 0a1.1 1.1 0 1 0 -2.2 0zM316.23 122.05a1.1 1.1 0 1 0 2.2 0a1.1 1.1 0 1 0 -2.2 0zM317.92 121.28a1.1 1.1 0 1 0 2.2 0a1.1 1.1 0 1 0 -2.2 0zM319.61 120.57a1.1 1.1 0 1 0 2.2 0a1.1 1.1 0 1 0 -2.2 0zM321.31 122.11a1.1 1.1 0 1 0 2.2 0a1.1 1.1 0 1 0 -2.2 0zM323 123.02a1.1 1.1 0 1 0 2.2 0a1.1 1.1 0 1 0 -2.2 0zM324.69 123.42a1.1 1.1 0 1 0 2.2 0a1.1 1.1 0 1 0 -2.2 0zM326.39 123.74a1.1 1.1 0 1 0 2.2 0a1.1 1.1 0 1 0 -2.2 0zM328.08 125.12a1.1 1.1 0 1 0 2.2 0a1.1 1.1 0 1 0 -2.2 0zM329.77 125.36a1.1 1.1 0 1 0 2.2 0a1.1 1.1 0 1 0 -2.2 0zM331.47 125.47a1.1 1.1 0 1 0 2.2 0a1.1 1.1 0 1 0 -2.2 0zM333.16 123.78a1.1 1.1 0 1 0 2.2 0a1.1 1.1 0 1 0 -2.2 0zM334.85 123.02a1.1 1.1 0 1 0 2.2 0a1.1 1.1 0 1 0 -2.2 0zM336.55 123.55a1.1 1.1 0 1 0 2.2 0a1.1 1.1 0 1 0 -2.2 0zM338.24 123.03a1.1 1.1 0 1 0 2.2 0a1.1 1.1 0 1 0 -2.2 0zM339.94 118.38a1.1 1.1 0 1 0 2.2 0a1.1 1.1 0 1 0 -2.2 0zM341.63 119.34a1.1 1.1 0 1 0 2.2 0a1.1 1.1 0 1 0 -2.2 0zM343.32 120.23a1.1 1.1 0 1 0 2.2 0a1.1 1.1 0 1 0 -2.2 0zM345.02 120.77a1.1 1.1 0 1 0 2.2 0a1.1 1.1 0 1 0 -2.2 0zM346.71 120.99a1.1 1.1 0 1 0 2.2 0a1.1 1.1 0 1 0 -2.2 0zM348.4 121.6a1.1 1.1 0 1 0 2.2 0a1.1 1.1 0 1 0 -2.2 0zM350.1 121.48a1.1 1.1 0 1 0 2.2 0a1.1 1.1 0 1 0 -2.2 0zM351.79 121.77a1.1 1.1 0 1 0 2.2 0a1.1 1.1 0 1 0 -2.2 0zM353.48 122.21a1.1 1.1 0 1 0 2.2 0a1.1 1.1 0 1 0 -2.2 0zM355.18 122.36a1.1 1.1 0 1 0 2.2 0a1.1 1.1 0 1 0 -2.2 0zM356.87 122.28a1.1 1.1 0 1 0 2.2 0a1.1 1.1 0 1 0 -2.2 0zM358.56 122.44a1.1 1.1 0 1 0 2.2 0a1.1 1.1 0 1 0 -2.2 0zM360.26 121.9a1.1 1.1 0 1 0 2.2 0a1.1 1.1 0 1 0 -2.2 0zM361.95 121.16a1.1 1.1 0 1 0 2.2 0a1.1 1.1 0 1 0 -2.2 0zM363.64 121.12a1.1 1.1 0 1 0 2.2 0a1.1 1.1 0 1 0 -2.2 0zM365.34 119.72a1.1 1.1 0 1 0 2.2 0a1.1 1.1 0 1 0 -2.2 0zM367.03 118.64a1.1 1.1 0 1 0 2.2 0a1.1 1.1 0 1 0 -2.2 0zM368.72 119.15a1.1 1.1 0 1 0 2.2 0a1.1 1.1 0 1 0 -2.2 0zM370.42 120.76a1.1 1.1 0 1 0 2.2 0a1.1 1.1 0 1 0 -2.2 0zM372.11 117.83a1.1 1.1 0 1 0 2.2 0a1.1 1.1 0 1 0 -2.2 0zM373.81 118.2a1.1 1.1 0 1 0 2.2 0a1.1 1.1 0 1 0 -2.2 0zM375.5 119.3a1.1 1.1 0 1 0 2.2 0a1.1 1.1 0 1 0 -2.2 0zM377.19 120.36a1.1 1.1 0 1 0 2.2 0a1.1 1.1 0 1 0 -2.2 0zM378.89 120.31a1.1 1.1 0 1 0 2.2 0a1.1 1.1 0 1 0 -2.2 0zM380.58 120.39a1.1 1.1 0 1 0 2.2 0a1.1 1.1 0 1 0 -2.2 0zM382.27 120.77a1.1 1.1 0 1 0 2.2 0a1.1 1.1 0 1 0 -2.2 0zM383.97 121.41a1.1 1.1 0 1 0 2.2 0a1.1 1.1 0 1 0 -2.2 0zM385.66 120.9a1.1 1.1 0 1 0 2.2 0a1.1 1.1 0 1 0 -2.2 0zM387.35 120.42a1.1 1.1 0 1 0 2.2 0a1.1 1.1 0 1 0 -2.2 0zM389.05 120.33a1.1 1.1 0 1 0 2.2 0a1.1 1.1 0 1 0 -2.2 0zM390.74 118.92a1.1 1.1 0 1 0 2.2 0a1.1 1.1 0 1 0 -2.2 0zM392.43 118.11a1.1 1.1 0 1 0 2.2 0a1.1 1.1 0 1 0 -2.2 0zM394.13 119.4a1.1 1.1 0 1 0 2.2 0a1.1 1.1 0 1 0 -2.2 0zM395.82 118.86a1.1 1.1 0 1 0 2.2 0a1.1 1.1 0 1 0 -2.2 0zM397.51 118.53a1.1 1.1 0 1 0 2.2 0a1.1 1.1 0 1 0 -2.2 0zM399.21 118.24a1.1 1.1 0 1 0 2.2 0a1.1 1.1 0 1 0 -2.2 0zM400.9 117.11a1.1 1.1 0 1 0 2.2 0a1.1 1.1 0 1 0 -2.2 0zM402.59 117.45a1.1 1.1 0 1 0 2.2 0a1.1 1.1 0 1 0 -2.2 0zM404.29 117.87a1.1 1.1 0 1 0 2.2 0a1.1 1.1 0 1 0 -2.2 0zM405.98 118.41a1.1 1.1 0 1 0 2.2 0a1.1 1.1 0 1 0 -2.2 0zM407.68 119.1a1.1 1.1 0 1 0 2.2 0a1.1 1.1 0 1 0 -2.2 0zM409.37 119.27a1.1 1.1 0 1 0 2.2 0a1.1 1.1 0 1 0 -2.2 0zM411.06 118.94a1.1 1.1 0 1 0 2.2 0a1.1 1.1 0 1 0 -2.2 0zM412.76 119.32a1.1 1.1 0 1 0 2.2 0a1.1 1.1 0 1 0 -2.2 0zM414.45 120a1.1 1.1 0 1 0 2.2 0a1.1 1.1 0 1 0 -2.2 0zM416.14 118.59a1.1 1.1 0 1 0 2.2 0a1.1 1.1 0 1 0 -2.2 0zM417.84 117.06a1.1 1.1 0 1 0 2.2 0a1.1 1.1 0 1 0 -2.2 0zM419.53 115.89a1.1 1.1 0 1 0 2.2 0a1.1 1.1 0 1 0 -2.2 0zM421.22 115.59a1.1 1.1 0 1 0 2.2 0a1.1 1.1 0 1 0 -2.2 0zM422.92 115.81a1.1 1.1 0 1 0 2.2 0a1.1 1.1 0 1 0 -2.2 0zM424.61 115.26a1.1 1.1 0 1 0 2.2 0a1.1 1.1 0 1 0 -2.2 0zM426.3 116.57a1.1 1.1 0 1 0 2.2 0a1.1 1.1 0 1 0 -2.2 0zM428 118.14a1.1 1.1 0 1 0 2.2 0a1.1 1.1 0 1 0 -2.2 0zM429.69 118.26a1.1 1.1 0 1 0 2.2 0a1.1 1.1 0 1 0 -2.2 0zM431.38 117.93a1.1 1.1 0 1 0 2.2 0a1.1 1.1 0 1 0 -2.2 0zM433.08 117.98a1.1 1.1 0 1 0 2.2 0a1.1 1.1 0 1 0 -2.2 0zM434.77 117.6a1.1 1.1 0 1 0 2.2 0a1.1 1.1 0 1 0 -2.2 0zM436.46 116.24a1.1 1.1 0 1 0 2.2 0a1.1 1.1 0 1 0 -2.2 0zM438.16 117.33a1.1 1.1 0 1 0 2.2 0a1.1 1.1 0 1 0 -2.2 0zM439.85 118.06a1.1 1.1 0 1 0 2.2 0a1.1 1.1 0 1 0 -2.2 0zM441.55 117.64a1.1 1.1 0 1 0 2.2 0a1.1 1.1 0 1 0 -2.2 0zM443.24 117.26a1.1 1.1 0 1 0 2.2 0a1.1 1.1 0 1 0 -2.2 0zM444.93 116.03a1.1 1.1 0 1 0 2.2 0a1.1 1.1 0 1 0 -2.2 0zM446.63 115.64a1.1 1.1 0 1 0 2.2 0a1.1 1.1 0 1 0 -2.2 0zM448.32 117.42a1.1 1.1 0 1 0 2.2 0a1.1 1.1 0 1 0 -2.2 0zM450.01 118.52a1.1 1.1 0 1 0 2.2 0a1.1 1.1 0 1 0 -2.2 0zM451.71 118.39a1.1 1.1 0 1 0 2.2 0a1.1 1.1 0 1 0 -2.2 0zM453.4 118.34a1.1 1.1 0 1 0 2.2 0a1.1 1.1 0 1 0 -2.2 0zM455.09 117.93a1.1 1.1 0 1 0 2.2 0a1.1 1.1 0 1 0 -2.2 0zM456.79 118.13a1.1 1.1 0 1 0 2.2 0a1.1 1.1 0 1 0 -2.2 0zM458.48 115.26a1.1 1.1 0 1 0 2.2 0a1.1 1.1 0 1 0 -2.2 0zM460.17 115.12a1.1 1.1 0 1 0 2.2 0a1.1 1.1 0 1 0 -2.2 0zM461.87 114.64a1.1 1.1 0 1 0 2.2 0a1.1 1.1 0 1 0 -2.2 0zM463.56 115.68a1.1 1.1 0 1 0 2.2 0a1.1 1.1 0 1 0 -2.2 0zM465.25 117.2a1.1 1.1 0 1 0 2.2 0a1.1 1.1 0 1 0 -2.2 0zM466.95 117.43a1.1 1.1 0 1 0 2.2 0a1.1 1.1 0 1 0 -2.2 0zM468.64 117.27a1.1 1.1 0 1 0 2.2 0a1.1 1.1 0 1 0 -2.2 0zM470.33 117.84a1.1 1.1 0 1 0 2.2 0a1.1 1.1 0 1 0 -2.2 0zM472.03 117.51a1.1 1.1 0 1 0 2.2 0a1.1 1.1 0 1 0 -2.2 0zM473.72 116.82a1.1 1.1 0 1 0 2.2 0a1.1 1.1 0 1 0 -2.2 0zM475.42 116.37a1.1 1.1 0 1 0 2.2 0a1.1 1.1 0 1 0 -2.2 0zM477.11 117.19a1.1 1.1 0 1 0 2.2 0a1.1 1.1 0 1 0 -2.2 0zM478.8 116.29a1.1 1.1 0 1 0 2.2 0a1.1 1.1 0 1 0 -2.2 0zM480.5 114.4a1.1 1.1 0 1 0 2.2 0a1.1 1.1 0 1 0 -2.2 0zM482.19 114.85a1.1 1.1 0 1 0 2.2 0a1.1 1.1 0 1 0 -2.2 0zM483.88 115.23a1.1 1.1 0 1 0 2.2 0a1.1 1.1 0 1 0 -2.2 0zM485.58 114.72a1.1 1.1 0 1 0 2.2 0a1.1 1.1 0 1 0 -2.2 0zM487.27 115.51a1.1 1.1 0 1 0 2.2 0a1.1 1.1 0 1 0 -2.2 0zM488.96 115.59a1.1 1.1 0 1 0 2.2 0a1.1 1.1 0 1 0 -2.2 0zM490.66 115.72a1.1 1.1 0 1 0 2.2 0a1.1 1.1 0 1 0 -2.2 0zM492.35 116.22a1.1 1.1 0 1 0 2.2 0a1.1 1.1 0 1 0 -2.2 0zM494.04 116.76a1.1 1.1 0 1 0 2.2 0a1.1 1.1 0 1 0 -2.2 0zM495.74 116.58a1.1 1.1 0 1 0 2.2 0a1.1 1.1 0 1 0 -2.2 0zM497.43 116.55a1.1 1.1 0 1 0 2.2 0a1.1 1.1 0 1 0 -2.2 0zM499.12 116.34a1.1 1.1 0 1 0 2.2 0a1.1 1.1 0 1 0 -2.2 0zM500.82 116.96a1.1 1.1 0 1 0 2.2 0a1.1 1.1 0 1 0 -2.2 0zM502.51 116.55a1.1 1.1 0 1 0 2.2 0a1.1 1.1 0 1 0 -2.2 0zM504.2 116.83a1.1 1.1 0 1 0 2.2 0a1.1 1.1 0 1 0 -2.2 0zM505.9 116.8a1.1 1.1 0 1 0 2.2 0a1.1 1.1 0 1 0 -2.2 0zM507.59 116.48a1.1 1.1 0 1 0 2.2 0a1.1 1.1 0 1 0 -2.2 0zM509.29 116.96a1.1 1.1 0 1 0 2.2 0a1.1 1.1 0 1 0 -2.2 0zM510.98 117.15a1.1 1.1 0 1 0 2.2 0a1.1 1.1 0 1 0 -2.2 0zM512.67 117.2a1.1 1.1 0 1 0 2.2 0a1.1 1.1 0 1 0 -2.2 0zM514.37 117.09a1.1 1.1 0 1 0 2.2 0a1.1 1.1 0 1 0 -2.2 0zM516.06 117.1a1.1 1.1 0 1 0 2.2 0a1.1 1.1 0 1 0 -2.2 0zM517.75 116.54a1.1 1.1 0 1 0 2.2 0a1.1 1.1 0 1 0 -2.2 0zM519.45 116.22a1.1 1.1 0 1 0 2.2 0a1.1 1.1 0 1 0 -2.2 0zM521.14 115.81a1.1 1.1 0 1 0 2.2 0a1.1 1.1 0 1 0 -2.2 0zM522.83 115.23a1.1 1.1 0 1 0 2.2 0a1.1 1.1 0 1 0 -2.2 0zM524.53 115.05a1.1 1.1 0 1 0 2.2 0a1.1 1.1 0 1 0 -2.2 0zM526.22 115.45a1.1 1.1 0 1 0 2.2 0a1.1 1.1 0 1 0 -2.2 0zM527.91 115.98a1.1 1.1 0 1 0 2.2 0a1.1 1.1 0 1 0 -2.2 0zM529.61 116.04a1.1 1.1 0 1 0 2.2 0a1.1 1.1 0 1 0 -2.2 0zM531.3 116.73a1.1 1.1 0 1 0 2.2 0a1.1 1.1 0 1 0 -2.2 0zM532.99 116.52a1.1 1.1 0 1 0 2.2 0a1.1 1.1 0 1 0 -2.2 0zM534.69 116.28a1.1 1.1 0 1 0 2.2 0a1.1 1.1 0 1 0 -2.2 0zM536.38 116.74a1.1 1.1 0 1 0 2.2 0a1.1 1.1 0 1 0 -2.2 0zM538.07 116.29a1.1 1.1 0 1 0 2.2 0a1.1 1.1 0 1 0 -2.2 0zM539.77 115.77a1.1 1.1 0 1 0 2.2 0a1.1 1.1 0 1 0 -2.2 0zM541.46 115.79a1.1 1.1 0 1 0 2.2 0a1.1 1.1 0 1 0 -2.2 0zM543.16 116.43a1.1 1.1 0 1 0 2.2 0a1.1 1.1 0 1 0 -2.2 0zM544.85 116.45a1.1 1.1 0 1 0 2.2 0a1.1 1.1 0 1 0 -2.2 0zM546.54 116.15a1.1 1.1 0 1 0 2.2 0a1.1 1.1 0 1 0 -2.2 0zM548.24 116.49a1.1 1.1 0 1 0 2.2 0a1.1 1.1 0 1 0 -2.2 0zM549.93 116.36a1.1 1.1 0 1 0 2.2 0a1.1 1.1 0 1 0 -2.2 0zM551.62 116.56a1.1 1.1 0 1 0 2.2 0a1.1 1.1 0 1 0 -2.2 0zM553.32 116.06a1.1 1.1 0 1 0 2.2 0a1.1 1.1 0 1 0 -2.2 0zM555.01 116a1.1 1.1 0 1 0 2.2 0a1.1 1.1 0 1 0 -2.2 0zM556.7 115.95a1.1 1.1 0 1 0 2.2 0a1.1 1.1 0 1 0 -2.2 0zM558.4 116.67a1.1 1.1 0 1 0 2.2 0a1.1 1.1 0 1 0 -2.2 0zM560.09 116.2a1.1 1.1 0 1 0 2.2 0a1.1 1.1 0 1 0 -2.2 0zM561.78 116.3a1.1 1.1 0 1 0 2.2 0a1.1 1.1 0 1 0 -2.2 0zM563.48 116.82a1.1 1.1 0 1 0 2.2 0a1.1 1.1 0 1 0 -2.2 0zM565.17 116.19a1.1 1.1 0 1 0 2.2 0a1.1 1.1 0 1 0 -2.2 0zM566.86 116.15a1.1 1.1 0 1 0 2.2 0a1.1 1.1 0 1 0 -2.2 0zM568.56 116.61a1.1 1.1 0 1 0 2.2 0a1.1 1.1 0 1 0 -2.2 0zM570.25 115.52a1.1 1.1 0 1 0 2.2 0a1.1 1.1 0 1 0 -2.2 0zM571.94 115.59a1.1 1.1 0 1 0 2.2 0a1.1 1.1 0 1 0 -2.2 0zM573.64 115.08a1.1 1.1 0 1 0 2.2 0a1.1 1.1 0 1 0 -2.2 0zM575.33 114.44a1.1 1.1 0 1 0 2.2 0a1.1 1.1 0 1 0 -2.2 0zM577.03 114.82a1.1 1.1 0 1 0 2.2 0a1.1 1.1 0 1 0 -2.2 0zM578.72 115.67a1.1 1.1 0 1 0 2.2 0a1.1 1.1 0 1 0 -2.2 0zM580.41 115.67a1.1 1.1 0 1 0 2.2 0a1.1 1.1 0 1 0 -2.2 0zM582.11 115.83a1.1 1.1 0 1 0 2.2 0a1.1 1.1 0 1 0 -2.2 0zM583.8 116.23a1.1 1.1 0 1 0 2.2 0a1.1 1.1 0 1 0 -2.2 0zM585.49 116.6a1.1 1.1 0 1 0 2.2 0a1.1 1.1 0 1 0 -2.2 0zM587.19 116.72a1.1 1.1 0 1 0 2.2 0a1.1 1.1 0 1 0 -2.2 0zM588.88 116.59a1.1 1.1 0 1 0 2.2 0a1.1 1.1 0 1 0 -2.2 0zM590.57 117.47a1.1 1.1 0 1 0 2.2 0a1.1 1.1 0 1 0 -2.2 0zM592.27 117.22a1.1 1.1 0 1 0 2.2 0a1.1 1.1 0 1 0 -2.2 0zM593.96 117.57a1.1 1.1 0 1 0 2.2 0a1.1 1.1 0 1 0 -2.2 0zM595.65 118.19a1.1 1.1 0 1 0 2.2 0a1.1 1.1 0 1 0 -2.2 0zM597.35 117.28a1.1 1.1 0 1 0 2.2 0a1.1 1.1 0 1 0 -2.2 0zM599.04 116.17a1.1 1.1 0 1 0 2.2 0a1.1 1.1 0 1 0 -2.2 0zM600.73 115.42a1.1 1.1 0 1 0 2.2 0a1.1 1.1 0 1 0 -2.2 0zM602.43 115.69a1.1 1.1 0 1 0 2.2 0a1.1 1.1 0 1 0 -2.2 0zM604.12 114.73a1.1 1.1 0 1 0 2.2 0a1.1 1.1 0 1 0 -2.2 0zM605.81 114.8a1.1 1.1 0 1 0 2.2 0a1.1 1.1 0 1 0 -2.2 0zM607.51 114.52a1.1 1.1 0 1 0 2.2 0a1.1 1.1 0 1 0 -2.2 0zM609.2 115.19a1.1 1.1 0 1 0 2.2 0a1.1 1.1 0 1 0 -2.2 0zM610.9 114.93a1.1 1.1 0 1 0 2.2 0a1.1 1.1 0 1 0 -2.2 0zM612.59 115.02a1.1 1.1 0 1 0 2.2 0a1.1 1.1 0 1 0 -2.2 0zM614.28 114.23a1.1 1.1 0 1 0 2.2 0a1.1 1.1 0 1 0 -2.2 0zM615.98 114.58a1.1 1.1 0 1 0 2.2 0a1.1 1.1 0 1 0 -2.2 0zM617.67 114.59a1.1 1.1 0 1 0 2.2 0a1.1 1.1 0 1 0 -2.2 0zM619.36 114.27a1.1 1.1 0 1 0 2.2 0a1.1 1.1 0 1 0 -2.2 0z" fill="#7a107a" opacity="0.55"/>
<circle cx="557.8" cy="111.8" r="1.3" fill="#000"/>
<line x1="135.28" y1="218.4" x2="135.28" y2="370.6" stroke="#c8c8c8" stroke-width="1"/>
<line x1="219.95" y1="218.4" x2="219.95" y2="370.6" stroke="#c8c8c8" stroke-width="1"/>
<line x1="304.62" y1="218.4" x2="304.62" y2="370.6" stroke="#c8c8c8" stroke-width="1"/>
<line x1="389.3" y1="218.4" x2="389.3" y2="370.6" stroke="#c8c8c8" stroke-width="1"/>
<line x1="473.98" y1="218.4" x2="473.98" y2="370.6" stroke="#c8c8c8" stroke-width="1"/>
<line x1="558.65" y1="218.4" x2="558.65" y2="370.6" stroke="#c8c8c8" stroke-width="1"/>
<line x1="50.6" y1="269.8" x2="621.5" y2="269.8" stroke="#d0d0d0" stroke-width="1"/>
<line x1="50.6" y1="341.4" x2="621.5" y2="341.4" stroke="#e0c4c4" stroke-width="1"/>
<rect x="50.6" y="218.4" width="570.9" height="152.2" fill="none" stroke="#6a6a6a" stroke-width="1"/>
<path d="M50.6 370.75h17M50.6 366.4h8.5M50.6 362.05h8.5M50.6 357.7h8.5M50.6 353.35h8.5M50.6 349h17M50.6 344.65h8.5M50.6 340.3h8.5M50.6 335.95h8.5M50.6 331.6h8.5M50.6 327.25h17M50.6 322.9h8.5M50.6 318.55h8.5M50.6 314.2h8.5M50.6 309.85h8.5M50.6 305.5h17M50.6 301.15h8.5M50.6 296.8h8.5M50.6 292.45h8.5M50.6 288.1h8.5M50.6 283.75h17M50.6 279.4h8.5M50.6 275.05h8.5M50.6 270.7h8.5M50.6 266.35h8.5M50.6 262h17M50.6 257.65h8.5M50.6 253.3h8.5M50.6 248.95h8.5M50.6 244.6h8.5M50.6 240.25h17M50.6 235.9h8.5M50.6 231.55h8.5M50.6 227.2h8.5M50.6 222.85h8.5M50.6 218.5h17M50.6 370.6v-4.5M67.53 370.6v-2.3M84.47 370.6v-2.3M101.41 370.6v-2.3M118.34 370.6v-2.3M135.28 370.6v-4.5M152.21 370.6v-2.3M169.15 370.6v-2.3M186.08 370.6v-2.3M203.01 370.6v-2.3M219.95 370.6v-4.5M236.88 370.6v-2.3M253.82 370.6v-2.3M270.75 370.6v-2.3M287.69 370.6v-2.3M304.62 370.6v-4.5M321.56 370.6v-2.3M338.5 370.6v-2.3M355.43 370.6v-2.3M372.37 370.6v-2.3M389.3 370.6v-4.5M406.24 370.6v-2.3M423.17 370.6v-2.3M440.11 370.6v-2.3M457.04 370.6v-2.3M473.98 370.6v-4.5M490.91 370.6v-2.3M507.85 370.6v-2.3M524.78 370.6v-2.3M541.72 370.6v-2.3M558.65 370.6v-4.5M575.59 370.6v-2.3M592.52 370.6v-2.3M609.46 370.6v-2.3" stroke="#6a6a6a" stroke-width="1" fill="none"/>
<path d="M50 349a1.45 1.45 0 1 0 2.9 0a1.45 1.45 0 1 0 -2.9 0zM51.69 349a1.45 1.45 0 1 0 2.9 0a1.45 1.45 0 1 0 -2.9 0zM53.38 349a1.45 1.45 0 1 0 2.9 0a1.45 1.45 0 1 0 -2.9 0zM55.08 349a1.45 1.45 0 1 0 2.9 0a1.45 1.45 0 1 0 -2.9 0zM56.77 349a1.45 1.45 0 1 0 2.9 0a1.45 1.45 0 1 0 -2.9 0zM58.46 349a1.45 1.45 0 1 0 2.9 0a1.45 1.45 0 1 0 -2.9 0zM60.16 349a1.45 1.45 0 1 0 2.9 0a1.45 1.45 0 1 0 -2.9 0zM61.85 349a1.45 1.45 0 1 0 2.9 0a1.45 1.45 0 1 0 -2.9 0zM63.54 349a1.45 1.45 0 1 0 2.9 0a1.45 1.45 0 1 0 -2.9 0zM65.24 349a1.45 1.45 0 1 0 2.9 0a1.45 1.45 0 1 0 -2.9 0zM66.93 349a1.45 1.45 0 1 0 2.9 0a1.45 1.45 0 1 0 -2.9 0zM68.63 349a1.45 1.45 0 1 0 2.9 0a1.45 1.45 0 1 0 -2.9 0zM70.32 349a1.45 1.45 0 1 0 2.9 0a1.45 1.45 0 1 0 -2.9 0zM72.01 349a1.45 1.45 0 1 0 2.9 0a1.45 1.45 0 1 0 -2.9 0zM73.71 349a1.45 1.45 0 1 0 2.9 0a1.45 1.45 0 1 0 -2.9 0zM75.4 341.61a1.45 1.45 0 1 0 2.9 0a1.45 1.45 0 1 0 -2.9 0zM77.09 349a1.45 1.45 0 1 0 2.9 0a1.45 1.45 0 1 0 -2.9 0zM78.79 349a1.45 1.45 0 1 0 2.9 0a1.45 1.45 0 1 0 -2.9 0zM80.48 349a1.45 1.45 0 1 0 2.9 0a1.45 1.45 0 1 0 -2.9 0zM82.17 349a1.45 1.45 0 1 0 2.9 0a1.45 1.45 0 1 0 -2.9 0zM83.87 349a1.45 1.45 0 1 0 2.9 0a1.45 1.45 0 1 0 -2.9 0zM85.56 349a1.45 1.45 0 1 0 2.9 0a1.45 1.45 0 1 0 -2.9 0zM87.25 349a1.45 1.45 0 1 0 2.9 0a1.45 1.45 0 1 0 -2.9 0zM88.95 349a1.45 1.45 0 1 0 2.9 0a1.45 1.45 0 1 0 -2.9 0zM90.64 334.21a1.45 1.45 0 1 0 2.9 0a1.45 1.45 0 1 0 -2.9 0zM92.33 349a1.45 1.45 0 1 0 2.9 0a1.45 1.45 0 1 0 -2.9 0zM94.03 341.61a1.45 1.45 0 1 0 2.9 0a1.45 1.45 0 1 0 -2.9 0zM95.72 349a1.45 1.45 0 1 0 2.9 0a1.45 1.45 0 1 0 -2.9 0zM97.41 349a1.45 1.45 0 1 0 2.9 0a1.45 1.45 0 1 0 -2.9 0zM99.11 349a1.45 1.45 0 1 0 2.9 0a1.45 1.45 0 1 0 -2.9 0zM100.8 349a1.45 1.45 0 1 0 2.9 0a1.45 1.45 0 1 0 -2.9 0zM102.5 349a1.45 1.45 0 1 0 2.9 0a1.45 1.45 0 1 0 -2.9 0zM104.19 349a1.45 1.45 0 1 0 2.9 0a1.45 1.45 0 1 0 -2.9 0zM105.88 349a1.45 1.45 0 1 0 2.9 0a1.45 1.45 0 1 0 -2.9 0zM107.58 349a1.45 1.45 0 1 0 2.9 0a1.45 1.45 0 1 0 -2.9 0zM109.27 349a1.45 1.45 0 1 0 2.9 0a1.45 1.45 0 1 0 -2.9 0zM110.96 349a1.45 1.45 0 1 0 2.9 0a1.45 1.45 0 1 0 -2.9 0zM112.66 349a1.45 1.45 0 1 0 2.9 0a1.45 1.45 0 1 0 -2.9 0zM114.35 341.61a1.45 1.45 0 1 0 2.9 0a1.45 1.45 0 1 0 -2.9 0zM116.04 349a1.45 1.45 0 1 0 2.9 0a1.45 1.45 0 1 0 -2.9 0zM117.74 349a1.45 1.45 0 1 0 2.9 0a1.45 1.45 0 1 0 -2.9 0zM119.43 349a1.45 1.45 0 1 0 2.9 0a1.45 1.45 0 1 0 -2.9 0zM121.12 341.61a1.45 1.45 0 1 0 2.9 0a1.45 1.45 0 1 0 -2.9 0zM122.82 349a1.45 1.45 0 1 0 2.9 0a1.45 1.45 0 1 0 -2.9 0zM124.51 341.61a1.45 1.45 0 1 0 2.9 0a1.45 1.45 0 1 0 -2.9 0zM126.2 349a1.45 1.45 0 1 0 2.9 0a1.45 1.45 0 1 0 -2.9 0zM127.9 349a1.45 1.45 0 1 0 2.9 0a1.45 1.45 0 1 0 -2.9 0zM129.59 349a1.45 1.45 0 1 0 2.9 0a1.45 1.45 0 1 0 -2.9 0zM131.28 349a1.45 1.45 0 1 0 2.9 0a1.45 1.45 0 1 0 -2.9 0zM132.98 349a1.45 1.45 0 1 0 2.9 0a1.45 1.45 0 1 0 -2.9 0zM134.67 349a1.45 1.45 0 1 0 2.9 0a1.45 1.45 0 1 0 -2.9 0zM136.37 349a1.45 1.45 0 1 0 2.9 0a1.45 1.45 0 1 0 -2.9 0zM138.06 349a1.45 1.45 0 1 0 2.9 0a1.45 1.45 0 1 0 -2.9 0zM139.75 349a1.45 1.45 0 1 0 2.9 0a1.45 1.45 0 1 0 -2.9 0zM141.45 349a1.45 1.45 0 1 0 2.9 0a1.45 1.45 0 1 0 -2.9 0zM143.14 349a1.45 1.45 0 1 0 2.9 0a1.45 1.45 0 1 0 -2.9 0zM144.83 349a1.45 1.45 0 1 0 2.9 0a1.45 1.45 0 1 0 -2.9 0zM146.53 349a1.45 1.45 0 1 0 2.9 0a1.45 1.45 0 1 0 -2.9 0zM148.22 349a1.45 1.45 0 1 0 2.9 0a1.45 1.45 0 1 0 -2.9 0zM149.91 349a1.45 1.45 0 1 0 2.9 0a1.45 1.45 0 1 0 -2.9 0zM151.61 349a1.45 1.45 0 1 0 2.9 0a1.45 1.45 0 1 0 -2.9 0zM153.3 349a1.45 1.45 0 1 0 2.9 0a1.45 1.45 0 1 0 -2.9 0zM154.99 341.61a1.45 1.45 0 1 0 2.9 0a1.45 1.45 0 1 0 -2.9 0zM156.69 349a1.45 1.45 0 1 0 2.9 0a1.45 1.45 0 1 0 -2.9 0zM158.38 349a1.45 1.45 0 1 0 2.9 0a1.45 1.45 0 1 0 -2.9 0zM160.07 349a1.45 1.45 0 1 0 2.9 0a1.45 1.45 0 1 0 -2.9 0zM161.77 349a1.45 1.45 0 1 0 2.9 0a1.45 1.45 0 1 0 -2.9 0zM163.46 349a1.45 1.45 0 1 0 2.9 0a1.45 1.45 0 1 0 -2.9 0zM165.15 341.61a1.45 1.45 0 1 0 2.9 0a1.45 1.45 0 1 0 -2.9 0zM166.85 349a1.45 1.45 0 1 0 2.9 0a1.45 1.45 0 1 0 -2.9 0zM168.54 349a1.45 1.45 0 1 0 2.9 0a1.45 1.45 0 1 0 -2.9 0zM170.24 341.61a1.45 1.45 0 1 0 2.9 0a1.45 1.45 0 1 0 -2.9 0zM171.93 349a1.45 1.45 0 1 0 2.9 0a1.45 1.45 0 1 0 -2.9 0zM173.62 349a1.45 1.45 0 1 0 2.9 0a1.45 1.45 0 1 0 -2.9 0zM175.32 349a1.45 1.45 0 1 0 2.9 0a1.45 1.45 0 1 0 -2.9 0zM177.01 349a1.45 1.45 0 1 0 2.9 0a1.45 1.45 0 1 0 -2.9 0zM178.7 349a1.45 1.45 0 1 0 2.9 0a1.45 1.45 0 1 0 -2.9 0zM180.4 349a1.45 1.45 0 1 0 2.9 0a1.45 1.45 0 1 0 -2.9 0zM182.09 349a1.45 1.45 0 1 0 2.9 0a1.45 1.45 0 1 0 -2.9 0zM183.78 349a1.45 1.45 0 1 0 2.9 0a1.45 1.45 0 1 0 -2.9 0zM185.48 349a1.45 1.45 0 1 0 2.9 0a1.45 1.45 0 1 0 -2.9 0zM187.17 349a1.45 1.45 0 1 0 2.9 0a1.45 1.45 0 1 0 -2.9 0zM188.86 349a1.45 1.45 0 1 0 2.9 0a1.45 1.45 0 1 0 -2.9 0zM190.56 349a1.45 1.45 0 1 0 2.9 0a1.45 1.45 0 1 0 -2.9 0zM192.25 334.21a1.45 1.45 0 1 0 2.9 0a1.45 1.45 0 1 0 -2.9 0zM193.94 349a1.45 1.45 0 1 0 2.9 0a1.45 1.45 0 1 0 -2.9 0zM195.64 349a1.45 1.45 0 1 0 2.9 0a1.45 1.45 0 1 0 -2.9 0zM197.33 349a1.45 1.45 0 1 0 2.9 0a1.45 1.45 0 1 0 -2.9 0zM199.02 341.61a1.45 1.45 0 1 0 2.9 0a1.45 1.45 0 1 0 -2.9 0zM200.72 349a1.45 1.45 0 1 0 2.9 0a1.45 1.45 0 1 0 -2.9 0zM202.41 349a1.45 1.45 0 1 0 2.9 0a1.45 1.45 0 1 0 -2.9 0zM204.11 349a1.45 1.45 0 1 0 2.9 0a1.45 1.45 0 1 0 -2.9 0zM205.8 349a1.45 1.45 0 1 0 2.9 0a1.45 1.45 0 1 0 -2.9 0zM207.49 349a1.45 1.45 0 1 0 2.9 0a1.45 1.45 0 1 0 -2.9 0zM209.19 349a1.45 1.45 0 1 0 2.9 0a1.45 1.45 0 1 0 -2.9 0zM210.88 349a1.45 1.45 0 1 0 2.9 0a1.45 1.45 0 1 0 -2.9 0zM212.57 341.61a1.45 1.45 0 1 0 2.9 0a1.45 1.45 0 1 0 -2.9 0zM214.27 349a1.45 1.45 0 1 0 2.9 0a1.45 1.45 0 1 0 -2.9 0zM215.96 349a1.45 1.45 0 1 0 2.9 0a1.45 1.45 0 1 0 -2.9 0zM217.65 341.61a1.45 1.45 0 1 0 2.9 0a1.45 1.45 0 1 0 -2.9 0zM219.35 334.21a1.45 1.45 0 1 0 2.9 0a1.45 1.45 0 1 0 -2.9 0zM221.04 349a1.45 1.45 0 1 0 2.9 0a1.45 1.45 0 1 0 -2.9 0zM222.73 349a1.45 1.45 0 1 0 2.9 0a1.45 1.45 0 1 0 -2.9 0zM224.43 349a1.45 1.45 0 1 0 2.9 0a1.45 1.45 0 1 0 -2.9 0zM226.12 349a1.45 1.45 0 1 0 2.9 0a1.45 1.45 0 1 0 -2.9 0zM227.81 349a1.45 1.45 0 1 0 2.9 0a1.45 1.45 0 1 0 -2.9 0zM229.51 349a1.45 1.45 0 1 0 2.9 0a1.45 1.45 0 1 0 -2.9 0zM231.2 349a1.45 1.45 0 1 0 2.9 0a1.45 1.45 0 1 0 -2.9 0zM232.89 349a1.45 1.45 0 1 0 2.9 0a1.45 1.45 0 1 0 -2.9 0zM234.59 349a1.45 1.45 0 1 0 2.9 0a1.45 1.45 0 1 0 -2.9 0zM236.28 341.61a1.45 1.45 0 1 0 2.9 0a1.45 1.45 0 1 0 -2.9 0zM237.98 349a1.45 1.45 0 1 0 2.9 0a1.45 1.45 0 1 0 -2.9 0zM239.67 349a1.45 1.45 0 1 0 2.9 0a1.45 1.45 0 1 0 -2.9 0zM241.36 349a1.45 1.45 0 1 0 2.9 0a1.45 1.45 0 1 0 -2.9 0zM243.06 349a1.45 1.45 0 1 0 2.9 0a1.45 1.45 0 1 0 -2.9 0zM244.75 349a1.45 1.45 0 1 0 2.9 0a1.45 1.45 0 1 0 -2.9 0zM246.44 349a1.45 1.45 0 1 0 2.9 0a1.45 1.45 0 1 0 -2.9 0zM248.14 349a1.45 1.45 0 1 0 2.9 0a1.45 1.45 0 1 0 -2.9 0zM249.83 349a1.45 1.45 0 1 0 2.9 0a1.45 1.45 0 1 0 -2.9 0zM251.52 349a1.45 1.45 0 1 0 2.9 0a1.45 1.45 0 1 0 -2.9 0zM253.22 349a1.45 1.45 0 1 0 2.9 0a1.45 1.45 0 1 0 -2.9 0zM254.91 349a1.45 1.45 0 1 0 2.9 0a1.45 1.45 0 1 0 -2.9 0zM256.6 349a1.45 1.45 0 1 0 2.9 0a1.45 1.45 0 1 0 -2.9 0zM258.3 349a1.45 1.45 0 1 0 2.9 0a1.45 1.45 0 1 0 -2.9 0zM259.99 341.61a1.45 1.45 0 1 0 2.9 0a1.45 1.45 0 1 0 -2.9 0zM261.68 349a1.45 1.45 0 1 0 2.9 0a1.45 1.45 0 1 0 -2.9 0zM263.38 349a1.45 1.45 0 1 0 2.9 0a1.45 1.45 0 1 0 -2.9 0zM265.07 349a1.45 1.45 0 1 0 2.9 0a1.45 1.45 0 1 0 -2.9 0zM266.76 349a1.45 1.45 0 1 0 2.9 0a1.45 1.45 0 1 0 -2.9 0zM268.46 349a1.45 1.45 0 1 0 2.9 0a1.45 1.45 0 1 0 -2.9 0zM270.15 349a1.45 1.45 0 1 0 2.9 0a1.45 1.45 0 1 0 -2.9 0zM271.85 349a1.45 1.45 0 1 0 2.9 0a1.45 1.45 0 1 0 -2.9 0zM273.54 349a1.45 1.45 0 1 0 2.9 0a1.45 1.45 0 1 0 -2.9 0zM275.23 349a1.45 1.45 0 1 0 2.9 0a1.45 1.45 0 1 0 -2.9 0zM276.93 349a1.45 1.45 0 1 0 2.9 0a1.45 1.45 0 1 0 -2.9 0zM278.62 349a1.45 1.45 0 1 0 2.9 0a1.45 1.45 0 1 0 -2.9 0zM280.31 349a1.45 1.45 0 1 0 2.9 0a1.45 1.45 0 1 0 -2.9 0zM282.01 349a1.45 1.45 0 1 0 2.9 0a1.45 1.45 0 1 0 -2.9 0zM283.7 349a1.45 1.45 0 1 0 2.9 0a1.45 1.45 0 1 0 -2.9 0zM285.39 349a1.45 1.45 0 1 0 2.9 0a1.45 1.45 0 1 0 -2.9 0zM287.09 349a1.45 1.45 0 1 0 2.9 0a1.45 1.45 0 1 0 -2.9 0zM288.78 349a1.45 1.45 0 1 0 2.9 0a1.45 1.45 0 1 0 -2.9 0zM290.47 349a1.45 1.45 0 1 0 2.9 0a1.45 1.45 0 1 0 -2.9 0zM292.17 349a1.45 1.45 0 1 0 2.9 0a1.45 1.45 0 1 0 -2.9 0zM293.86 349a1.45 1.45 0 1 0 2.9 0a1.45 1.45 0 1 0 -2.9 0zM295.55 349a1.45 1.45 0 1 0 2.9 0a1.45 1.45 0 1 0 -2.9 0zM297.25 349a1.45 1.45 0 1 0 2.9 0a1.45 1.45 0 1 0 -2.9 0zM298.94 349a1.45 1.45 0 1 0 2.9 0a1.45 1.45 0 1 0 -2.9 0zM300.63 341.61a1.45 1.45 0 1 0 2.9 0a1.45 1.45 0 1 0 -2.9 0zM302.33 349a1.45 1.45 0 1 0 2.9 0a1.45 1.45 0 1 0 -2.9 0zM304.02 341.61a1.45 1.45 0 1 0 2.9 0a1.45 1.45 0 1 0 -2.9 0zM305.72 349a1.45 1.45 0 1 0 2.9 0a1.45 1.45 0 1 0 -2.9 0zM307.41 349a1.45 1.45 0 1 0 2.9 0a1.45 1.45 0 1 0 -2.9 0zM309.1 349a1.45 1.45 0 1 0 2.9 0a1.45 1.45 0 1 0 -2.9 0zM310.8 349a1.45 1.45 0 1 0 2.9 0a1.45 1.45 0 1 0 -2.9 0zM312.49 349a1.45 1.45 0 1 0 2.9 0a1.45 1.45 0 1 0 -2.9 0zM314.18 341.61a1.45 1.45 0 1 0 2.9 0a1.45 1.45 0 1 0 -2.9 0zM315.88 349a1.45 1.45 0 1 0 2.9 0a1.45 1.45 0 1 0 -2.9 0zM317.57 349a1.45 1.45 0 1 0 2.9 0a1.45 1.45 0 1 0 -2.9 0zM319.26 349a1.45 1.45 0 1 0 2.9 0a1.45 1.45 0 1 0 -2.9 0zM320.96 349a1.45 1.45 0 1 0 2.9 0a1.45 1.45 0 1 0 -2.9 0zM322.65 349a1.45 1.45 0 1 0 2.9 0a1.45 1.45 0 1 0 -2.9 0zM324.34 349a1.45 1.45 0 1 0 2.9 0a1.45 1.45 0 1 0 -2.9 0zM326.04 349a1.45 1.45 0 1 0 2.9 0a1.45 1.45 0 1 0 -2.9 0zM327.73 349a1.45 1.45 0 1 0 2.9 0a1.45 1.45 0 1 0 -2.9 0zM329.42 349a1.45 1.45 0 1 0 2.9 0a1.45 1.45 0 1 0 -2.9 0zM331.12 349a1.45 1.45 0 1 0 2.9 0a1.45 1.45 0 1 0 -2.9 0zM332.81 349a1.45 1.45 0 1 0 2.9 0a1.45 1.45 0 1 0 -2.9 0zM334.5 349a1.45 1.45 0 1 0 2.9 0a1.45 1.45 0 1 0 -2.9 0zM336.2 349a1.45 1.45 0 1 0 2.9 0a1.45 1.45 0 1 0 -2.9 0zM337.89 349a1.45 1.45 0 1 0 2.9 0a1.45 1.45 0 1 0 -2.9 0zM339.59 349a1.45 1.45 0 1 0 2.9 0a1.45 1.45 0 1 0 -2.9 0zM341.28 349a1.45 1.45 0 1 0 2.9 0a1.45 1.45 0 1 0 -2.9 0zM342.97 349a1.45 1.45 0 1 0 2.9 0a1.45 1.45 0 1 0 -2.9 0zM344.67 349a1.45 1.45 0 1 0 2.9 0a1.45 1.45 0 1 0 -2.9 0zM346.36 349a1.45 1.45 0 1 0 2.9 0a1.45 1.45 0 1 0 -2.9 0zM348.05 334.21a1.45 1.45 0 1 0 2.9 0a1.45 1.45 0 1 0 -2.9 0zM349.75 349a1.45 1.45 0 1 0 2.9 0a1.45 1.45 0 1 0 -2.9 0zM351.44 341.61a1.45 1.45 0 1 0 2.9 0a1.45 1.45 0 1 0 -2.9 0zM353.13 349a1.45 1.45 0 1 0 2.9 0a1.45 1.45 0 1 0 -2.9 0zM354.83 341.61a1.45 1.45 0 1 0 2.9 0a1.45 1.45 0 1 0 -2.9 0zM356.52 341.61a1.45 1.45 0 1 0 2.9 0a1.45 1.45 0 1 0 -2.9 0zM358.21 349a1.45 1.45 0 1 0 2.9 0a1.45 1.45 0 1 0 -2.9 0zM359.91 349a1.45 1.45 0 1 0 2.9 0a1.45 1.45 0 1 0 -2.9 0zM361.6 349a1.45 1.45 0 1 0 2.9 0a1.45 1.45 0 1 0 -2.9 0zM363.29 349a1.45 1.45 0 1 0 2.9 0a1.45 1.45 0 1 0 -2.9 0zM364.99 349a1.45 1.45 0 1 0 2.9 0a1.45 1.45 0 1 0 -2.9 0zM366.68 349a1.45 1.45 0 1 0 2.9 0a1.45 1.45 0 1 0 -2.9 0zM368.37 341.61a1.45 1.45 0 1 0 2.9 0a1.45 1.45 0 1 0 -2.9 0zM370.07 349a1.45 1.45 0 1 0 2.9 0a1.45 1.45 0 1 0 -2.9 0zM371.76 349a1.45 1.45 0 1 0 2.9 0a1.45 1.45 0 1 0 -2.9 0zM373.46 349a1.45 1.45 0 1 0 2.9 0a1.45 1.45 0 1 0 -2.9 0zM375.15 349a1.45 1.45 0 1 0 2.9 0a1.45 1.45 0 1 0 -2.9 0zM376.84 349a1.45 1.45 0 1 0 2.9 0a1.45 1.45 0 1 0 -2.9 0zM378.54 349a1.45 1.45 0 1 0 2.9 0a1.45 1.45 0 1 0 -2.9 0zM380.23 349a1.45 1.45 0 1 0 2.9 0a1.45 1.45 0 1 0 -2.9 0zM381.92 334.21a1.45 1.45 0 1 0 2.9 0a1.45 1.45 0 1 0 -2.9 0zM383.62 349a1.45 1.45 0 1 0 2.9 0a1.45 1.45 0 1 0 -2.9 0zM385.31 349a1.45 1.45 0 1 0 2.9 0a1.45 1.45 0 1 0 -2.9 0zM387 349a1.45 1.45 0 1 0 2.9 0a1.45 1.45 0 1 0 -2.9 0zM388.7 349a1.45 1.45 0 1 0 2.9 0a1.45 1.45 0 1 0 -2.9 0zM390.39 349a1.45 1.45 0 1 0 2.9 0a1.45 1.45 0 1 0 -2.9 0zM392.08 349a1.45 1.45 0 1 0 2.9 0a1.45 1.45 0 1 0 -2.9 0zM393.78 349a1.45 1.45 0 1 0 2.9 0a1.45 1.45 0 1 0 -2.9 0zM395.47 349a1.45 1.45 0 1 0 2.9 0a1.45 1.45 0 1 0 -2.9 0zM397.16 341.61a1.45 1.45 0 1 0 2.9 0a1.45 1.45 0 1 0 -2.9 0zM398.86 349a1.45 1.45 0 1 0 2.9 0a1.45 1.45 0 1 0 -2.9 0zM400.55 341.61a1.45 1.45 0 1 0 2.9 0a1.45 1.45 0 1 0 -2.9 0zM402.24 349a1.45 1.45 0 1 0 2.9 0a1.45 1.45 0 1 0 -2.9 0zM403.94 349a1.45 1.45 0 1 0 2.9 0a1.45 1.45 0 1 0 -2.9 0zM405.63 349a1.45 1.45 0 1 0 2.9 0a1.45 1.45 0 1 0 -2.9 0zM407.33 349a1.45 1.45 0 1 0 2.9 0a1.45 1.45 0 1 0 -2.9 0zM409.02 349a1.45 1.45 0 1 0 2.9 0a1.45 1.45 0 1 0 -2.9 0zM410.71 349a1.45 1.45 0 1 0 2.9 0a1.45 1.45 0 1 0 -2.9 0zM412.41 349a1.45 1.45 0 1 0 2.9 0a1.45 1.45 0 1 0 -2.9 0zM414.1 349a1.45 1.45 0 1 0 2.9 0a1.45 1.45 0 1 0 -2.9 0zM415.79 349a1.45 1.45 0 1 0 2.9 0a1.45 1.45 0 1 0 -2.9 0zM417.49 349a1.45 1.45 0 1 0 2.9 0a1.45 1.45 0 1 0 -2.9 0zM419.18 341.61a1.45 1.45 0 1 0 2.9 0a1.45 1.45 0 1 0 -2.9 0zM420.87 349a1.45 1.45 0 1 0 2.9 0a1.45 1.45 0 1 0 -2.9 0zM422.57 341.61a1.45 1.45 0 1 0 2.9 0a1.45 1.45 0 1 0 -2.9 0zM424.26 349a1.45 1.45 0 1 0 2.9 0a1.45 1.45 0 1 0 -2.9 0zM425.95 349a1.45 1.45 0 1 0 2.9 0a1.45 1.45 0 1 0 -2.9 0zM427.65 349a1.45 1.45 0 1 0 2.9 0a1.45 1.45 0 1 0 -2.9 0zM429.34 349a1.45 1.45 0 1 0 2.9 0a1.45 1.45 0 1 0 -2.9 0zM431.03 341.61a1.45 1.45 0 1 0 2.9 0a1.45 1.45 0 1 0 -2.9 0zM432.73 341.61a1.45 1.45 0 1 0 2.9 0a1.45 1.45 0 1 0 -2.9 0zM434.42 349a1.45 1.45 0 1 0 2.9 0a1.45 1.45 0 1 0 -2.9 0zM436.11 349a1.45 1.45 0 1 0 2.9 0a1.45 1.45 0 1 0 -2.9 0zM437.81 341.61a1.45 1.45 0 1 0 2.9 0a1.45 1.45 0 1 0 -2.9 0zM439.5 341.61a1.45 1.45 0 1 0 2.9 0a1.45 1.45 0 1 0 -2.9 0zM441.2 349a1.45 1.45 0 1 0 2.9 0a1.45 1.45 0 1 0 -2.9 0zM442.89 341.61a1.45 1.45 0 1 0 2.9 0a1.45 1.45 0 1 0 -2.9 0zM444.58 341.61a1.45 1.45 0 1 0 2.9 0a1.45 1.45 0 1 0 -2.9 0zM446.28 349a1.45 1.45 0 1 0 2.9 0a1.45 1.45 0 1 0 -2.9 0zM447.97 349a1.45 1.45 0 1 0 2.9 0a1.45 1.45 0 1 0 -2.9 0zM449.66 341.61a1.45 1.45 0 1 0 2.9 0a1.45 1.45 0 1 0 -2.9 0zM451.36 349a1.45 1.45 0 1 0 2.9 0a1.45 1.45 0 1 0 -2.9 0zM453.05 349a1.45 1.45 0 1 0 2.9 0a1.45 1.45 0 1 0 -2.9 0zM454.74 349a1.45 1.45 0 1 0 2.9 0a1.45 1.45 0 1 0 -2.9 0zM456.44 349a1.45 1.45 0 1 0 2.9 0a1.45 1.45 0 1 0 -2.9 0zM458.13 349a1.45 1.45 0 1 0 2.9 0a1.45 1.45 0 1 0 -2.9 0zM459.82 349a1.45 1.45 0 1 0 2.9 0a1.45 1.45 0 1 0 -2.9 0zM461.52 349a1.45 1.45 0 1 0 2.9 0a1.45 1.45 0 1 0 -2.9 0zM463.21 341.61a1.45 1.45 0 1 0 2.9 0a1.45 1.45 0 1 0 -2.9 0zM464.9 349a1.45 1.45 0 1 0 2.9 0a1.45 1.45 0 1 0 -2.9 0zM466.6 349a1.45 1.45 0 1 0 2.9 0a1.45 1.45 0 1 0 -2.9 0zM468.29 349a1.45 1.45 0 1 0 2.9 0a1.45 1.45 0 1 0 -2.9 0zM469.98 349a1.45 1.45 0 1 0 2.9 0a1.45 1.45 0 1 0 -2.9 0zM471.68 341.61a1.45 1.45 0 1 0 2.9 0a1.45 1.45 0 1 0 -2.9 0zM473.37 349a1.45 1.45 0 1 0 2.9 0a1.45 1.45 0 1 0 -2.9 0zM475.07 349a1.45 1.45 0 1 0 2.9 0a1.45 1.45 0 1 0 -2.9 0zM476.76 349a1.45 1.45 0 1 0 2.9 0a1.45 1.45 0 1 0 -2.9 0zM478.45 349a1.45 1.45 0 1 0 2.9 0a1.45 1.45 0 1 0 -2.9 0zM480.15 349a1.45 1.45 0 1 0 2.9 0a1.45 1.45 0 1 0 -2.9 0zM481.84 341.61a1.45 1.45 0 1 0 2.9 0a1.45 1.45 0 1 0 -2.9 0zM483.53 349a1.45 1.45 0 1 0 2.9 0a1.45 1.45 0 1 0 -2.9 0zM485.23 349a1.45 1.45 0 1 0 2.9 0a1.45 1.45 0 1 0 -2.9 0zM486.92 349a1.45 1.45 0 1 0 2.9 0a1.45 1.45 0 1 0 -2.9 0zM488.61 349a1.45 1.45 0 1 0 2.9 0a1.45 1.45 0 1 0 -2.9 0zM490.31 349a1.45 1.45 0 1 0 2.9 0a1.45 1.45 0 1 0 -2.9 0zM492 349a1.45 1.45 0 1 0 2.9 0a1.45 1.45 0 1 0 -2.9 0zM493.69 349a1.45 1.45 0 1 0 2.9 0a1.45 1.45 0 1 0 -2.9 0zM495.39 341.61a1.45 1.45 0 1 0 2.9 0a1.45 1.45 0 1 0 -2.9 0zM497.08 349a1.45 1.45 0 1 0 2.9 0a1.45 1.45 0 1 0 -2.9 0zM498.77 349a1.45 1.45 0 1 0 2.9 0a1.45 1.45 0 1 0 -2.9 0zM500.47 341.61a1.45 1.45 0 1 0 2.9 0a1.45 1.45 0 1 0 -2.9 0zM502.16 349a1.45 1.45 0 1 0 2.9 0a1.45 1.45 0 1 0 -2.9 0zM503.85 349a1.45 1.45 0 1 0 2.9 0a1.45 1.45 0 1 0 -2.9 0zM505.55 349a1.45 1.45 0 1 0 2.9 0a1.45 1.45 0 1 0 -2.9 0zM507.24 349a1.45 1.45 0 1 0 2.9 0a1.45 1.45 0 1 0 -2.9 0zM508.94 349a1.45 1.45 0 1 0 2.9 0a1.45 1.45 0 1 0 -2.9 0zM510.63 341.61a1.45 1.45 0 1 0 2.9 0a1.45 1.45 0 1 0 -2.9 0zM512.32 349a1.45 1.45 0 1 0 2.9 0a1.45 1.45 0 1 0 -2.9 0zM514.02 349a1.45 1.45 0 1 0 2.9 0a1.45 1.45 0 1 0 -2.9 0zM515.71 349a1.45 1.45 0 1 0 2.9 0a1.45 1.45 0 1 0 -2.9 0zM517.4 349a1.45 1.45 0 1 0 2.9 0a1.45 1.45 0 1 0 -2.9 0zM519.1 349a1.45 1.45 0 1 0 2.9 0a1.45 1.45 0 1 0 -2.9 0zM520.79 349a1.45 1.45 0 1 0 2.9 0a1.45 1.45 0 1 0 -2.9 0zM522.48 349a1.45 1.45 0 1 0 2.9 0a1.45 1.45 0 1 0 -2.9 0zM524.18 349a1.45 1.45 0 1 0 2.9 0a1.45 1.45 0 1 0 -2.9 0zM525.87 349a1.45 1.45 0 1 0 2.9 0a1.45 1.45 0 1 0 -2.9 0zM527.56 349a1.45 1.45 0 1 0 2.9 0a1.45 1.45 0 1 0 -2.9 0zM529.26 349a1.45 1.45 0 1 0 2.9 0a1.45 1.45 0 1 0 -2.9 0zM530.95 341.61a1.45 1.45 0 1 0 2.9 0a1.45 1.45 0 1 0 -2.9 0zM532.64 349a1.45 1.45 0 1 0 2.9 0a1.45 1.45 0 1 0 -2.9 0zM534.34 349a1.45 1.45 0 1 0 2.9 0a1.45 1.45 0 1 0 -2.9 0zM536.03 349a1.45 1.45 0 1 0 2.9 0a1.45 1.45 0 1 0 -2.9 0zM537.72 349a1.45 1.45 0 1 0 2.9 0a1.45 1.45 0 1 0 -2.9 0zM539.42 349a1.45 1.45 0 1 0 2.9 0a1.45 1.45 0 1 0 -2.9 0zM541.11 349a1.45 1.45 0 1 0 2.9 0a1.45 1.45 0 1 0 -2.9 0zM542.81 349a1.45 1.45 0 1 0 2.9 0a1.45 1.45 0 1 0 -2.9 0zM544.5 349a1.45 1.45 0 1 0 2.9 0a1.45 1.45 0 1 0 -2.9 0zM546.19 349a1.45 1.45 0 1 0 2.9 0a1.45 1.45 0 1 0 -2.9 0zM547.89 349a1.45 1.45 0 1 0 2.9 0a1.45 1.45 0 1 0 -2.9 0zM549.58 341.61a1.45 1.45 0 1 0 2.9 0a1.45 1.45 0 1 0 -2.9 0zM551.27 349a1.45 1.45 0 1 0 2.9 0a1.45 1.45 0 1 0 -2.9 0zM552.97 349a1.45 1.45 0 1 0 2.9 0a1.45 1.45 0 1 0 -2.9 0zM554.66 341.61a1.45 1.45 0 1 0 2.9 0a1.45 1.45 0 1 0 -2.9 0zM556.35 341.61a1.45 1.45 0 1 0 2.9 0a1.45 1.45 0 1 0 -2.9 0zM558.05 349a1.45 1.45 0 1 0 2.9 0a1.45 1.45 0 1 0 -2.9 0zM559.74 349a1.45 1.45 0 1 0 2.9 0a1.45 1.45 0 1 0 -2.9 0zM561.43 349a1.45 1.45 0 1 0 2.9 0a1.45 1.45 0 1 0 -2.9 0zM563.13 349a1.45 1.45 0 1 0 2.9 0a1.45 1.45 0 1 0 -2.9 0zM564.82 349a1.45 1.45 0 1 0 2.9 0a1.45 1.45 0 1 0 -2.9 0zM566.51 341.61a1.45 1.45 0 1 0 2.9 0a1.45 1.45 0 1 0 -2.9 0zM568.21 349a1.45 1.45 0 1 0 2.9 0a1.45 1.45 0 1 0 -2.9 0zM569.9 349a1.45 1.45 0 1 0 2.9 0a1.45 1.45 0 1 0 -2.9 0zM571.59 349a1.45 1.45 0 1 0 2.9 0a1.45 1.45 0 1 0 -2.9 0zM573.29 349a1.45 1.45 0 1 0 2.9 0a1.45 1.45 0 1 0 -2.9 0zM574.98 349a1.45 1.45 0 1 0 2.9 0a1.45 1.45 0 1 0 -2.9 0zM576.68 349a1.45 1.45 0 1 0 2.9 0a1.45 1.45 0 1 0 -2.9 0zM578.37 349a1.45 1.45 0 1 0 2.9 0a1.45 1.45 0 1 0 -2.9 0zM580.06 349a1.45 1.45 0 1 0 2.9 0a1.45 1.45 0 1 0 -2.9 0zM581.76 349a1.45 1.45 0 1 0 2.9 0a1.45 1.45 0 1 0 -2.9 0zM583.45 349a1.45 1.45 0 1 0 2.9 0a1.45 1.45 0 1 0 -2.9 0zM585.14 349a1.45 1.45 0 1 0 2.9 0a1.45 1.45 0 1 0 -2.9 0zM586.84 349a1.45 1.45 0 1 0 2.9 0a1.45 1.45 0 1 0 -2.9 0zM588.53 349a1.45 1.45 0 1 0 2.9 0a1.45 1.45 0 1 0 -2.9 0zM590.22 341.61a1.45 1.45 0 1 0 2.9 0a1.45 1.45 0 1 0 -2.9 0zM591.92 349a1.45 1.45 0 1 0 2.9 0a1.45 1.45 0 1 0 -2.9 0zM593.61 349a1.45 1.45 0 1 0 2.9 0a1.45 1.45 0 1 0 -2.9 0zM595.3 349a1.45 1.45 0 1 0 2.9 0a1.45 1.45 0 1 0 -2.9 0zM597 349a1.45 1.45 0 1 0 2.9 0a1.45 1.45 0 1 0 -2.9 0zM598.69 349a1.45 1.45 0 1 0 2.9 0a1.45 1.45 0 1 0 -2.9 0zM600.38 349a1.45 1.45 0 1 0 2.9 0a1.45 1.45 0 1 0 -2.9 0zM602.08 334.21a1.45 1.45 0 1 0 2.9 0a1.45 1.45 0 1 0 -2.9 0zM603.77 341.61a1.45 1.45 0 1 0 2.9 0a1.45 1.45 0 1 0 -2.9 0zM605.46 349a1.45 1.45 0 1 0 2.9 0a1.45 1.45 0 1 0 -2.9 0zM607.16 349a1.45 1.45 0 1 0 2.9 0a1.45 1.45 0 1 0 -2.9 0zM608.85 349a1.45 1.45 0 1 0 2.9 0a1.45 1.45 0 1 0 -2.9 0zM610.55 349a1.45 1.45 0 1 0 2.9 0a1.45 1.45 0 1 0 -2.9 0zM612.24 349a1.45 1.45 0 1 0 2.9 0a1.45 1.45 0 1 0 -2.9 0zM613.93 349a1.45 1.45 0 1 0 2.9 0a1.45 1.45 0 1 0 -2.9 0zM615.63 349a1.45 1.45 0 1 0 2.9 0a1.45 1.45 0 1 0 -2.9 0zM617.32 349a1.45 1.45 0 1 0 2.9 0a1.45 1.45 0 1 0 -2.9 0zM619.01 349a1.45 1.45 0 1 0 2.9 0a1.45 1.45 0 1 0 -2.9 0z" fill="none" stroke="#8c4646" stroke-width="0.9"/>
<path d="M50.15 314.11a1.3 1.3 0 1 0 2.6 0a1.3 1.3 0 1 0 -2.6 0zM51.84 315.31a1.3 1.3 0 1 0 2.6 0a1.3 1.3 0 1 0 -2.6 0zM53.53 316.79a1.3 1.3 0 1 0 2.6 0a1.3 1.3 0 1 0 -2.6 0zM55.23 317.56a1.3 1.3 0 1 0 2.6 0a1.3 1.3 0 1 0 -2.6 0zM56.92 317.02a1.3 1.3 0 1 0 2.6 0a1.3 1.3 0 1 0 -2.6 0zM58.61 315.35a1.3 1.3 0 1 0 2.6 0a1.3 1.3 0 1 0 -2.6 0zM60.31 315.08a1.3 1.3 0 1 0 2.6 0a1.3 1.3 0 1 0 -2.6 0zM62 317.63a1.3 1.3 0 1 0 2.6 0a1.3 1.3 0 1 0 -2.6 0zM63.69 315.42a1.3 1.3 0 1 0 2.6 0a1.3 1.3 0 1 0 -2.6 0zM65.39 313.44a1.3 1.3 0 1 0 2.6 0a1.3 1.3 0 1 0 -2.6 0zM67.08 313.19a1.3 1.3 0 1 0 2.6 0a1.3 1.3 0 1 0 -2.6 0zM68.78 314.03a1.3 1.3 0 1 0 2.6 0a1.3 1.3 0 1 0 -2.6 0zM70.47 314.75a1.3 1.3 0 1 0 2.6 0a1.3 1.3 0 1 0 -2.6 0zM72.16 313.11a1.3 1.3 0 1 0 2.6 0a1.3 1.3 0 1 0 -2.6 0zM73.86 315.68a1.3 1.3 0 1 0 2.6 0a1.3 1.3 0 1 0 -2.6 0zM75.55 314.41a1.3 1.3 0 1 0 2.6 0a1.3 1.3 0 1 0 -2.6 0zM77.24 313.72a1.3 1.3 0 1 0 2.6 0a1.3 1.3 0 1 0 -2.6 0zM78.94 311.55a1.3 1.3 0 1 0 2.6 0a1.3 1.3 0 1 0 -2.6 0zM80.63 312.92a1.3 1.3 0 1 0 2.6 0a1.3 1.3 0 1 0 -2.6 0zM82.32 311.88a1.3 1.3 0 1 0 2.6 0a1.3 1.3 0 1 0 -2.6 0zM84.02 313.65a1.3 1.3 0 1 0 2.6 0a1.3 1.3 0 1 0 -2.6 0zM85.71 314.7a1.3 1.3 0 1 0 2.6 0a1.3 1.3 0 1 0 -2.6 0zM87.4 314.65a1.3 1.3 0 1 0 2.6 0a1.3 1.3 0 1 0 -2.6 0zM89.1 311.54a1.3 1.3 0 1 0 2.6 0a1.3 1.3 0 1 0 -2.6 0zM90.79 312.66a1.3 1.3 0 1 0 2.6 0a1.3 1.3 0 1 0 -2.6 0zM92.48 314.39a1.3 1.3 0 1 0 2.6 0a1.3 1.3 0 1 0 -2.6 0zM94.18 315.63a1.3 1.3 0 1 0 2.6 0a1.3 1.3 0 1 0 -2.6 0zM95.87 313.55a1.3 1.3 0 1 0 2.6 0a1.3 1.3 0 1 0 -2.6 0zM97.56 312.79a1.3 1.3 0 1 0 2.6 0a1.3 1.3 0 1 0 -2.6 0zM99.26 313.9a1.3 1.3 0 1 0 2.6 0a1.3 1.3 0 1 0 -2.6 0zM100.95 314.6a1.3 1.3 0 1 0 2.6 0a1.3 1.3 0 1 0 -2.6 0zM102.65 312.82a1.3 1.3 0 1 0 2.6 0a1.3 1.3 0 1 0 -2.6 0zM104.34 311.7a1.3 1.3 0 1 0 2.6 0a1.3 1.3 0 1 0 -2.6 0zM106.03 314.74a1.3 1.3 0 1 0 2.6 0a1.3 1.3 0 1 0 -2.6 0zM107.73 315.57a1.3 1.3 0 1 0 2.6 0a1.3 1.3 0 1 0 -2.6 0zM109.42 314.25a1.3 1.3 0 1 0 2.6 0a1.3 1.3 0 1 0 -2.6 0zM111.11 313.89a1.3 1.3 0 1 0 2.6 0a1.3 1.3 0 1 0 -2.6 0zM112.81 312.75a1.3 1.3 0 1 0 2.6 0a1.3 1.3 0 1 0 -2.6 0zM114.5 314.86a1.3 1.3 0 1 0 2.6 0a1.3 1.3 0 1 0 -2.6 0zM116.19 312.26a1.3 1.3 0 1 0 2.6 0a1.3 1.3 0 1 0 -2.6 0zM117.89 312.51a1.3 1.3 0 1 0 2.6 0a1.3 1.3 0 1 0 -2.6 0zM119.58 313.53a1.3 1.3 0 1 0 2.6 0a1.3 1.3 0 1 0 -2.6 0zM121.27 314.83a1.3 1.3 0 1 0 2.6 0a1.3 1.3 0 1 0 -2.6 0zM122.97 311.5a1.3 1.3 0 1 0 2.6 0a1.3 1.3 0 1 0 -2.6 0zM124.66 314.37a1.3 1.3 0 1 0 2.6 0a1.3 1.3 0 1 0 -2.6 0zM126.35 312.16a1.3 1.3 0 1 0 2.6 0a1.3 1.3 0 1 0 -2.6 0zM128.05 314.72a1.3 1.3 0 1 0 2.6 0a1.3 1.3 0 1 0 -2.6 0zM129.74 314.76a1.3 1.3 0 1 0 2.6 0a1.3 1.3 0 1 0 -2.6 0zM131.43 312.41a1.3 1.3 0 1 0 2.6 0a1.3 1.3 0 1 0 -2.6 0zM133.13 314.44a1.3 1.3 0 1 0 2.6 0a1.3 1.3 0 1 0 -2.6 0zM134.82 311.58a1.3 1.3 0 1 0 2.6 0a1.3 1.3 0 1 0 -2.6 0zM136.52 313.57a1.3 1.3 0 1 0 2.6 0a1.3 1.3 0 1 0 -2.6 0zM138.21 314.91a1.3 1.3 0 1 0 2.6 0a1.3 1.3 0 1 0 -2.6 0zM139.9 314.75a1.3 1.3 0 1 0 2.6 0a1.3 1.3 0 1 0 -2.6 0zM141.6 313.91a1.3 1.3 0 1 0 2.6 0a1.3 1.3 0 1 0 -2.6 0zM143.29 312.83a1.3 1.3 0 1 0 2.6 0a1.3 1.3 0 1 0 -2.6 0zM144.98 311.6a1.3 1.3 0 1 0 2.6 0a1.3 1.3 0 1 0 -2.6 0zM146.68 315.09a1.3 1.3 0 1 0 2.6 0a1.3 1.3 0 1 0 -2.6 0zM148.37 314.01a1.3 1.3 0 1 0 2.6 0a1.3 1.3 0 1 0 -2.6 0zM150.06 314.8a1.3 1.3 0 1 0 2.6 0a1.3 1.3 0 1 0 -2.6 0zM151.76 311.49a1.3 1.3 0 1 0 2.6 0a1.3 1.3 0 1 0 -2.6 0zM153.45 315.11a1.3 1.3 0 1 0 2.6 0a1.3 1.3 0 1 0 -2.6 0zM155.14 315.5a1.3 1.3 0 1 0 2.6 0a1.3 1.3 0 1 0 -2.6 0zM156.84 315.46a1.3 1.3 0 1 0 2.6 0a1.3 1.3 0 1 0 -2.6 0zM158.53 314.01a1.3 1.3 0 1 0 2.6 0a1.3 1.3 0 1 0 -2.6 0zM160.22 311.82a1.3 1.3 0 1 0 2.6 0a1.3 1.3 0 1 0 -2.6 0zM161.92 311.88a1.3 1.3 0 1 0 2.6 0a1.3 1.3 0 1 0 -2.6 0zM163.61 312.54a1.3 1.3 0 1 0 2.6 0a1.3 1.3 0 1 0 -2.6 0zM165.3 311.38a1.3 1.3 0 1 0 2.6 0a1.3 1.3 0 1 0 -2.6 0zM167 311.67a1.3 1.3 0 1 0 2.6 0a1.3 1.3 0 1 0 -2.6 0zM168.69 314.29a1.3 1.3 0 1 0 2.6 0a1.3 1.3 0 1 0 -2.6 0zM170.39 314.92a1.3 1.3 0 1 0 2.6 0a1.3 1.3 0 1 0 -2.6 0zM172.08 311.65a1.3 1.3 0 1 0 2.6 0a1.3 1.3 0 1 0 -2.6 0zM173.77 312.48a1.3 1.3 0 1 0 2.6 0a1.3 1.3 0 1 0 -2.6 0zM175.47 315.58a1.3 1.3 0 1 0 2.6 0a1.3 1.3 0 1 0 -2.6 0zM177.16 312.83a1.3 1.3 0 1 0 2.6 0a1.3 1.3 0 1 0 -2.6 0zM178.85 314.08a1.3 1.3 0 1 0 2.6 0a1.3 1.3 0 1 0 -2.6 0zM180.55 314.1a1.3 1.3 0 1 0 2.6 0a1.3 1.3 0 1 0 -2.6 0zM182.24 314.28a1.3 1.3 0 1 0 2.6 0a1.3 1.3 0 1 0 -2.6 0zM183.93 314.99a1.3 1.3 0 1 0 2.6 0a1.3 1.3 0 1 0 -2.6 0zM185.63 315.71a1.3 1.3 0 1 0 2.6 0a1.3 1.3 0 1 0 -2.6 0zM187.32 314.51a1.3 1.3 0 1 0 2.6 0a1.3 1.3 0 1 0 -2.6 0zM189.01 314.19a1.3 1.3 0 1 0 2.6 0a1.3 1.3 0 1 0 -2.6 0zM190.71 311.57a1.3 1.3 0 1 0 2.6 0a1.3 1.3 0 1 0 -2.6 0zM192.4 315.18a1.3 1.3 0 1 0 2.6 0a1.3 1.3 0 1 0 -2.6 0zM194.09 311.53a1.3 1.3 0 1 0 2.6 0a1.3 1.3 0 1 0 -2.6 0zM195.79 314.82a1.3 1.3 0 1 0 2.6 0a1.3 1.3 0 1 0 -2.6 0zM197.48 314.17a1.3 1.3 0 1 0 2.6 0a1.3 1.3 0 1 0 -2.6 0zM199.17 312.15a1.3 1.3 0 1 0 2.6 0a1.3 1.3 0 1 0 -2.6 0zM200.87 312.15a1.3 1.3 0 1 0 2.6 0a1.3 1.3 0 1 0 -2.6 0zM202.56 313.84a1.3 1.3 0 1 0 2.6 0a1.3 1.3 0 1 0 -2.6 0zM204.26 315.51a1.3 1.3 0 1 0 2.6 0a1.3 1.3 0 1 0 -2.6 0zM205.95 313.66a1.3 1.3 0 1 0 2.6 0a1.3 1.3 0 1 0 -2.6 0zM207.64 314.1a1.3 1.3 0 1 0 2.6 0a1.3 1.3 0 1 0 -2.6 0zM209.34 311.72a1.3 1.3 0 1 0 2.6 0a1.3 1.3 0 1 0 -2.6 0zM211.03 314.88a1.3 1.3 0 1 0 2.6 0a1.3 1.3 0 1 0 -2.6 0zM212.72 314.14a1.3 1.3 0 1 0 2.6 0a1.3 1.3 0 1 0 -2.6 0zM214.42 311.82a1.3 1.3 0 1 0 2.6 0a1.3 1.3 0 1 0 -2.6 0zM216.11 315.59a1.3 1.3 0 1 0 2.6 0a1.3 1.3 0 1 0 -2.6 0zM217.8 313.94a1.3 1.3 0 1 0 2.6 0a1.3 1.3 0 1 0 -2.6 0zM219.5 312.19a1.3 1.3 0 1 0 2.6 0a1.3 1.3 0 1 0 -2.6 0zM221.19 312.39a1.3 1.3 0 1 0 2.6 0a1.3 1.3 0 1 0 -2.6 0zM222.88 315.55a1.3 1.3 0 1 0 2.6 0a1.3 1.3 0 1 0 -2.6 0zM224.58 315.57a1.3 1.3 0 1 0 2.6 0a1.3 1.3 0 1 0 -2.6 0zM226.27 315.45a1.3 1.3 0 1 0 2.6 0a1.3 1.3 0 1 0 -2.6 0zM227.96 311.72a1.3 1.3 0 1 0 2.6 0a1.3 1.3 0 1 0 -2.6 0zM229.66 314.6a1.3 1.3 0 1 0 2.6 0a1.3 1.3 0 1 0 -2.6 0zM231.35 312.47a1.3 1.3 0 1 0 2.6 0a1.3 1.3 0 1 0 -2.6 0zM233.04 311.81a1.3 1.3 0 1 0 2.6 0a1.3 1.3 0 1 0 -2.6 0zM234.74 314.25a1.3 1.3 0 1 0 2.6 0a1.3 1.3 0 1 0 -2.6 0zM236.43 314.54a1.3 1.3 0 1 0 2.6 0a1.3 1.3 0 1 0 -2.6 0zM238.13 311.56a1.3 1.3 0 1 0 2.6 0a1.3 1.3 0 1 0 -2.6 0zM239.82 313.04a1.3 1.3 0 1 0 2.6 0a1.3 1.3 0 1 0 -2.6 0zM241.51 314.58a1.3 1.3 0 1 0 2.6 0a1.3 1.3 0 1 0 -2.6 0zM243.21 312.61a1.3 1.3 0 1 0 2.6 0a1.3 1.3 0 1 0 -2.6 0zM244.9 314.35a1.3 1.3 0 1 0 2.6 0a1.3 1.3 0 1 0 -2.6 0zM246.59 314.52a1.3 1.3 0 1 0 2.6 0a1.3 1.3 0 1 0 -2.6 0zM248.29 315.71a1.3 1.3 0 1 0 2.6 0a1.3 1.3 0 1 0 -2.6 0zM249.98 312.44a1.3 1.3 0 1 0 2.6 0a1.3 1.3 0 1 0 -2.6 0zM251.67 311.74a1.3 1.3 0 1 0 2.6 0a1.3 1.3 0 1 0 -2.6 0zM253.37 312.96a1.3 1.3 0 1 0 2.6 0a1.3 1.3 0 1 0 -2.6 0zM255.06 311.62a1.3 1.3 0 1 0 2.6 0a1.3 1.3 0 1 0 -2.6 0zM256.75 315.62a1.3 1.3 0 1 0 2.6 0a1.3 1.3 0 1 0 -2.6 0zM258.45 314.71a1.3 1.3 0 1 0 2.6 0a1.3 1.3 0 1 0 -2.6 0zM260.14 313.66a1.3 1.3 0 1 0 2.6 0a1.3 1.3 0 1 0 -2.6 0zM261.83 311.56a1.3 1.3 0 1 0 2.6 0a1.3 1.3 0 1 0 -2.6 0zM263.53 311.57a1.3 1.3 0 1 0 2.6 0a1.3 1.3 0 1 0 -2.6 0zM265.22 314.04a1.3 1.3 0 1 0 2.6 0a1.3 1.3 0 1 0 -2.6 0zM266.91 314.63a1.3 1.3 0 1 0 2.6 0a1.3 1.3 0 1 0 -2.6 0zM268.61 313.85a1.3 1.3 0 1 0 2.6 0a1.3 1.3 0 1 0 -2.6 0zM270.3 313.58a1.3 1.3 0 1 0 2.6 0a1.3 1.3 0 1 0 -2.6 0zM272 311.69a1.3 1.3 0 1 0 2.6 0a1.3 1.3 0 1 0 -2.6 0zM273.69 314.93a1.3 1.3 0 1 0 2.6 0a1.3 1.3 0 1 0 -2.6 0zM275.38 312.23a1.3 1.3 0 1 0 2.6 0a1.3 1.3 0 1 0 -2.6 0zM277.08 312.51a1.3 1.3 0 1 0 2.6 0a1.3 1.3 0 1 0 -2.6 0zM278.77 312.14a1.3 1.3 0 1 0 2.6 0a1.3 1.3 0 1 0 -2.6 0zM280.46 312.36a1.3 1.3 0 1 0 2.6 0a1.3 1.3 0 1 0 -2.6 0zM282.16 313.08a1.3 1.3 0 1 0 2.6 0a1.3 1.3 0 1 0 -2.6 0zM283.85 314.3a1.3 1.3 0 1 0 2.6 0a1.3 1.3 0 1 0 -2.6 0zM285.54 314.33a1.3 1.3 0 1 0 2.6 0a1.3 1.3 0 1 0 -2.6 0zM287.24 314.15a1.3 1.3 0 1 0 2.6 0a1.3 1.3 0 1 0 -2.6 0zM288.93 312.32a1.3 1.3 0 1 0 2.6 0a1.3 1.3 0 1 0 -2.6 0zM290.62 315.38a1.3 1.3 0 1 0 2.6 0a1.3 1.3 0 1 0 -2.6 0zM292.32 314.86a1.3 1.3 0 1 0 2.6 0a1.3 1.3 0 1 0 -2.6 0zM294.01 312.45a1.3 1.3 0 1 0 2.6 0a1.3 1.3 0 1 0 -2.6 0zM295.7 314.65a1.3 1.3 0 1 0 2.6 0a1.3 1.3 0 1 0 -2.6 0zM297.4 315.44a1.3 1.3 0 1 0 2.6 0a1.3 1.3 0 1 0 -2.6 0zM299.09 315.58a1.3 1.3 0 1 0 2.6 0a1.3 1.3 0 1 0 -2.6 0zM300.78 313.32a1.3 1.3 0 1 0 2.6 0a1.3 1.3 0 1 0 -2.6 0zM302.48 314.31a1.3 1.3 0 1 0 2.6 0a1.3 1.3 0 1 0 -2.6 0zM304.17 311.46a1.3 1.3 0 1 0 2.6 0a1.3 1.3 0 1 0 -2.6 0zM305.87 311.88a1.3 1.3 0 1 0 2.6 0a1.3 1.3 0 1 0 -2.6 0zM307.56 311.43a1.3 1.3 0 1 0 2.6 0a1.3 1.3 0 1 0 -2.6 0zM309.25 314.57a1.3 1.3 0 1 0 2.6 0a1.3 1.3 0 1 0 -2.6 0zM310.95 315.36a1.3 1.3 0 1 0 2.6 0a1.3 1.3 0 1 0 -2.6 0zM312.64 315.3a1.3 1.3 0 1 0 2.6 0a1.3 1.3 0 1 0 -2.6 0zM314.33 313.55a1.3 1.3 0 1 0 2.6 0a1.3 1.3 0 1 0 -2.6 0zM316.03 312.63a1.3 1.3 0 1 0 2.6 0a1.3 1.3 0 1 0 -2.6 0zM317.72 313.78a1.3 1.3 0 1 0 2.6 0a1.3 1.3 0 1 0 -2.6 0zM319.41 314.7a1.3 1.3 0 1 0 2.6 0a1.3 1.3 0 1 0 -2.6 0zM321.11 313.91a1.3 1.3 0 1 0 2.6 0a1.3 1.3 0 1 0 -2.6 0zM322.8 313.02a1.3 1.3 0 1 0 2.6 0a1.3 1.3 0 1 0 -2.6 0zM324.49 312.79a1.3 1.3 0 1 0 2.6 0a1.3 1.3 0 1 0 -2.6 0zM326.19 312.47a1.3 1.3 0 1 0 2.6 0a1.3 1.3 0 1 0 -2.6 0zM327.88 312.04a1.3 1.3 0 1 0 2.6 0a1.3 1.3 0 1 0 -2.6 0zM329.57 312.83a1.3 1.3 0 1 0 2.6 0a1.3 1.3 0 1 0 -2.6 0zM331.27 315.2a1.3 1.3 0 1 0 2.6 0a1.3 1.3 0 1 0 -2.6 0zM332.96 312.06a1.3 1.3 0 1 0 2.6 0a1.3 1.3 0 1 0 -2.6 0zM334.65 314.44a1.3 1.3 0 1 0 2.6 0a1.3 1.3 0 1 0 -2.6 0zM336.35 313.26a1.3 1.3 0 1 0 2.6 0a1.3 1.3 0 1 0 -2.6 0zM338.04 314.1a1.3 1.3 0 1 0 2.6 0a1.3 1.3 0 1 0 -2.6 0zM339.74 312.51a1.3 1.3 0 1 0 2.6 0a1.3 1.3 0 1 0 -2.6 0zM341.43 314.86a1.3 1.3 0 1 0 2.6 0a1.3 1.3 0 1 0 -2.6 0zM343.12 314.65a1.3 1.3 0 1 0 2.6 0a1.3 1.3 0 1 0 -2.6 0zM344.82 314.66a1.3 1.3 0 1 0 2.6 0a1.3 1.3 0 1 0 -2.6 0zM346.51 315.06a1.3 1.3 0 1 0 2.6 0a1.3 1.3 0 1 0 -2.6 0zM348.2 311.88a1.3 1.3 0 1 0 2.6 0a1.3 1.3 0 1 0 -2.6 0zM349.9 313.21a1.3 1.3 0 1 0 2.6 0a1.3 1.3 0 1 0 -2.6 0zM351.59 314.3a1.3 1.3 0 1 0 2.6 0a1.3 1.3 0 1 0 -2.6 0zM353.28 314a1.3 1.3 0 1 0 2.6 0a1.3 1.3 0 1 0 -2.6 0zM354.98 311.41a1.3 1.3 0 1 0 2.6 0a1.3 1.3 0 1 0 -2.6 0zM356.67 313.52a1.3 1.3 0 1 0 2.6 0a1.3 1.3 0 1 0 -2.6 0zM358.36 314.72a1.3 1.3 0 1 0 2.6 0a1.3 1.3 0 1 0 -2.6 0zM360.06 312.21a1.3 1.3 0 1 0 2.6 0a1.3 1.3 0 1 0 -2.6 0zM361.75 312.88a1.3 1.3 0 1 0 2.6 0a1.3 1.3 0 1 0 -2.6 0zM363.44 311.41a1.3 1.3 0 1 0 2.6 0a1.3 1.3 0 1 0 -2.6 0zM365.14 315.28a1.3 1.3 0 1 0 2.6 0a1.3 1.3 0 1 0 -2.6 0zM366.83 313.66a1.3 1.3 0 1 0 2.6 0a1.3 1.3 0 1 0 -2.6 0zM368.52 312.16a1.3 1.3 0 1 0 2.6 0a1.3 1.3 0 1 0 -2.6 0zM370.22 312.07a1.3 1.3 0 1 0 2.6 0a1.3 1.3 0 1 0 -2.6 0zM371.91 311.74a1.3 1.3 0 1 0 2.6 0a1.3 1.3 0 1 0 -2.6 0zM373.61 315.55a1.3 1.3 0 1 0 2.6 0a1.3 1.3 0 1 0 -2.6 0zM375.3 314.45a1.3 1.3 0 1 0 2.6 0a1.3 1.3 0 1 0 -2.6 0zM376.99 315.2a1.3 1.3 0 1 0 2.6 0a1.3 1.3 0 1 0 -2.6 0zM378.69 314.9a1.3 1.3 0 1 0 2.6 0a1.3 1.3 0 1 0 -2.6 0zM380.38 311.49a1.3 1.3 0 1 0 2.6 0a1.3 1.3 0 1 0 -2.6 0zM382.07 313.19a1.3 1.3 0 1 0 2.6 0a1.3 1.3 0 1 0 -2.6 0zM383.77 311.68a1.3 1.3 0 1 0 2.6 0a1.3 1.3 0 1 0 -2.6 0zM385.46 314.1a1.3 1.3 0 1 0 2.6 0a1.3 1.3 0 1 0 -2.6 0zM387.15 311.95a1.3 1.3 0 1 0 2.6 0a1.3 1.3 0 1 0 -2.6 0zM388.85 313.77a1.3 1.3 0 1 0 2.6 0a1.3 1.3 0 1 0 -2.6 0zM390.54 314.59a1.3 1.3 0 1 0 2.6 0a1.3 1.3 0 1 0 -2.6 0zM392.23 312.34a1.3 1.3 0 1 0 2.6 0a1.3 1.3 0 1 0 -2.6 0zM393.93 311.61a1.3 1.3 0 1 0 2.6 0a1.3 1.3 0 1 0 -2.6 0zM395.62 315.26a1.3 1.3 0 1 0 2.6 0a1.3 1.3 0 1 0 -2.6 0zM397.31 313.13a1.3 1.3 0 1 0 2.6 0a1.3 1.3 0 1 0 -2.6 0zM399.01 313.03a1.3 1.3 0 1 0 2.6 0a1.3 1.3 0 1 0 -2.6 0zM400.7 314.78a1.3 1.3 0 1 0 2.6 0a1.3 1.3 0 1 0 -2.6 0zM402.39 314.12a1.3 1.3 0 1 0 2.6 0a1.3 1.3 0 1 0 -2.6 0zM404.09 315.11a1.3 1.3 0 1 0 2.6 0a1.3 1.3 0 1 0 -2.6 0zM405.78 314.84a1.3 1.3 0 1 0 2.6 0a1.3 1.3 0 1 0 -2.6 0zM407.48 314.61a1.3 1.3 0 1 0 2.6 0a1.3 1.3 0 1 0 -2.6 0zM409.17 313.12a1.3 1.3 0 1 0 2.6 0a1.3 1.3 0 1 0 -2.6 0zM410.86 312.89a1.3 1.3 0 1 0 2.6 0a1.3 1.3 0 1 0 -2.6 0zM412.56 314.84a1.3 1.3 0 1 0 2.6 0a1.3 1.3 0 1 0 -2.6 0zM414.25 315.67a1.3 1.3 0 1 0 2.6 0a1.3 1.3 0 1 0 -2.6 0zM415.94 314.3a1.3 1.3 0 1 0 2.6 0a1.3 1.3 0 1 0 -2.6 0zM417.64 312.77a1.3 1.3 0 1 0 2.6 0a1.3 1.3 0 1 0 -2.6 0zM419.33 314.92a1.3 1.3 0 1 0 2.6 0a1.3 1.3 0 1 0 -2.6 0zM421.02 314.36a1.3 1.3 0 1 0 2.6 0a1.3 1.3 0 1 0 -2.6 0zM422.72 314.84a1.3 1.3 0 1 0 2.6 0a1.3 1.3 0 1 0 -2.6 0zM424.41 312.26a1.3 1.3 0 1 0 2.6 0a1.3 1.3 0 1 0 -2.6 0zM426.1 313.34a1.3 1.3 0 1 0 2.6 0a1.3 1.3 0 1 0 -2.6 0zM427.8 315.45a1.3 1.3 0 1 0 2.6 0a1.3 1.3 0 1 0 -2.6 0zM429.49 315.28a1.3 1.3 0 1 0 2.6 0a1.3 1.3 0 1 0 -2.6 0zM431.18 314a1.3 1.3 0 1 0 2.6 0a1.3 1.3 0 1 0 -2.6 0zM432.88 313.33a1.3 1.3 0 1 0 2.6 0a1.3 1.3 0 1 0 -2.6 0zM434.57 312.94a1.3 1.3 0 1 0 2.6 0a1.3 1.3 0 1 0 -2.6 0zM436.26 315.33a1.3 1.3 0 1 0 2.6 0a1.3 1.3 0 1 0 -2.6 0zM437.96 315.01a1.3 1.3 0 1 0 2.6 0a1.3 1.3 0 1 0 -2.6 0zM439.65 312.7a1.3 1.3 0 1 0 2.6 0a1.3 1.3 0 1 0 -2.6 0zM441.35 313.94a1.3 1.3 0 1 0 2.6 0a1.3 1.3 0 1 0 -2.6 0zM443.04 314.49a1.3 1.3 0 1 0 2.6 0a1.3 1.3 0 1 0 -2.6 0zM444.73 314.38a1.3 1.3 0 1 0 2.6 0a1.3 1.3 0 1 0 -2.6 0zM446.43 311.58a1.3 1.3 0 1 0 2.6 0a1.3 1.3 0 1 0 -2.6 0zM448.12 314.36a1.3 1.3 0 1 0 2.6 0a1.3 1.3 0 1 0 -2.6 0zM449.81 313.26a1.3 1.3 0 1 0 2.6 0a1.3 1.3 0 1 0 -2.6 0zM451.51 314.17a1.3 1.3 0 1 0 2.6 0a1.3 1.3 0 1 0 -2.6 0zM453.2 313.91a1.3 1.3 0 1 0 2.6 0a1.3 1.3 0 1 0 -2.6 0zM454.89 311.96a1.3 1.3 0 1 0 2.6 0a1.3 1.3 0 1 0 -2.6 0zM456.59 311.39a1.3 1.3 0 1 0 2.6 0a1.3 1.3 0 1 0 -2.6 0zM458.28 314.14a1.3 1.3 0 1 0 2.6 0a1.3 1.3 0 1 0 -2.6 0zM459.97 314.86a1.3 1.3 0 1 0 2.6 0a1.3 1.3 0 1 0 -2.6 0zM461.67 312.56a1.3 1.3 0 1 0 2.6 0a1.3 1.3 0 1 0 -2.6 0zM463.36 314.84a1.3 1.3 0 1 0 2.6 0a1.3 1.3 0 1 0 -2.6 0zM465.05 315.7a1.3 1.3 0 1 0 2.6 0a1.3 1.3 0 1 0 -2.6 0zM466.75 311.8a1.3 1.3 0 1 0 2.6 0a1.3 1.3 0 1 0 -2.6 0zM468.44 313.88a1.3 1.3 0 1 0 2.6 0a1.3 1.3 0 1 0 -2.6 0zM470.13 312.15a1.3 1.3 0 1 0 2.6 0a1.3 1.3 0 1 0 -2.6 0zM471.83 313.96a1.3 1.3 0 1 0 2.6 0a1.3 1.3 0 1 0 -2.6 0zM473.52 311.88a1.3 1.3 0 1 0 2.6 0a1.3 1.3 0 1 0 -2.6 0zM475.22 313.72a1.3 1.3 0 1 0 2.6 0a1.3 1.3 0 1 0 -2.6 0zM476.91 315.02a1.3 1.3 0 1 0 2.6 0a1.3 1.3 0 1 0 -2.6 0zM478.6 315.66a1.3 1.3 0 1 0 2.6 0a1.3 1.3 0 1 0 -2.6 0zM480.3 313.32a1.3 1.3 0 1 0 2.6 0a1.3 1.3 0 1 0 -2.6 0zM481.99 312.94a1.3 1.3 0 1 0 2.6 0a1.3 1.3 0 1 0 -2.6 0zM483.68 311.76a1.3 1.3 0 1 0 2.6 0a1.3 1.3 0 1 0 -2.6 0zM485.38 315.34a1.3 1.3 0 1 0 2.6 0a1.3 1.3 0 1 0 -2.6 0zM487.07 313.02a1.3 1.3 0 1 0 2.6 0a1.3 1.3 0 1 0 -2.6 0zM488.76 314.11a1.3 1.3 0 1 0 2.6 0a1.3 1.3 0 1 0 -2.6 0zM490.46 313.53a1.3 1.3 0 1 0 2.6 0a1.3 1.3 0 1 0 -2.6 0zM492.15 315.09a1.3 1.3 0 1 0 2.6 0a1.3 1.3 0 1 0 -2.6 0zM493.84 314.49a1.3 1.3 0 1 0 2.6 0a1.3 1.3 0 1 0 -2.6 0zM495.54 313.46a1.3 1.3 0 1 0 2.6 0a1.3 1.3 0 1 0 -2.6 0zM497.23 311.7a1.3 1.3 0 1 0 2.6 0a1.3 1.3 0 1 0 -2.6 0zM498.92 315.25a1.3 1.3 0 1 0 2.6 0a1.3 1.3 0 1 0 -2.6 0zM500.62 313.59a1.3 1.3 0 1 0 2.6 0a1.3 1.3 0 1 0 -2.6 0zM502.31 312.22a1.3 1.3 0 1 0 2.6 0a1.3 1.3 0 1 0 -2.6 0zM504 311.52a1.3 1.3 0 1 0 2.6 0a1.3 1.3 0 1 0 -2.6 0zM505.7 314.86a1.3 1.3 0 1 0 2.6 0a1.3 1.3 0 1 0 -2.6 0zM507.39 315.17a1.3 1.3 0 1 0 2.6 0a1.3 1.3 0 1 0 -2.6 0zM509.09 311.62a1.3 1.3 0 1 0 2.6 0a1.3 1.3 0 1 0 -2.6 0zM510.78 311.48a1.3 1.3 0 1 0 2.6 0a1.3 1.3 0 1 0 -2.6 0zM512.47 313.62a1.3 1.3 0 1 0 2.6 0a1.3 1.3 0 1 0 -2.6 0zM514.17 315.49a1.3 1.3 0 1 0 2.6 0a1.3 1.3 0 1 0 -2.6 0zM515.86 311.69a1.3 1.3 0 1 0 2.6 0a1.3 1.3 0 1 0 -2.6 0zM517.55 314.04a1.3 1.3 0 1 0 2.6 0a1.3 1.3 0 1 0 -2.6 0zM519.25 311.79a1.3 1.3 0 1 0 2.6 0a1.3 1.3 0 1 0 -2.6 0zM520.94 313.02a1.3 1.3 0 1 0 2.6 0a1.3 1.3 0 1 0 -2.6 0zM522.63 312.14a1.3 1.3 0 1 0 2.6 0a1.3 1.3 0 1 0 -2.6 0zM524.33 315.03a1.3 1.3 0 1 0 2.6 0a1.3 1.3 0 1 0 -2.6 0zM526.02 312.3a1.3 1.3 0 1 0 2.6 0a1.3 1.3 0 1 0 -2.6 0zM527.71 314.76a1.3 1.3 0 1 0 2.6 0a1.3 1.3 0 1 0 -2.6 0zM529.41 313.96a1.3 1.3 0 1 0 2.6 0a1.3 1.3 0 1 0 -2.6 0zM531.1 312.04a1.3 1.3 0 1 0 2.6 0a1.3 1.3 0 1 0 -2.6 0zM532.79 312.12a1.3 1.3 0 1 0 2.6 0a1.3 1.3 0 1 0 -2.6 0zM534.49 314.93a1.3 1.3 0 1 0 2.6 0a1.3 1.3 0 1 0 -2.6 0zM536.18 314.77a1.3 1.3 0 1 0 2.6 0a1.3 1.3 0 1 0 -2.6 0zM537.87 313.98a1.3 1.3 0 1 0 2.6 0a1.3 1.3 0 1 0 -2.6 0zM539.57 313.47a1.3 1.3 0 1 0 2.6 0a1.3 1.3 0 1 0 -2.6 0zM541.26 314.05a1.3 1.3 0 1 0 2.6 0a1.3 1.3 0 1 0 -2.6 0zM542.96 315.19a1.3 1.3 0 1 0 2.6 0a1.3 1.3 0 1 0 -2.6 0zM544.65 314.65a1.3 1.3 0 1 0 2.6 0a1.3 1.3 0 1 0 -2.6 0zM546.34 312.57a1.3 1.3 0 1 0 2.6 0a1.3 1.3 0 1 0 -2.6 0zM548.04 311.82a1.3 1.3 0 1 0 2.6 0a1.3 1.3 0 1 0 -2.6 0zM549.73 315.54a1.3 1.3 0 1 0 2.6 0a1.3 1.3 0 1 0 -2.6 0zM551.42 313.28a1.3 1.3 0 1 0 2.6 0a1.3 1.3 0 1 0 -2.6 0zM553.12 312.43a1.3 1.3 0 1 0 2.6 0a1.3 1.3 0 1 0 -2.6 0zM554.81 315.56a1.3 1.3 0 1 0 2.6 0a1.3 1.3 0 1 0 -2.6 0zM556.5 312.08a1.3 1.3 0 1 0 2.6 0a1.3 1.3 0 1 0 -2.6 0zM558.2 315.21a1.3 1.3 0 1 0 2.6 0a1.3 1.3 0 1 0 -2.6 0zM559.89 313.11a1.3 1.3 0 1 0 2.6 0a1.3 1.3 0 1 0 -2.6 0zM561.58 313.33a1.3 1.3 0 1 0 2.6 0a1.3 1.3 0 1 0 -2.6 0zM563.28 312.99a1.3 1.3 0 1 0 2.6 0a1.3 1.3 0 1 0 -2.6 0zM564.97 314.39a1.3 1.3 0 1 0 2.6 0a1.3 1.3 0 1 0 -2.6 0zM566.66 313.9a1.3 1.3 0 1 0 2.6 0a1.3 1.3 0 1 0 -2.6 0zM568.36 313.19a1.3 1.3 0 1 0 2.6 0a1.3 1.3 0 1 0 -2.6 0zM570.05 313.87a1.3 1.3 0 1 0 2.6 0a1.3 1.3 0 1 0 -2.6 0zM571.74 312.86a1.3 1.3 0 1 0 2.6 0a1.3 1.3 0 1 0 -2.6 0zM573.44 313.78a1.3 1.3 0 1 0 2.6 0a1.3 1.3 0 1 0 -2.6 0zM575.13 313.82a1.3 1.3 0 1 0 2.6 0a1.3 1.3 0 1 0 -2.6 0zM576.83 315.62a1.3 1.3 0 1 0 2.6 0a1.3 1.3 0 1 0 -2.6 0zM578.52 313.03a1.3 1.3 0 1 0 2.6 0a1.3 1.3 0 1 0 -2.6 0zM580.21 313.59a1.3 1.3 0 1 0 2.6 0a1.3 1.3 0 1 0 -2.6 0zM581.91 314.7a1.3 1.3 0 1 0 2.6 0a1.3 1.3 0 1 0 -2.6 0zM583.6 312.4a1.3 1.3 0 1 0 2.6 0a1.3 1.3 0 1 0 -2.6 0zM585.29 312.33a1.3 1.3 0 1 0 2.6 0a1.3 1.3 0 1 0 -2.6 0zM586.99 313.73a1.3 1.3 0 1 0 2.6 0a1.3 1.3 0 1 0 -2.6 0zM588.68 314.94a1.3 1.3 0 1 0 2.6 0a1.3 1.3 0 1 0 -2.6 0zM590.37 313.66a1.3 1.3 0 1 0 2.6 0a1.3 1.3 0 1 0 -2.6 0zM592.07 315.26a1.3 1.3 0 1 0 2.6 0a1.3 1.3 0 1 0 -2.6 0zM593.76 315.16a1.3 1.3 0 1 0 2.6 0a1.3 1.3 0 1 0 -2.6 0zM595.45 313.85a1.3 1.3 0 1 0 2.6 0a1.3 1.3 0 1 0 -2.6 0zM597.15 315.32a1.3 1.3 0 1 0 2.6 0a1.3 1.3 0 1 0 -2.6 0zM598.84 313.8a1.3 1.3 0 1 0 2.6 0a1.3 1.3 0 1 0 -2.6 0zM600.53 313.5a1.3 1.3 0 1 0 2.6 0a1.3 1.3 0 1 0 -2.6 0zM602.23 315.55a1.3 1.3 0 1 0 2.6 0a1.3 1.3 0 1 0 -2.6 0zM603.92 312.95a1.3 1.3 0 1 0 2.6 0a1.3 1.3 0 1 0 -2.6 0zM605.61 315.36a1.3 1.3 0 1 0 2.6 0a1.3 1.3 0 1 0 -2.6 0zM607.31 312.53a1.3 1.3 0 1 0 2.6 0a1.3 1.3 0 1 0 -2.6 0zM609 312.34a1.3 1.3 0 1 0 2.6 0a1.3 1.3 0 1 0 -2.6 0zM610.7 313.5a1.3 1.3 0 1 0 2.6 0a1.3 1.3 0 1 0 -2.6 0zM612.39 315.49a1.3 1.3 0 1 0 2.6 0a1.3 1.3 0 1 0 -2.6 0zM614.08 313.53a1.3 1.3 0 1 0 2.6 0a1.3 1.3 0 1 0 -2.6 0zM615.78 314.08a1.3 1.3 0 1 0 2.6 0a1.3 1.3 0 1 0 -2.6 0zM617.47 311.59a1.3 1.3 0 1 0 2.6 0a1.3 1.3 0 1 0 -2.6 0zM619.16 315.13a1.3 1.3 0 1 0 2.6 0a1.3 1.3 0 1 0 -2.6 0z" fill="#1414cc"/>
<path d="M50 289.54a1.45 1.45 0 1 0 2.9 0a1.45 1.45 0 1 0 -2.9 0zM51.69 296.25a1.45 1.45 0 1 0 2.9 0a1.45 1.45 0 1 0 -2.9 0zM53.38 295.5a1.45 1.45 0 1 0 2.9 0a1.45 1.45 0 1 0 -2.9 0zM55.08 295.87a1.45 1.45 0 1 0 2.9 0a1.45 1.45 0 1 0 -2.9 0zM56.77 295.16a1.45 1.45 0 1 0 2.9 0a1.45 1.45 0 1 0 -2.9 0zM58.46 291.4a1.45 1.45 0 1 0 2.9 0a1.45 1.45 0 1 0 -2.9 0zM60.16 290.88a1.45 1.45 0 1 0 2.9 0a1.45 1.45 0 1 0 -2.9 0zM61.85 289.57a1.45 1.45 0 1 0 2.9 0a1.45 1.45 0 1 0 -2.9 0zM63.54 289.21a1.45 1.45 0 1 0 2.9 0a1.45 1.45 0 1 0 -2.9 0zM65.24 288.32a1.45 1.45 0 1 0 2.9 0a1.45 1.45 0 1 0 -2.9 0zM66.93 288.55a1.45 1.45 0 1 0 2.9 0a1.45 1.45 0 1 0 -2.9 0zM68.63 288.37a1.45 1.45 0 1 0 2.9 0a1.45 1.45 0 1 0 -2.9 0zM70.32 287.87a1.45 1.45 0 1 0 2.9 0a1.45 1.45 0 1 0 -2.9 0zM72.01 287.3a1.45 1.45 0 1 0 2.9 0a1.45 1.45 0 1 0 -2.9 0zM73.71 287.7a1.45 1.45 0 1 0 2.9 0a1.45 1.45 0 1 0 -2.9 0zM75.4 286.76a1.45 1.45 0 1 0 2.9 0a1.45 1.45 0 1 0 -2.9 0zM77.09 285.69a1.45 1.45 0 1 0 2.9 0a1.45 1.45 0 1 0 -2.9 0zM78.79 285.41a1.45 1.45 0 1 0 2.9 0a1.45 1.45 0 1 0 -2.9 0zM80.48 285.85a1.45 1.45 0 1 0 2.9 0a1.45 1.45 0 1 0 -2.9 0zM82.17 286.09a1.45 1.45 0 1 0 2.9 0a1.45 1.45 0 1 0 -2.9 0zM83.87 285.56a1.45 1.45 0 1 0 2.9 0a1.45 1.45 0 1 0 -2.9 0zM85.56 287.87a1.45 1.45 0 1 0 2.9 0a1.45 1.45 0 1 0 -2.9 0zM87.25 288.37a1.45 1.45 0 1 0 2.9 0a1.45 1.45 0 1 0 -2.9 0zM88.95 289.78a1.45 1.45 0 1 0 2.9 0a1.45 1.45 0 1 0 -2.9 0zM90.64 290.68a1.45 1.45 0 1 0 2.9 0a1.45 1.45 0 1 0 -2.9 0zM92.33 291.22a1.45 1.45 0 1 0 2.9 0a1.45 1.45 0 1 0 -2.9 0zM94.03 290.92a1.45 1.45 0 1 0 2.9 0a1.45 1.45 0 1 0 -2.9 0zM95.72 290.3a1.45 1.45 0 1 0 2.9 0a1.45 1.45 0 1 0 -2.9 0zM97.41 290.86a1.45 1.45 0 1 0 2.9 0a1.45 1.45 0 1 0 -2.9 0zM99.11 290.35a1.45 1.45 0 1 0 2.9 0a1.45 1.45 0 1 0 -2.9 0zM100.8 290.24a1.45 1.45 0 1 0 2.9 0a1.45 1.45 0 1 0 -2.9 0zM102.5 290.52a1.45 1.45 0 1 0 2.9 0a1.45 1.45 0 1 0 -2.9 0zM104.19 290.12a1.45 1.45 0 1 0 2.9 0a1.45 1.45 0 1 0 -2.9 0zM105.88 290.06a1.45 1.45 0 1 0 2.9 0a1.45 1.45 0 1 0 -2.9 0zM107.58 289.49a1.45 1.45 0 1 0 2.9 0a1.45 1.45 0 1 0 -2.9 0zM109.27 289.31a1.45 1.45 0 1 0 2.9 0a1.45 1.45 0 1 0 -2.9 0zM110.96 288.95a1.45 1.45 0 1 0 2.9 0a1.45 1.45 0 1 0 -2.9 0zM112.66 289.34a1.45 1.45 0 1 0 2.9 0a1.45 1.45 0 1 0 -2.9 0zM114.35 289.59a1.45 1.45 0 1 0 2.9 0a1.45 1.45 0 1 0 -2.9 0zM116.04 289.44a1.45 1.45 0 1 0 2.9 0a1.45 1.45 0 1 0 -2.9 0zM117.74 289.67a1.45 1.45 0 1 0 2.9 0a1.45 1.45 0 1 0 -2.9 0zM119.43 289.91a1.45 1.45 0 1 0 2.9 0a1.45 1.45 0 1 0 -2.9 0zM121.12 289.46a1.45 1.45 0 1 0 2.9 0a1.45 1.45 0 1 0 -2.9 0zM122.82 289.64a1.45 1.45 0 1 0 2.9 0a1.45 1.45 0 1 0 -2.9 0zM124.51 290.18a1.45 1.45 0 1 0 2.9 0a1.45 1.45 0 1 0 -2.9 0zM126.2 289.91a1.45 1.45 0 1 0 2.9 0a1.45 1.45 0 1 0 -2.9 0zM127.9 290.03a1.45 1.45 0 1 0 2.9 0a1.45 1.45 0 1 0 -2.9 0zM129.59 289.74a1.45 1.45 0 1 0 2.9 0a1.45 1.45 0 1 0 -2.9 0zM131.28 290.34a1.45 1.45 0 1 0 2.9 0a1.45 1.45 0 1 0 -2.9 0zM132.98 291.49a1.45 1.45 0 1 0 2.9 0a1.45 1.45 0 1 0 -2.9 0zM134.67 286.69a1.45 1.45 0 1 0 2.9 0a1.45 1.45 0 1 0 -2.9 0zM136.37 288.13a1.45 1.45 0 1 0 2.9 0a1.45 1.45 0 1 0 -2.9 0zM138.06 288.35a1.45 1.45 0 1 0 2.9 0a1.45 1.45 0 1 0 -2.9 0zM139.75 290.29a1.45 1.45 0 1 0 2.9 0a1.45 1.45 0 1 0 -2.9 0zM141.45 291.45a1.45 1.45 0 1 0 2.9 0a1.45 1.45 0 1 0 -2.9 0zM143.14 291.37a1.45 1.45 0 1 0 2.9 0a1.45 1.45 0 1 0 -2.9 0zM144.83 291.69a1.45 1.45 0 1 0 2.9 0a1.45 1.45 0 1 0 -2.9 0zM146.53 290.75a1.45 1.45 0 1 0 2.9 0a1.45 1.45 0 1 0 -2.9 0zM148.22 290.37a1.45 1.45 0 1 0 2.9 0a1.45 1.45 0 1 0 -2.9 0zM149.91 290.41a1.45 1.45 0 1 0 2.9 0a1.45 1.45 0 1 0 -2.9 0zM151.61 291.06a1.45 1.45 0 1 0 2.9 0a1.45 1.45 0 1 0 -2.9 0zM153.3 292.62a1.45 1.45 0 1 0 2.9 0a1.45 1.45 0 1 0 -2.9 0zM154.99 293.19a1.45 1.45 0 1 0 2.9 0a1.45 1.45 0 1 0 -2.9 0zM156.69 292.48a1.45 1.45 0 1 0 2.9 0a1.45 1.45 0 1 0 -2.9 0zM158.38 291.49a1.45 1.45 0 1 0 2.9 0a1.45 1.45 0 1 0 -2.9 0zM160.07 290.27a1.45 1.45 0 1 0 2.9 0a1.45 1.45 0 1 0 -2.9 0zM161.77 288.44a1.45 1.45 0 1 0 2.9 0a1.45 1.45 0 1 0 -2.9 0zM163.46 286.91a1.45 1.45 0 1 0 2.9 0a1.45 1.45 0 1 0 -2.9 0zM165.15 287.33a1.45 1.45 0 1 0 2.9 0a1.45 1.45 0 1 0 -2.9 0zM166.85 287.26a1.45 1.45 0 1 0 2.9 0a1.45 1.45 0 1 0 -2.9 0zM168.54 288.64a1.45 1.45 0 1 0 2.9 0a1.45 1.45 0 1 0 -2.9 0zM170.24 288.74a1.45 1.45 0 1 0 2.9 0a1.45 1.45 0 1 0 -2.9 0zM171.93 289.68a1.45 1.45 0 1 0 2.9 0a1.45 1.45 0 1 0 -2.9 0zM173.62 290.21a1.45 1.45 0 1 0 2.9 0a1.45 1.45 0 1 0 -2.9 0zM175.32 291.03a1.45 1.45 0 1 0 2.9 0a1.45 1.45 0 1 0 -2.9 0zM177.01 291.35a1.45 1.45 0 1 0 2.9 0a1.45 1.45 0 1 0 -2.9 0zM178.7 291a1.45 1.45 0 1 0 2.9 0a1.45 1.45 0 1 0 -2.9 0zM180.4 290.46a1.45 1.45 0 1 0 2.9 0a1.45 1.45 0 1 0 -2.9 0zM182.09 290.89a1.45 1.45 0 1 0 2.9 0a1.45 1.45 0 1 0 -2.9 0zM183.78 290.18a1.45 1.45 0 1 0 2.9 0a1.45 1.45 0 1 0 -2.9 0zM185.48 290.26a1.45 1.45 0 1 0 2.9 0a1.45 1.45 0 1 0 -2.9 0zM187.17 290.21a1.45 1.45 0 1 0 2.9 0a1.45 1.45 0 1 0 -2.9 0zM188.86 290.16a1.45 1.45 0 1 0 2.9 0a1.45 1.45 0 1 0 -2.9 0zM190.56 289.31a1.45 1.45 0 1 0 2.9 0a1.45 1.45 0 1 0 -2.9 0zM192.25 289.87a1.45 1.45 0 1 0 2.9 0a1.45 1.45 0 1 0 -2.9 0zM193.94 289.64a1.45 1.45 0 1 0 2.9 0a1.45 1.45 0 1 0 -2.9 0zM195.64 286.67a1.45 1.45 0 1 0 2.9 0a1.45 1.45 0 1 0 -2.9 0zM197.33 286.05a1.45 1.45 0 1 0 2.9 0a1.45 1.45 0 1 0 -2.9 0zM199.02 287.2a1.45 1.45 0 1 0 2.9 0a1.45 1.45 0 1 0 -2.9 0zM200.72 288.08a1.45 1.45 0 1 0 2.9 0a1.45 1.45 0 1 0 -2.9 0zM202.41 289.29a1.45 1.45 0 1 0 2.9 0a1.45 1.45 0 1 0 -2.9 0zM204.11 288.8a1.45 1.45 0 1 0 2.9 0a1.45 1.45 0 1 0 -2.9 0zM205.8 288.72a1.45 1.45 0 1 0 2.9 0a1.45 1.45 0 1 0 -2.9 0zM207.49 288.54a1.45 1.45 0 1 0 2.9 0a1.45 1.45 0 1 0 -2.9 0zM209.19 289.01a1.45 1.45 0 1 0 2.9 0a1.45 1.45 0 1 0 -2.9 0zM210.88 288.73a1.45 1.45 0 1 0 2.9 0a1.45 1.45 0 1 0 -2.9 0zM212.57 288.66a1.45 1.45 0 1 0 2.9 0a1.45 1.45 0 1 0 -2.9 0zM214.27 287.99a1.45 1.45 0 1 0 2.9 0a1.45 1.45 0 1 0 -2.9 0zM215.96 287.8a1.45 1.45 0 1 0 2.9 0a1.45 1.45 0 1 0 -2.9 0zM217.65 288.53a1.45 1.45 0 1 0 2.9 0a1.45 1.45 0 1 0 -2.9 0zM219.35 288.27a1.45 1.45 0 1 0 2.9 0a1.45 1.45 0 1 0 -2.9 0zM221.04 286.85a1.45 1.45 0 1 0 2.9 0a1.45 1.45 0 1 0 -2.9 0zM222.73 285.5a1.45 1.45 0 1 0 2.9 0a1.45 1.45 0 1 0 -2.9 0zM224.43 286.02a1.45 1.45 0 1 0 2.9 0a1.45 1.45 0 1 0 -2.9 0zM226.12 286.86a1.45 1.45 0 1 0 2.9 0a1.45 1.45 0 1 0 -2.9 0zM227.81 288.11a1.45 1.45 0 1 0 2.9 0a1.45 1.45 0 1 0 -2.9 0zM229.51 288.26a1.45 1.45 0 1 0 2.9 0a1.45 1.45 0 1 0 -2.9 0zM231.2 287.71a1.45 1.45 0 1 0 2.9 0a1.45 1.45 0 1 0 -2.9 0zM232.89 287.64a1.45 1.45 0 1 0 2.9 0a1.45 1.45 0 1 0 -2.9 0zM234.59 287.31a1.45 1.45 0 1 0 2.9 0a1.45 1.45 0 1 0 -2.9 0zM236.28 286.83a1.45 1.45 0 1 0 2.9 0a1.45 1.45 0 1 0 -2.9 0zM237.98 287.1a1.45 1.45 0 1 0 2.9 0a1.45 1.45 0 1 0 -2.9 0zM239.67 287.28a1.45 1.45 0 1 0 2.9 0a1.45 1.45 0 1 0 -2.9 0zM241.36 287.18a1.45 1.45 0 1 0 2.9 0a1.45 1.45 0 1 0 -2.9 0zM243.06 287.11a1.45 1.45 0 1 0 2.9 0a1.45 1.45 0 1 0 -2.9 0zM244.75 287.76a1.45 1.45 0 1 0 2.9 0a1.45 1.45 0 1 0 -2.9 0zM246.44 286.88a1.45 1.45 0 1 0 2.9 0a1.45 1.45 0 1 0 -2.9 0zM248.14 287.01a1.45 1.45 0 1 0 2.9 0a1.45 1.45 0 1 0 -2.9 0zM249.83 286.68a1.45 1.45 0 1 0 2.9 0a1.45 1.45 0 1 0 -2.9 0zM251.52 286.19a1.45 1.45 0 1 0 2.9 0a1.45 1.45 0 1 0 -2.9 0zM253.22 286.04a1.45 1.45 0 1 0 2.9 0a1.45 1.45 0 1 0 -2.9 0zM254.91 285.92a1.45 1.45 0 1 0 2.9 0a1.45 1.45 0 1 0 -2.9 0zM256.6 286.22a1.45 1.45 0 1 0 2.9 0a1.45 1.45 0 1 0 -2.9 0zM258.3 285.67a1.45 1.45 0 1 0 2.9 0a1.45 1.45 0 1 0 -2.9 0zM259.99 286.27a1.45 1.45 0 1 0 2.9 0a1.45 1.45 0 1 0 -2.9 0zM261.68 286.26a1.45 1.45 0 1 0 2.9 0a1.45 1.45 0 1 0 -2.9 0zM263.38 286.11a1.45 1.45 0 1 0 2.9 0a1.45 1.45 0 1 0 -2.9 0zM265.07 286.16a1.45 1.45 0 1 0 2.9 0a1.45 1.45 0 1 0 -2.9 0zM266.76 285.98a1.45 1.45 0 1 0 2.9 0a1.45 1.45 0 1 0 -2.9 0zM268.46 286.36a1.45 1.45 0 1 0 2.9 0a1.45 1.45 0 1 0 -2.9 0zM270.15 286.5a1.45 1.45 0 1 0 2.9 0a1.45 1.45 0 1 0 -2.9 0zM271.85 286.43a1.45 1.45 0 1 0 2.9 0a1.45 1.45 0 1 0 -2.9 0zM273.54 286.57a1.45 1.45 0 1 0 2.9 0a1.45 1.45 0 1 0 -2.9 0zM275.23 286.35a1.45 1.45 0 1 0 2.9 0a1.45 1.45 0 1 0 -2.9 0zM276.93 286.75a1.45 1.45 0 1 0 2.9 0a1.45 1.45 0 1 0 -2.9 0zM278.62 285.56a1.45 1.45 0 1 0 2.9 0a1.45 1.45 0 1 0 -2.9 0zM280.31 285.37a1.45 1.45 0 1 0 2.9 0a1.45 1.45 0 1 0 -2.9 0zM282.01 285.4a1.45 1.45 0 1 0 2.9 0a1.45 1.45 0 1 0 -2.9 0zM283.7 284.83a1.45 1.45 0 1 0 2.9 0a1.45 1.45 0 1 0 -2.9 0zM285.39 284.27a1.45 1.45 0 1 0 2.9 0a1.45 1.45 0 1 0 -2.9 0zM287.09 285.73a1.45 1.45 0 1 0 2.9 0a1.45 1.45 0 1 0 -2.9 0zM288.78 287.54a1.45 1.45 0 1 0 2.9 0a1.45 1.45 0 1 0 -2.9 0zM290.47 286.63a1.45 1.45 0 1 0 2.9 0a1.45 1.45 0 1 0 -2.9 0zM292.17 286.15a1.45 1.45 0 1 0 2.9 0a1.45 1.45 0 1 0 -2.9 0zM293.86 286.36a1.45 1.45 0 1 0 2.9 0a1.45 1.45 0 1 0 -2.9 0zM295.55 286a1.45 1.45 0 1 0 2.9 0a1.45 1.45 0 1 0 -2.9 0zM297.25 286.08a1.45 1.45 0 1 0 2.9 0a1.45 1.45 0 1 0 -2.9 0zM298.94 286.14a1.45 1.45 0 1 0 2.9 0a1.45 1.45 0 1 0 -2.9 0zM300.63 289.05a1.45 1.45 0 1 0 2.9 0a1.45 1.45 0 1 0 -2.9 0zM302.33 288.85a1.45 1.45 0 1 0 2.9 0a1.45 1.45 0 1 0 -2.9 0zM304.02 287.98a1.45 1.45 0 1 0 2.9 0a1.45 1.45 0 1 0 -2.9 0zM305.72 288.4a1.45 1.45 0 1 0 2.9 0a1.45 1.45 0 1 0 -2.9 0zM307.41 288.86a1.45 1.45 0 1 0 2.9 0a1.45 1.45 0 1 0 -2.9 0zM309.1 289.15a1.45 1.45 0 1 0 2.9 0a1.45 1.45 0 1 0 -2.9 0zM310.8 290.84a1.45 1.45 0 1 0 2.9 0a1.45 1.45 0 1 0 -2.9 0zM312.49 292.18a1.45 1.45 0 1 0 2.9 0a1.45 1.45 0 1 0 -2.9 0zM314.18 291.41a1.45 1.45 0 1 0 2.9 0a1.45 1.45 0 1 0 -2.9 0zM315.88 291.59a1.45 1.45 0 1 0 2.9 0a1.45 1.45 0 1 0 -2.9 0zM317.57 290.71a1.45 1.45 0 1 0 2.9 0a1.45 1.45 0 1 0 -2.9 0zM319.26 289.9a1.45 1.45 0 1 0 2.9 0a1.45 1.45 0 1 0 -2.9 0zM320.96 291.66a1.45 1.45 0 1 0 2.9 0a1.45 1.45 0 1 0 -2.9 0zM322.65 292.7a1.45 1.45 0 1 0 2.9 0a1.45 1.45 0 1 0 -2.9 0zM324.34 293.16a1.45 1.45 0 1 0 2.9 0a1.45 1.45 0 1 0 -2.9 0zM326.04 293.52a1.45 1.45 0 1 0 2.9 0a1.45 1.45 0 1 0 -2.9 0zM327.73 295.11a1.45 1.45 0 1 0 2.9 0a1.45 1.45 0 1 0 -2.9 0zM329.42 295.38a1.45 1.45 0 1 0 2.9 0a1.45 1.45 0 1 0 -2.9 0zM331.12 295.5a1.45 1.45 0 1 0 2.9 0a1.45 1.45 0 1 0 -2.9 0zM332.81 293.58a1.45 1.45 0 1 0 2.9 0a1.45 1.45 0 1 0 -2.9 0zM334.5 292.7a1.45 1.45 0 1 0 2.9 0a1.45 1.45 0 1 0 -2.9 0zM336.2 293.31a1.45 1.45 0 1 0 2.9 0a1.45 1.45 0 1 0 -2.9 0zM337.89 292.71a1.45 1.45 0 1 0 2.9 0a1.45 1.45 0 1 0 -2.9 0zM339.59 287.38a1.45 1.45 0 1 0 2.9 0a1.45 1.45 0 1 0 -2.9 0zM341.28 288.49a1.45 1.45 0 1 0 2.9 0a1.45 1.45 0 1 0 -2.9 0zM342.97 289.51a1.45 1.45 0 1 0 2.9 0a1.45 1.45 0 1 0 -2.9 0zM344.67 290.13a1.45 1.45 0 1 0 2.9 0a1.45 1.45 0 1 0 -2.9 0zM346.36 290.37a1.45 1.45 0 1 0 2.9 0a1.45 1.45 0 1 0 -2.9 0zM348.05 291.08a1.45 1.45 0 1 0 2.9 0a1.45 1.45 0 1 0 -2.9 0zM349.75 290.94a1.45 1.45 0 1 0 2.9 0a1.45 1.45 0 1 0 -2.9 0zM351.44 291.27a1.45 1.45 0 1 0 2.9 0a1.45 1.45 0 1 0 -2.9 0zM353.13 291.78a1.45 1.45 0 1 0 2.9 0a1.45 1.45 0 1 0 -2.9 0zM354.83 291.95a1.45 1.45 0 1 0 2.9 0a1.45 1.45 0 1 0 -2.9 0zM356.52 291.85a1.45 1.45 0 1 0 2.9 0a1.45 1.45 0 1 0 -2.9 0zM358.21 292.04a1.45 1.45 0 1 0 2.9 0a1.45 1.45 0 1 0 -2.9 0zM359.91 291.42a1.45 1.45 0 1 0 2.9 0a1.45 1.45 0 1 0 -2.9 0zM361.6 290.57a1.45 1.45 0 1 0 2.9 0a1.45 1.45 0 1 0 -2.9 0zM363.29 290.53a1.45 1.45 0 1 0 2.9 0a1.45 1.45 0 1 0 -2.9 0zM364.99 288.93a1.45 1.45 0 1 0 2.9 0a1.45 1.45 0 1 0 -2.9 0zM366.68 287.69a1.45 1.45 0 1 0 2.9 0a1.45 1.45 0 1 0 -2.9 0zM368.37 288.28a1.45 1.45 0 1 0 2.9 0a1.45 1.45 0 1 0 -2.9 0zM370.07 290.11a1.45 1.45 0 1 0 2.9 0a1.45 1.45 0 1 0 -2.9 0zM371.76 286.77a1.45 1.45 0 1 0 2.9 0a1.45 1.45 0 1 0 -2.9 0zM373.46 287.19a1.45 1.45 0 1 0 2.9 0a1.45 1.45 0 1 0 -2.9 0zM375.15 288.44a1.45 1.45 0 1 0 2.9 0a1.45 1.45 0 1 0 -2.9 0zM376.84 289.66a1.45 1.45 0 1 0 2.9 0a1.45 1.45 0 1 0 -2.9 0zM378.54 289.6a1.45 1.45 0 1 0 2.9 0a1.45 1.45 0 1 0 -2.9 0zM380.23 289.69a1.45 1.45 0 1 0 2.9 0a1.45 1.45 0 1 0 -2.9 0zM381.92 290.13a1.45 1.45 0 1 0 2.9 0a1.45 1.45 0 1 0 -2.9 0zM383.62 290.85a1.45 1.45 0 1 0 2.9 0a1.45 1.45 0 1 0 -2.9 0zM385.31 290.27a1.45 1.45 0 1 0 2.9 0a1.45 1.45 0 1 0 -2.9 0zM387 289.72a1.45 1.45 0 1 0 2.9 0a1.45 1.45 0 1 0 -2.9 0zM388.7 289.62a1.45 1.45 0 1 0 2.9 0a1.45 1.45 0 1 0 -2.9 0zM390.39 288a1.45 1.45 0 1 0 2.9 0a1.45 1.45 0 1 0 -2.9 0zM392.08 287.08a1.45 1.45 0 1 0 2.9 0a1.45 1.45 0 1 0 -2.9 0zM393.78 288.56a1.45 1.45 0 1 0 2.9 0a1.45 1.45 0 1 0 -2.9 0zM395.47 287.94a1.45 1.45 0 1 0 2.9 0a1.45 1.45 0 1 0 -2.9 0zM397.16 287.57a1.45 1.45 0 1 0 2.9 0a1.45 1.45 0 1 0 -2.9 0zM398.86 287.22a1.45 1.45 0 1 0 2.9 0a1.45 1.45 0 1 0 -2.9 0zM400.55 285.93a1.45 1.45 0 1 0 2.9 0a1.45 1.45 0 1 0 -2.9 0zM402.24 286.33a1.45 1.45 0 1 0 2.9 0a1.45 1.45 0 1 0 -2.9 0zM403.94 286.81a1.45 1.45 0 1 0 2.9 0a1.45 1.45 0 1 0 -2.9 0zM405.63 287.42a1.45 1.45 0 1 0 2.9 0a1.45 1.45 0 1 0 -2.9 0zM407.33 288.22a1.45 1.45 0 1 0 2.9 0a1.45 1.45 0 1 0 -2.9 0zM409.02 288.41a1.45 1.45 0 1 0 2.9 0a1.45 1.45 0 1 0 -2.9 0zM410.71 288.04a1.45 1.45 0 1 0 2.9 0a1.45 1.45 0 1 0 -2.9 0zM412.41 288.46a1.45 1.45 0 1 0 2.9 0a1.45 1.45 0 1 0 -2.9 0zM414.1 289.24a1.45 1.45 0 1 0 2.9 0a1.45 1.45 0 1 0 -2.9 0zM415.79 287.63a1.45 1.45 0 1 0 2.9 0a1.45 1.45 0 1 0 -2.9 0zM417.49 285.88a1.45 1.45 0 1 0 2.9 0a1.45 1.45 0 1 0 -2.9 0zM419.18 284.53a1.45 1.45 0 1 0 2.9 0a1.45 1.45 0 1 0 -2.9 0zM420.87 284.2a1.45 1.45 0 1 0 2.9 0a1.45 1.45 0 1 0 -2.9 0zM422.57 284.45a1.45 1.45 0 1 0 2.9 0a1.45 1.45 0 1 0 -2.9 0zM424.26 283.81a1.45 1.45 0 1 0 2.9 0a1.45 1.45 0 1 0 -2.9 0zM425.95 285.32a1.45 1.45 0 1 0 2.9 0a1.45 1.45 0 1 0 -2.9 0zM427.65 287.11a1.45 1.45 0 1 0 2.9 0a1.45 1.45 0 1 0 -2.9 0zM429.34 287.26a1.45 1.45 0 1 0 2.9 0a1.45 1.45 0 1 0 -2.9 0zM431.03 286.87a1.45 1.45 0 1 0 2.9 0a1.45 1.45 0 1 0 -2.9 0zM432.73 286.94a1.45 1.45 0 1 0 2.9 0a1.45 1.45 0 1 0 -2.9 0zM434.42 286.5a1.45 1.45 0 1 0 2.9 0a1.45 1.45 0 1 0 -2.9 0zM436.11 284.94a1.45 1.45 0 1 0 2.9 0a1.45 1.45 0 1 0 -2.9 0zM437.81 286.18a1.45 1.45 0 1 0 2.9 0a1.45 1.45 0 1 0 -2.9 0zM439.5 287.02a1.45 1.45 0 1 0 2.9 0a1.45 1.45 0 1 0 -2.9 0zM441.2 286.54a1.45 1.45 0 1 0 2.9 0a1.45 1.45 0 1 0 -2.9 0zM442.89 286.11a1.45 1.45 0 1 0 2.9 0a1.45 1.45 0 1 0 -2.9 0zM444.58 284.7a1.45 1.45 0 1 0 2.9 0a1.45 1.45 0 1 0 -2.9 0zM446.28 284.25a1.45 1.45 0 1 0 2.9 0a1.45 1.45 0 1 0 -2.9 0zM447.97 286.29a1.45 1.45 0 1 0 2.9 0a1.45 1.45 0 1 0 -2.9 0zM449.66 287.55a1.45 1.45 0 1 0 2.9 0a1.45 1.45 0 1 0 -2.9 0zM451.36 287.4a1.45 1.45 0 1 0 2.9 0a1.45 1.45 0 1 0 -2.9 0zM453.05 287.34a1.45 1.45 0 1 0 2.9 0a1.45 1.45 0 1 0 -2.9 0zM454.74 286.87a1.45 1.45 0 1 0 2.9 0a1.45 1.45 0 1 0 -2.9 0zM456.44 287.11a1.45 1.45 0 1 0 2.9 0a1.45 1.45 0 1 0 -2.9 0zM458.13 283.82a1.45 1.45 0 1 0 2.9 0a1.45 1.45 0 1 0 -2.9 0zM459.82 283.66a1.45 1.45 0 1 0 2.9 0a1.45 1.45 0 1 0 -2.9 0zM461.52 283.11a1.45 1.45 0 1 0 2.9 0a1.45 1.45 0 1 0 -2.9 0zM463.21 284.3a1.45 1.45 0 1 0 2.9 0a1.45 1.45 0 1 0 -2.9 0zM464.9 286.04a1.45 1.45 0 1 0 2.9 0a1.45 1.45 0 1 0 -2.9 0zM466.6 286.31a1.45 1.45 0 1 0 2.9 0a1.45 1.45 0 1 0 -2.9 0zM468.29 286.12a1.45 1.45 0 1 0 2.9 0a1.45 1.45 0 1 0 -2.9 0zM469.98 286.77a1.45 1.45 0 1 0 2.9 0a1.45 1.45 0 1 0 -2.9 0zM471.68 286.4a1.45 1.45 0 1 0 2.9 0a1.45 1.45 0 1 0 -2.9 0zM473.37 285.6a1.45 1.45 0 1 0 2.9 0a1.45 1.45 0 1 0 -2.9 0zM475.07 285.09a1.45 1.45 0 1 0 2.9 0a1.45 1.45 0 1 0 -2.9 0zM476.76 286.03a1.45 1.45 0 1 0 2.9 0a1.45 1.45 0 1 0 -2.9 0zM478.45 284.99a1.45 1.45 0 1 0 2.9 0a1.45 1.45 0 1 0 -2.9 0zM480.15 282.84a1.45 1.45 0 1 0 2.9 0a1.45 1.45 0 1 0 -2.9 0zM481.84 283.35a1.45 1.45 0 1 0 2.9 0a1.45 1.45 0 1 0 -2.9 0zM483.53 283.79a1.45 1.45 0 1 0 2.9 0a1.45 1.45 0 1 0 -2.9 0zM485.23 283.2a1.45 1.45 0 1 0 2.9 0a1.45 1.45 0 1 0 -2.9 0zM486.92 284.11a1.45 1.45 0 1 0 2.9 0a1.45 1.45 0 1 0 -2.9 0zM488.61 284.2a1.45 1.45 0 1 0 2.9 0a1.45 1.45 0 1 0 -2.9 0zM490.31 284.34a1.45 1.45 0 1 0 2.9 0a1.45 1.45 0 1 0 -2.9 0zM492 284.92a1.45 1.45 0 1 0 2.9 0a1.45 1.45 0 1 0 -2.9 0zM493.69 285.53a1.45 1.45 0 1 0 2.9 0a1.45 1.45 0 1 0 -2.9 0zM495.39 285.33a1.45 1.45 0 1 0 2.9 0a1.45 1.45 0 1 0 -2.9 0zM497.08 285.29a1.45 1.45 0 1 0 2.9 0a1.45 1.45 0 1 0 -2.9 0zM498.77 285.06a1.45 1.45 0 1 0 2.9 0a1.45 1.45 0 1 0 -2.9 0zM500.47 285.76a1.45 1.45 0 1 0 2.9 0a1.45 1.45 0 1 0 -2.9 0zM502.16 285.29a1.45 1.45 0 1 0 2.9 0a1.45 1.45 0 1 0 -2.9 0zM503.85 285.62a1.45 1.45 0 1 0 2.9 0a1.45 1.45 0 1 0 -2.9 0zM505.55 285.59a1.45 1.45 0 1 0 2.9 0a1.45 1.45 0 1 0 -2.9 0zM507.24 285.21a1.45 1.45 0 1 0 2.9 0a1.45 1.45 0 1 0 -2.9 0zM508.94 285.76a1.45 1.45 0 1 0 2.9 0a1.45 1.45 0 1 0 -2.9 0zM510.63 285.98a1.45 1.45 0 1 0 2.9 0a1.45 1.45 0 1 0 -2.9 0zM512.32 286.04a1.45 1.45 0 1 0 2.9 0a1.45 1.45 0 1 0 -2.9 0zM514.02 285.91a1.45 1.45 0 1 0 2.9 0a1.45 1.45 0 1 0 -2.9 0zM515.71 285.93a1.45 1.45 0 1 0 2.9 0a1.45 1.45 0 1 0 -2.9 0zM517.4 285.28a1.45 1.45 0 1 0 2.9 0a1.45 1.45 0 1 0 -2.9 0zM519.1 284.92a1.45 1.45 0 1 0 2.9 0a1.45 1.45 0 1 0 -2.9 0zM520.79 284.44a1.45 1.45 0 1 0 2.9 0a1.45 1.45 0 1 0 -2.9 0zM522.48 283.78a1.45 1.45 0 1 0 2.9 0a1.45 1.45 0 1 0 -2.9 0zM524.18 283.58a1.45 1.45 0 1 0 2.9 0a1.45 1.45 0 1 0 -2.9 0zM525.87 284.04a1.45 1.45 0 1 0 2.9 0a1.45 1.45 0 1 0 -2.9 0zM527.56 284.64a1.45 1.45 0 1 0 2.9 0a1.45 1.45 0 1 0 -2.9 0zM529.26 284.71a1.45 1.45 0 1 0 2.9 0a1.45 1.45 0 1 0 -2.9 0zM530.95 285.51a1.45 1.45 0 1 0 2.9 0a1.45 1.45 0 1 0 -2.9 0zM532.64 285.26a1.45 1.45 0 1 0 2.9 0a1.45 1.45 0 1 0 -2.9 0zM534.34 284.99a1.45 1.45 0 1 0 2.9 0a1.45 1.45 0 1 0 -2.9 0zM536.03 285.51a1.45 1.45 0 1 0 2.9 0a1.45 1.45 0 1 0 -2.9 0zM537.72 285a1.45 1.45 0 1 0 2.9 0a1.45 1.45 0 1 0 -2.9 0zM539.42 284.4a1.45 1.45 0 1 0 2.9 0a1.45 1.45 0 1 0 -2.9 0zM541.11 284.43a1.45 1.45 0 1 0 2.9 0a1.45 1.45 0 1 0 -2.9 0zM542.81 285.16a1.45 1.45 0 1 0 2.9 0a1.45 1.45 0 1 0 -2.9 0zM544.5 285.18a1.45 1.45 0 1 0 2.9 0a1.45 1.45 0 1 0 -2.9 0zM546.19 284.84a1.45 1.45 0 1 0 2.9 0a1.45 1.45 0 1 0 -2.9 0zM547.89 285.23a1.45 1.45 0 1 0 2.9 0a1.45 1.45 0 1 0 -2.9 0zM549.58 285.08a1.45 1.45 0 1 0 2.9 0a1.45 1.45 0 1 0 -2.9 0zM551.27 285.31a1.45 1.45 0 1 0 2.9 0a1.45 1.45 0 1 0 -2.9 0zM552.97 284.74a1.45 1.45 0 1 0 2.9 0a1.45 1.45 0 1 0 -2.9 0zM554.66 284.67a1.45 1.45 0 1 0 2.9 0a1.45 1.45 0 1 0 -2.9 0zM556.35 284.6a1.45 1.45 0 1 0 2.9 0a1.45 1.45 0 1 0 -2.9 0zM558.05 285.43a1.45 1.45 0 1 0 2.9 0a1.45 1.45 0 1 0 -2.9 0zM559.74 284.9a1.45 1.45 0 1 0 2.9 0a1.45 1.45 0 1 0 -2.9 0zM561.43 285.01a1.45 1.45 0 1 0 2.9 0a1.45 1.45 0 1 0 -2.9 0zM563.13 285.6a1.45 1.45 0 1 0 2.9 0a1.45 1.45 0 1 0 -2.9 0zM564.82 284.88a1.45 1.45 0 1 0 2.9 0a1.45 1.45 0 1 0 -2.9 0zM566.51 284.84a1.45 1.45 0 1 0 2.9 0a1.45 1.45 0 1 0 -2.9 0zM568.21 285.37a1.45 1.45 0 1 0 2.9 0a1.45 1.45 0 1 0 -2.9 0zM569.9 284.11a1.45 1.45 0 1 0 2.9 0a1.45 1.45 0 1 0 -2.9 0zM571.59 284.2a1.45 1.45 0 1 0 2.9 0a1.45 1.45 0 1 0 -2.9 0zM573.29 283.61a1.45 1.45 0 1 0 2.9 0a1.45 1.45 0 1 0 -2.9 0zM574.98 282.88a1.45 1.45 0 1 0 2.9 0a1.45 1.45 0 1 0 -2.9 0zM576.68 283.32a1.45 1.45 0 1 0 2.9 0a1.45 1.45 0 1 0 -2.9 0zM578.37 284.29a1.45 1.45 0 1 0 2.9 0a1.45 1.45 0 1 0 -2.9 0zM580.06 284.28a1.45 1.45 0 1 0 2.9 0a1.45 1.45 0 1 0 -2.9 0zM581.76 284.47a1.45 1.45 0 1 0 2.9 0a1.45 1.45 0 1 0 -2.9 0zM583.45 284.93a1.45 1.45 0 1 0 2.9 0a1.45 1.45 0 1 0 -2.9 0zM585.14 285.35a1.45 1.45 0 1 0 2.9 0a1.45 1.45 0 1 0 -2.9 0zM586.84 285.49a1.45 1.45 0 1 0 2.9 0a1.45 1.45 0 1 0 -2.9 0zM588.53 285.35a1.45 1.45 0 1 0 2.9 0a1.45 1.45 0 1 0 -2.9 0zM590.22 286.35a1.45 1.45 0 1 0 2.9 0a1.45 1.45 0 1 0 -2.9 0zM591.92 286.07a1.45 1.45 0 1 0 2.9 0a1.45 1.45 0 1 0 -2.9 0zM593.61 286.46a1.45 1.45 0 1 0 2.9 0a1.45 1.45 0 1 0 -2.9 0zM595.3 287.17a1.45 1.45 0 1 0 2.9 0a1.45 1.45 0 1 0 -2.9 0zM597 286.13a1.45 1.45 0 1 0 2.9 0a1.45 1.45 0 1 0 -2.9 0zM598.69 284.86a1.45 1.45 0 1 0 2.9 0a1.45 1.45 0 1 0 -2.9 0zM600.38 284a1.45 1.45 0 1 0 2.9 0a1.45 1.45 0 1 0 -2.9 0zM602.08 284.31a1.45 1.45 0 1 0 2.9 0a1.45 1.45 0 1 0 -2.9 0zM603.77 283.21a1.45 1.45 0 1 0 2.9 0a1.45 1.45 0 1 0 -2.9 0zM605.46 283.29a1.45 1.45 0 1 0 2.9 0a1.45 1.45 0 1 0 -2.9 0zM607.16 282.97a1.45 1.45 0 1 0 2.9 0a1.45 1.45 0 1 0 -2.9 0zM608.85 283.74a1.45 1.45 0 1 0 2.9 0a1.45 1.45 0 1 0 -2.9 0zM610.55 283.44a1.45 1.45 0 1 0 2.9 0a1.45 1.45 0 1 0 -2.9 0zM612.24 283.54a1.45 1.45 0 1 0 2.9 0a1.45 1.45 0 1 0 -2.9 0zM613.93 282.64a1.45 1.45 0 1 0 2.9 0a1.45 1.45 0 1 0 -2.9 0zM615.63 283.04a1.45 1.45 0 1 0 2.9 0a1.45 1.45 0 1 0 -2.9 0zM617.32 283.06a1.45 1.45 0 1 0 2.9 0a1.45 1.45 0 1 0 -2.9 0zM619.01 282.69a1.45 1.45 0 1 0 2.9 0a1.45 1.45 0 1 0 -2.9 0z" fill="#000"/>
<circle cx="557.8" cy="279.86" r="1.4" fill="#000"/>
<text x="46.6" y="176.3" font-family="Liberation Sans, sans-serif" font-size="10.3" font-weight="bold" fill="#000" text-anchor="end" >0</text>
<text x="46.6" y="157.3" font-family="Liberation Sans, sans-serif" font-size="10.3" font-weight="bold" fill="#000" text-anchor="end" >5</text>
<text x="46.6" y="138.3" font-family="Liberation Sans, sans-serif" font-size="10.3" font-weight="bold" fill="#000" text-anchor="end" >10</text>
<text x="46.6" y="119.3" font-family="Liberation Sans, sans-serif" font-size="10.3" font-weight="bold" fill="#000" text-anchor="end" >15</text>
<text x="46.6" y="100.3" font-family="Liberation Sans, sans-serif" font-size="10.3" font-weight="bold" fill="#000" text-anchor="end" >20</text>
<text x="46.6" y="81.3" font-family="Liberation Sans, sans-serif" font-size="10.3" font-weight="bold" fill="#000" text-anchor="end" >25</text>
<text x="46.6" y="62.3" font-family="Liberation Sans, sans-serif" font-size="10.3" font-weight="bold" fill="#000" text-anchor="end" >30</text>
<text x="46.6" y="43.3" font-family="Liberation Sans, sans-serif" font-size="10.3" font-weight="bold" fill="#000" text-anchor="end" >35</text>
<text x="46.6" y="24.3" font-family="Liberation Sans, sans-serif" font-size="10.3" font-weight="bold" fill="#000" text-anchor="end" >40</text>
<text x="50.6" y="182.8" font-family="Liberation Sans, sans-serif" font-size="10.3" font-weight="bold" fill="#000" text-anchor="middle" >0</text>
<text x="135.28" y="182.8" font-family="Liberation Sans, sans-serif" font-size="10.3" font-weight="bold" fill="#000" text-anchor="middle" >50</text>
<text x="219.95" y="182.8" font-family="Liberation Sans, sans-serif" font-size="10.3" font-weight="bold" fill="#000" text-anchor="middle" >100</text>
<text x="304.62" y="182.8" font-family="Liberation Sans, sans-serif" font-size="10.3" font-weight="bold" fill="#000" text-anchor="middle" >150</text>
<text x="389.3" y="182.8" font-family="Liberation Sans, sans-serif" font-size="10.3" font-weight="bold" fill="#000" text-anchor="middle" >200</text>
<text x="473.98" y="182.8" font-family="Liberation Sans, sans-serif" font-size="10.3" font-weight="bold" fill="#000" text-anchor="middle" >250</text>
<text x="558.65" y="182.8" font-family="Liberation Sans, sans-serif" font-size="10.3" font-weight="bold" fill="#000" text-anchor="middle" >300</text>
<text x="620.8" y="192.6" font-family="Liberation Sans, sans-serif" font-size="9.6" font-weight="bold" fill="#000" text-anchor="end" >RUN</text>
<text x="46.6" y="374.85" font-family="Liberation Sans, sans-serif" font-size="10.3" font-weight="bold" fill="#000" text-anchor="end" >-5</text>
<text x="625.3" y="374.55" font-family="Liberation Sans, sans-serif" font-size="10.3" font-weight="bold" fill="#000" text-anchor="start" >-5</text>
<text x="46.6" y="353.1" font-family="Liberation Sans, sans-serif" font-size="10.3" font-weight="bold" fill="#000" text-anchor="end" >0</text>
<text x="625.3" y="352.8" font-family="Liberation Sans, sans-serif" font-size="10.3" font-weight="bold" fill="#000" text-anchor="start" >0</text>
<text x="46.6" y="331.35" font-family="Liberation Sans, sans-serif" font-size="10.3" font-weight="bold" fill="#000" text-anchor="end" >5</text>
<text x="625.3" y="331.05" font-family="Liberation Sans, sans-serif" font-size="10.3" font-weight="bold" fill="#000" text-anchor="start" >5</text>
<text x="46.6" y="309.6" font-family="Liberation Sans, sans-serif" font-size="10.3" font-weight="bold" fill="#000" text-anchor="end" >10</text>
<text x="625.3" y="309.3" font-family="Liberation Sans, sans-serif" font-size="10.3" font-weight="bold" fill="#000" text-anchor="start" >10</text>
<text x="46.6" y="287.85" font-family="Liberation Sans, sans-serif" font-size="10.3" font-weight="bold" fill="#000" text-anchor="end" >15</text>
<text x="625.3" y="287.55" font-family="Liberation Sans, sans-serif" font-size="10.3" font-weight="bold" fill="#000" text-anchor="start" >15</text>
<text x="46.6" y="266.1" font-family="Liberation Sans, sans-serif" font-size="10.3" font-weight="bold" fill="#000" text-anchor="end" >20</text>
<text x="625.3" y="265.8" font-family="Liberation Sans, sans-serif" font-size="10.3" font-weight="bold" fill="#000" text-anchor="start" >20</text>
<text x="46.6" y="244.35" font-family="Liberation Sans, sans-serif" font-size="10.3" font-weight="bold" fill="#000" text-anchor="end" >25</text>
<text x="625.3" y="244.05" font-family="Liberation Sans, sans-serif" font-size="10.3" font-weight="bold" fill="#000" text-anchor="start" >25</text>
<text x="46.6" y="222.6" font-family="Liberation Sans, sans-serif" font-size="10.3" font-weight="bold" fill="#000" text-anchor="end" >30</text>
<text x="625.3" y="222.3" font-family="Liberation Sans, sans-serif" font-size="10.3" font-weight="bold" fill="#000" text-anchor="start" >30</text>
<text x="50.6" y="380.8" font-family="Liberation Sans, sans-serif" font-size="10.3" font-weight="bold" fill="#000" text-anchor="middle" >0</text>
<text x="135.28" y="380.8" font-family="Liberation Sans, sans-serif" font-size="10.3" font-weight="bold" fill="#000" text-anchor="middle" >50</text>
<text x="219.95" y="380.8" font-family="Liberation Sans, sans-serif" font-size="10.3" font-weight="bold" fill="#000" text-anchor="middle" >100</text>
<text x="304.62" y="380.8" font-family="Liberation Sans, sans-serif" font-size="10.3" font-weight="bold" fill="#000" text-anchor="middle" >150</text>
<text x="389.3" y="380.8" font-family="Liberation Sans, sans-serif" font-size="10.3" font-weight="bold" fill="#000" text-anchor="middle" >200</text>
<text x="473.98" y="380.8" font-family="Liberation Sans, sans-serif" font-size="10.3" font-weight="bold" fill="#000" text-anchor="middle" >250</text>
<text x="558.65" y="380.8" font-family="Liberation Sans, sans-serif" font-size="10.3" font-weight="bold" fill="#000" text-anchor="middle" >300</text>
<text x="620.8" y="391.6" font-family="Liberation Sans, sans-serif" font-size="9.6" font-weight="bold" fill="#000" text-anchor="end" >RUN</text>
<text x="264.4" y="15.1" font-family="Liberation Sans, sans-serif" font-size="13.3" font-weight="normal" fill="#000" text-anchor="start" textLength="94" lengthAdjust="spacingAndGlyphs">General Control</text>
<text x="210.8" y="212.9" font-family="Liberation Sans, sans-serif" font-size="13.9" font-weight="normal" fill="#000" text-anchor="start" textLength="182" lengthAdjust="spacingAndGlyphs">Trigger rate &amp; accidental rate</text>
<text transform="translate(9.3,20.5) rotate(-90)" font-family="Liberation Sans, sans-serif" font-size="12" font-weight="bold" text-anchor="end">T(°C)</text>
<text transform="translate(9.8,220.4) rotate(-90)" font-family="Liberation Sans, sans-serif" font-size="12.3" font-weight="bold" text-anchor="end"><tspan font-family="Liberation Serif, serif">ν</tspan>(Hz) - ATR(cHz)</text>
<text transform="translate(669.3,23.6) rotate(-90)" font-family="Liberation Sans, sans-serif" font-size="12.3" font-weight="bold" fill="#9a1020" text-anchor="end">Humidity(%) - Power(%)</text>
<text transform="translate(667.5,218.3) rotate(-90)" font-family="Liberation Sans, sans-serif" font-size="12.3" font-weight="bold" text-anchor="end">T(°C)</text>
<rect x="386.5" y="1.5" width="235" height="33.5" fill="#f0f0f0" stroke="#8c8c8c" stroke-width="1"/>
<line x1="386" y1="35" x2="622" y2="35" stroke="#666" stroke-width="1"/>
<circle cx="396" cy="9.8" r="1.3" fill="#000"/>
<text x="405.6" y="12.8" font-family="Liberation Sans, sans-serif" font-size="10.5" font-weight="bold" fill="#000" text-anchor="start" >Envir.Temp.</text>
<circle cx="489.5" cy="9.2" r="0.7" fill="#8a308a"/>
<text x="499.8" y="12.8" font-family="Liberation Sans, sans-serif" font-size="10.5" font-weight="bold" fill="#000" text-anchor="start" >DewPoint</text>
<rect x="563.6" y="8" width="2.6" height="2.6" fill="#0a5a0a"/>
<text x="574.6" y="12.8" font-family="Liberation Sans, sans-serif" font-size="10.5" font-weight="bold" fill="#000" text-anchor="start" >ChillerT.</text>
<circle cx="395.8" cy="27" r="1" fill="#a01030"/>
<text x="405.6" y="30.4" font-family="Liberation Sans, sans-serif" font-size="10.5" font-weight="bold" fill="#000" text-anchor="start" >PowerChiller</text>
<path d="M488.4 25.3h2.4l-1.2 2z" fill="#b01020"/>
<text x="499.8" y="30.4" font-family="Liberation Sans, sans-serif" font-size="10.5" font-weight="bold" fill="#000" text-anchor="start" >Humidity</text>
<rect x="407.5" y="199.5" width="214" height="26.4" fill="#f0f0f0" stroke="#8c8c8c" stroke-width="1"/>
<line x1="407" y1="226" x2="622" y2="226" stroke="#666" stroke-width="1"/>
<circle cx="416.4" cy="212.6" r="1.3" fill="#1c1cc8"/>
<text x="425.2" y="216.8" font-family="Liberation Sans, sans-serif" font-size="10.5" font-weight="bold" fill="#000" text-anchor="start" >TR</text>
<circle cx="450" cy="212.5" r="1.5" fill="none" stroke="#a07070" stroke-width="0.9"/>
<text x="458.8" y="216.8" font-family="Liberation Sans, sans-serif" font-size="10.5" font-weight="bold" fill="#000" text-anchor="start" >AccidentalTR</text>
<circle cx="545.3" cy="212.6" r="1.3" fill="#000"/>
<text x="554.3" y="216.8" font-family="Liberation Sans, sans-serif" font-size="10.5" font-weight="bold" fill="#000" text-anchor="start" >Envir.Temp.</text>
<path d="M604.5 172.2h17M613 164.62h8.5M613 157.05h8.5M613 149.47h8.5M604.5 141.9h17M613 134.32h8.5M613 126.75h8.5M613 119.17h8.5M604.5 111.6h17M613 104.02h8.5M613 96.45h8.5M613 88.88h8.5M604.5 81.3h17M613 73.72h8.5M613 66.15h8.5M613 58.58h8.5M604.5 51h17M613 43.42h8.5M613 35.85h8.5M613 28.28h8.5M604.5 20.7h17" stroke="#c89098" stroke-width="1" fill="none"/>
<line x1="621.5" y1="20.2" x2="621.5" y2="172.2" stroke="#b06a74" stroke-width="1"/>
<text x="625.4" y="176" font-family="Liberation Sans, sans-serif" font-size="10.3" font-weight="bold" fill="#9a1020" text-anchor="start" >0</text>
<text x="625.4" y="145.7" font-family="Liberation Sans, sans-serif" font-size="10.3" font-weight="bold" fill="#9a1020" text-anchor="start" >20</text>
<text x="625.4" y="115.4" font-family="Liberation Sans, sans-serif" font-size="10.3" font-weight="bold" fill="#9a1020" text-anchor="start" >40</text>
<text x="625.4" y="85.1" font-family="Liberation Sans, sans-serif" font-size="10.3" font-weight="bold" fill="#9a1020" text-anchor="start" >60</text>
<text x="625.4" y="54.8" font-family="Liberation Sans, sans-serif" font-size="10.3" font-weight="bold" fill="#9a1020" text-anchor="start" >80</text>
<text x="625.4" y="24.5" font-family="Liberation Sans, sans-serif" font-size="10.3" font-weight="bold" fill="#9a1020" text-anchor="start" >100</text>
<path d="M604.5 370.75h17M613 366.4h8.5M613 362.05h8.5M613 357.7h8.5M613 353.35h8.5M604.5 349h17M613 344.65h8.5M613 340.3h8.5M613 335.95h8.5M613 331.6h8.5M604.5 327.25h17M613 322.9h8.5M613 318.55h8.5M613 314.2h8.5M613 309.85h8.5M604.5 305.5h17M613 301.15h8.5M613 296.8h8.5M613 292.45h8.5M613 288.1h8.5M604.5 283.75h17M613 279.4h8.5M613 275.05h8.5M613 270.7h8.5M613 266.35h8.5M604.5 262h17M613 257.65h8.5M613 253.3h8.5M613 248.95h8.5M613 244.6h8.5M604.5 240.25h17M613 235.9h8.5M613 231.55h8.5M613 227.2h8.5M613 222.85h8.5M604.5 218.5h17" stroke="#6a6a6a" stroke-width="1" fill="none"/>
<line x1="621.5" y1="218.4" x2="621.5" y2="370.6" stroke="#6a6a6a" stroke-width="1"/>
</svg>
</body></html>
